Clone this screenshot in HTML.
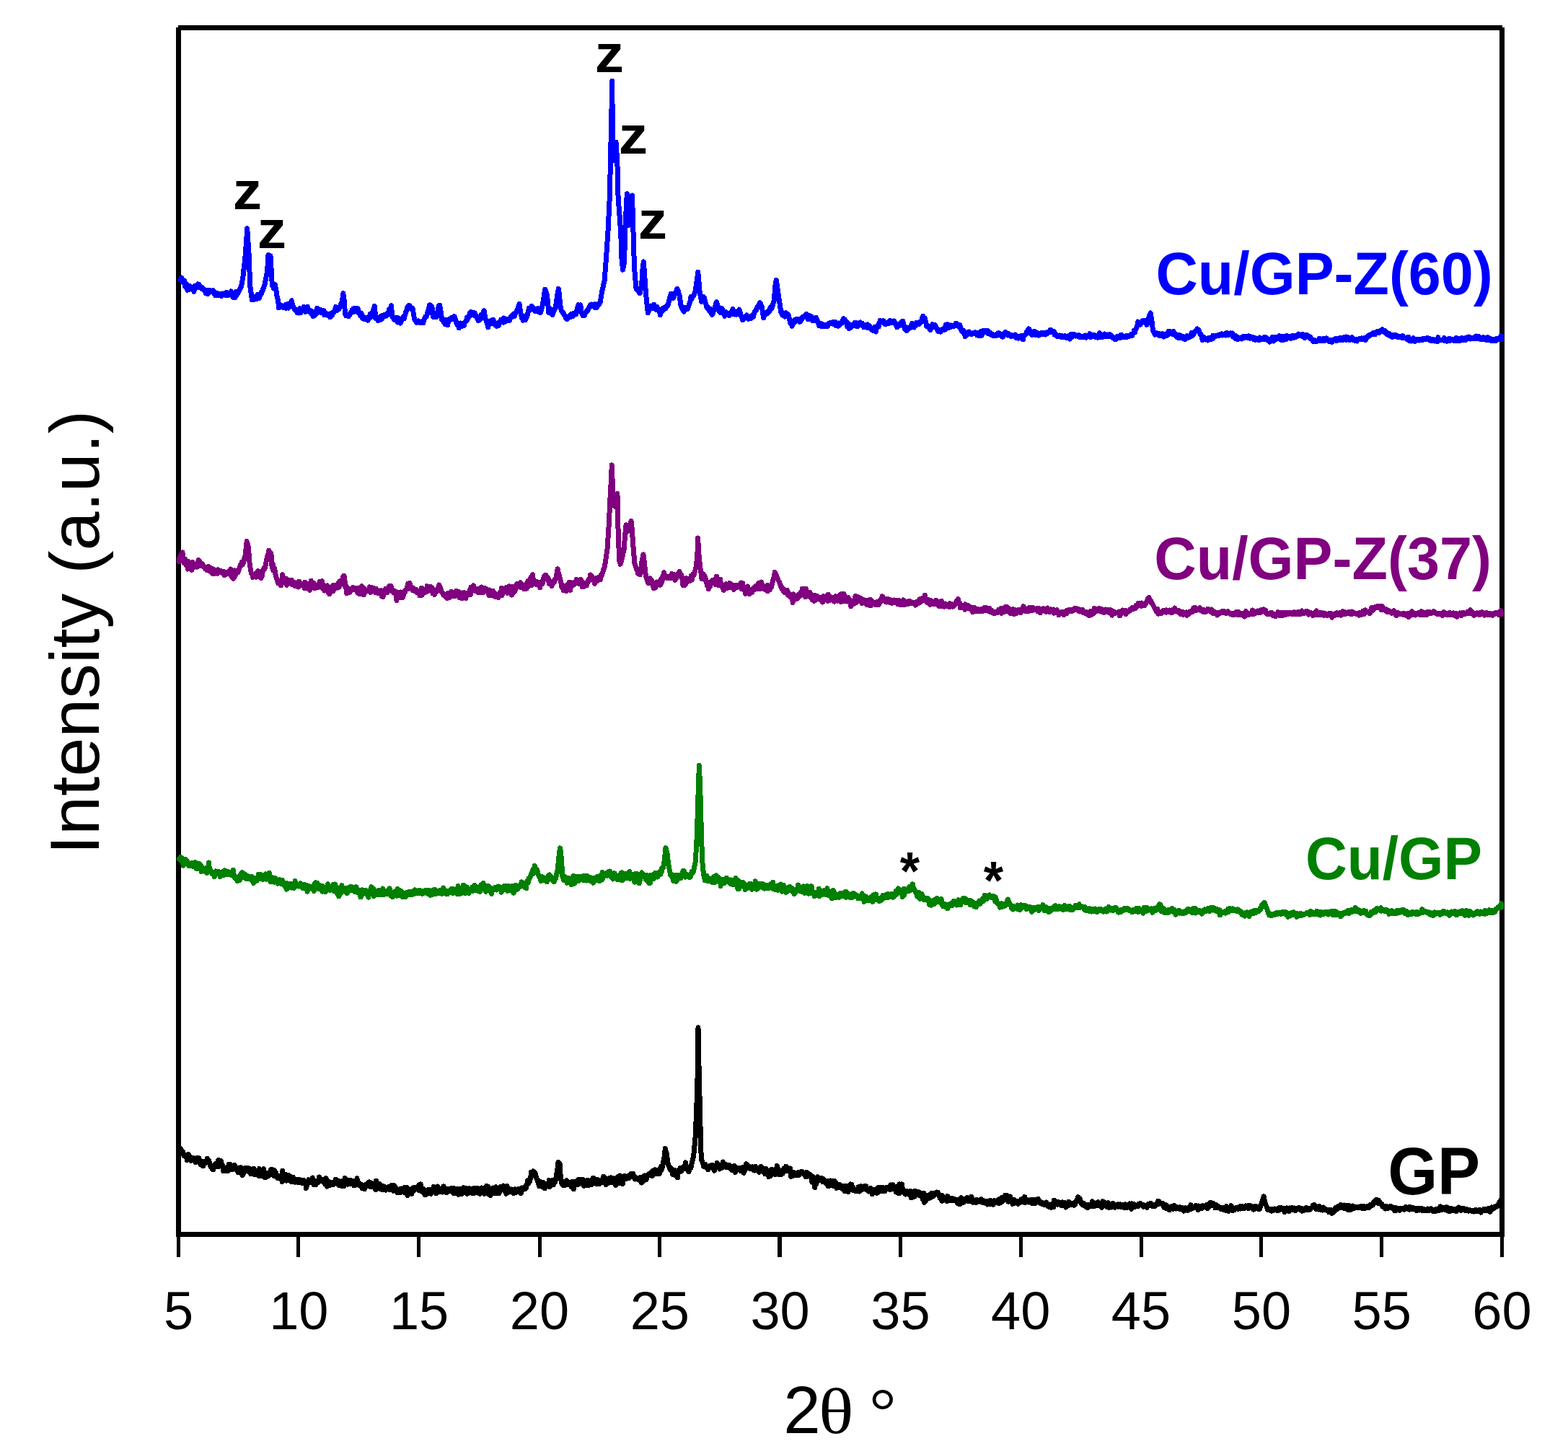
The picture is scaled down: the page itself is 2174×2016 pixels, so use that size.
<!DOCTYPE html>
<html lang="en">
<head>
<meta charset="utf-8">
<title>XRD patterns</title>
<style>
html,body{margin:0;padding:0;background:#fff;}
body{width:2174px;height:2016px;overflow:hidden;}
svg{display:block;position:absolute;left:0;top:0;}
text{font-family:"Liberation Sans",sans-serif;fill:#000;}
.b{font-weight:bold;}
.tick{font-size:74px;text-anchor:middle;}
.z{font-size:74px;font-weight:bold;}
.zz{font-size:74px;font-weight:bold;text-anchor:middle;}
.lab{font-size:81px;font-weight:bold;}
.curve{fill:none;stroke-linejoin:round;stroke-linecap:round;}
</style>
</head>
<body>
<svg width="2174" height="2016" viewBox="0 0 2174 2016">
<rect x="0" y="0" width="2174" height="2016" fill="#fff"/>
<g id="frame" shape-rendering="crispEdges" fill="#000">
<rect x="244" y="38" width="7" height="1677"/>
<rect x="2079" y="38" width="7" height="1677"/>
<rect x="247" y="35" width="1836" height="7"/>
<rect x="244" y="1708" width="1842" height="7"/>
<g id="ticks">
<rect x="245" y="1715" width="5" height="28"/>
<rect x="411" y="1715" width="5" height="28"/>
<rect x="578" y="1715" width="5" height="28"/>
<rect x="745.5" y="1715" width="5" height="28"/>
<rect x="912.3" y="1715" width="5" height="28"/>
<rect x="1078" y="1715" width="6" height="28"/>
<rect x="1245.9" y="1715" width="5" height="28"/>
<rect x="1412.7" y="1715" width="5" height="28"/>
<rect x="1579.5" y="1715" width="5" height="28"/>
<rect x="1746.4" y="1715" width="5" height="28"/>
<rect x="1913.2" y="1715" width="5" height="28"/>
<rect x="2080" y="1715" width="5" height="28"/>
</g>
</g>
<g id="curves" shape-rendering="crispEdges">
<path class="curve" d="M249.7 388.6 L250.3 387.6 L250.9 386.0 L251.5 384.9 L252.2 386.2 L252.9 387.6 L253.6 389.7 L254.3 391.6 L255.0 391.2 L255.6 389.0 L256.3 397.1 L257.0 395.4 L257.7 395.5 L258.4 393.6 L259.1 395.6 L259.8 402.3 L260.5 397.5 L261.2 397.3 L261.9 401.5 L262.6 400.3 L263.3 396.4 L264.0 397.4 L264.7 400.6 L265.4 399.7 L266.1 398.4 L266.8 398.9 L267.5 399.2 L268.2 399.5 L268.9 404.4 L269.5 400.3 L270.2 396.4 L270.8 396.7 L271.5 398.1 L272.1 397.5 L272.8 395.6 L273.5 395.8 L274.1 394.0 L274.7 398.3 L275.4 397.1 L276.0 394.5 L276.7 396.8 L277.3 398.1 L278.0 397.2 L278.6 398.3 L279.2 398.2 L279.9 400.7 L280.6 400.9 L281.3 399.4 L281.9 400.8 L282.6 401.8 L283.3 401.6 L283.9 403.1 L284.6 403.9 L285.3 406.7 L286.0 406.0 L286.6 404.8 L287.3 404.9 L288.0 407.5 L288.6 402.3 L289.2 406.4 L289.9 403.6 L290.5 403.4 L291.2 403.5 L291.8 402.7 L292.4 404.1 L293.1 403.1 L293.8 403.9 L294.5 404.1 L295.2 403.9 L295.9 402.8 L296.5 406.5 L297.2 404.7 L297.9 407.9 L298.6 409.7 L299.3 407.5 L300.0 407.3 L300.7 409.5 L301.3 406.4 L301.9 409.3 L302.6 407.7 L303.2 409.7 L303.9 407.8 L304.5 407.3 L305.1 408.5 L305.8 409.2 L306.5 408.9 L307.2 410.7 L307.9 407.0 L308.5 406.9 L309.2 407.1 L309.9 407.6 L310.6 406.9 L311.3 407.2 L312.0 408.8 L312.7 409.7 L313.4 406.3 L314.1 405.1 L314.8 408.0 L315.5 407.9 L316.2 409.7 L316.9 407.2 L317.6 406.3 L318.2 407.8 L318.9 407.9 L319.6 407.1 L320.3 403.8 L321.0 407.9 L321.7 409.8 L322.4 410.2 L323.1 412.3 L323.8 409.2 L324.5 412.4 L325.2 409.7 L325.9 412.6 L326.6 404.5 L327.3 410.4 L328.0 407.7 L328.7 406.0 L329.4 407.4 L330.1 406.1 L330.7 404.0 L331.4 402.5 L332.0 402.7 L332.7 399.9 L333.4 399.2 L334.0 398.2 L334.7 396.4 L335.4 392.2 L336.2 387.9 L337.0 383.5 L337.7 376.2 L338.4 370.4 L339.1 364.3 L339.8 357.7 L340.4 350.9 L341.2 339.9 L342.0 328.2 L342.7 316.8 L343.5 328.5 L344.2 339.5 L345.0 351.2 L345.6 365.9 L346.2 381.3 L346.8 397.0 L347.5 401.9 L348.2 406.8 L348.9 411.7 L349.6 415.8 L350.2 415.8 L350.9 413.2 L351.6 412.0 L352.2 415.4 L352.9 413.7 L353.5 414.4 L354.2 411.5 L354.9 413.3 L355.6 411.0 L356.2 414.4 L356.9 414.2 L357.6 408.3 L358.3 411.3 L359.0 411.9 L359.7 413.4 L360.3 409.7 L361.0 409.1 L361.7 406.1 L362.4 407.6 L363.0 405.6 L363.7 403.9 L364.4 401.8 L365.0 399.7 L365.7 398.4 L366.3 396.4 L367.0 394.8 L367.7 390.8 L368.4 388.0 L369.1 383.4 L369.8 380.1 L370.5 376.4 L371.2 365.8 L372.0 353.5 L372.8 354.8 L373.5 354.2 L374.3 354.9 L375.0 354.9 L375.6 364.3 L376.1 374.0 L376.7 384.1 L377.3 395.7 L378.0 393.9 L378.7 395.7 L379.4 399.7 L380.1 394.8 L380.7 397.0 L381.4 394.8 L382.2 399.1 L383.0 403.1 L383.7 408.7 L384.4 412.0 L385.1 415.2 L385.8 418.4 L386.5 426.7 L387.2 422.3 L387.8 423.0 L388.4 424.7 L389.1 422.7 L389.7 424.3 L390.3 425.0 L391.0 423.9 L391.6 424.5 L392.3 426.4 L392.9 426.3 L393.5 426.1 L394.2 424.6 L394.8 423.5 L395.5 426.5 L396.1 422.8 L396.7 427.3 L397.4 427.1 L398.0 424.2 L398.7 421.7 L399.3 425.7 L400.0 427.1 L400.7 423.2 L401.4 421.2 L402.1 424.8 L402.8 422.4 L403.6 419.1 L404.3 416.7 L404.9 420.0 L405.5 422.0 L406.1 424.4 L406.8 425.2 L407.5 427.3 L408.1 428.7 L408.8 428.8 L409.4 429.8 L410.1 430.6 L410.8 431.2 L411.4 431.3 L412.0 433.8 L412.7 429.1 L413.3 429.8 L414.0 431.2 L414.6 434.0 L415.2 432.1 L415.9 427.5 L416.5 431.3 L417.2 433.5 L417.9 430.5 L418.6 430.4 L419.2 431.2 L419.9 429.2 L420.6 430.1 L421.3 425.4 L421.9 427.6 L422.6 431.2 L423.3 432.4 L424.0 429.8 L424.6 427.3 L425.3 428.6 L425.9 430.6 L426.6 425.3 L427.2 430.4 L427.9 431.5 L428.5 431.7 L429.1 432.5 L429.8 431.8 L430.4 430.8 L431.1 431.0 L431.7 431.0 L432.4 435.3 L433.1 437.1 L433.7 435.0 L434.4 438.5 L435.0 435.8 L435.7 436.1 L436.4 437.5 L437.0 432.8 L437.7 431.6 L438.3 435.6 L439.0 428.8 L439.6 427.1 L440.3 431.0 L440.9 432.8 L441.6 432.3 L442.2 430.3 L442.9 432.9 L443.5 431.9 L444.1 429.5 L444.8 433.2 L445.4 430.9 L446.1 432.0 L446.7 433.7 L447.3 431.0 L448.0 430.2 L448.6 433.9 L449.3 431.0 L449.9 436.9 L450.5 436.5 L451.2 433.5 L451.8 434.6 L452.5 435.6 L453.1 435.2 L453.8 437.1 L454.4 436.9 L455.0 436.4 L455.7 437.6 L456.3 436.6 L457.0 437.9 L457.6 439.8 L458.3 434.7 L458.9 436.3 L459.6 434.2 L460.3 437.7 L460.9 433.2 L461.6 433.0 L462.2 433.9 L462.9 432.5 L463.6 432.6 L464.2 430.9 L464.9 427.4 L465.6 425.5 L466.2 426.2 L466.9 429.0 L467.6 430.4 L468.2 427.5 L468.9 427.3 L469.5 428.7 L470.2 428.0 L470.9 426.9 L471.5 425.0 L472.2 422.9 L472.9 421.4 L473.6 419.9 L474.3 417.7 L475.1 412.3 L475.9 406.7 L476.4 411.3 L477.0 415.1 L477.6 423.3 L478.2 430.4 L478.8 436.3 L479.5 437.7 L480.2 436.8 L480.8 437.4 L481.5 435.9 L482.1 436.6 L482.8 438.2 L483.5 438.7 L484.1 436.3 L484.8 436.7 L485.4 435.2 L486.1 433.2 L486.8 433.0 L487.4 433.3 L488.1 429.9 L488.7 431.6 L489.4 428.5 L490.0 432.6 L490.7 432.2 L491.3 429.6 L491.9 427.1 L492.6 431.8 L493.2 431.9 L493.9 430.8 L494.5 431.6 L495.2 432.5 L495.9 427.6 L496.5 429.4 L497.2 433.8 L497.8 432.3 L498.5 434.9 L499.2 433.8 L499.8 438.0 L500.5 435.4 L501.1 434.4 L501.8 437.7 L502.5 441.3 L503.1 438.6 L503.8 440.8 L504.5 440.4 L505.2 443.0 L505.9 440.7 L506.6 441.7 L507.3 440.1 L508.0 442.1 L508.7 440.9 L509.4 443.3 L510.1 444.2 L510.7 442.4 L511.4 441.2 L512.0 438.7 L512.7 441.1 L513.3 435.2 L513.9 439.0 L514.6 438.8 L515.2 436.9 L515.9 435.4 L516.5 433.8 L517.2 431.2 L517.9 428.9 L518.6 427.0 L519.3 424.4 L520.1 432.7 L520.8 441.3 L521.5 438.8 L522.1 441.2 L522.8 442.4 L523.4 442.0 L524.1 444.6 L524.7 441.6 L525.4 440.9 L526.0 441.6 L526.7 443.7 L527.3 442.2 L528.0 439.0 L528.7 438.1 L529.4 442.4 L530.0 440.5 L530.7 439.1 L531.4 437.5 L532.1 438.0 L532.8 438.6 L533.4 436.4 L534.1 436.6 L534.8 438.4 L535.5 437.5 L536.1 435.5 L536.8 436.5 L537.5 434.4 L538.1 434.4 L538.8 433.7 L539.4 429.3 L540.1 434.0 L540.9 430.6 L541.6 427.3 L542.4 423.7 L543.1 430.7 L543.9 439.2 L544.7 439.4 L545.4 441.2 L546.2 442.7 L546.9 441.3 L547.6 443.7 L548.3 442.8 L549.0 442.3 L549.7 440.2 L550.4 441.4 L551.1 440.2 L551.7 447.1 L552.4 441.1 L553.1 445.9 L553.8 442.4 L554.4 445.8 L555.1 448.1 L555.7 444.6 L556.4 445.5 L557.0 444.3 L557.7 442.8 L558.3 442.4 L558.9 439.8 L559.6 438.6 L560.2 441.9 L560.9 438.4 L561.5 436.6 L562.2 434.8 L562.8 432.4 L563.5 431.0 L564.1 428.9 L564.8 426.6 L565.4 424.8 L566.1 424.0 L566.8 424.6 L567.5 426.7 L568.2 423.7 L568.9 427.5 L569.6 426.5 L570.3 427.2 L571.0 428.4 L571.7 427.0 L572.4 428.8 L573.1 433.8 L573.9 438.1 L574.6 442.3 L575.3 443.5 L576.0 444.9 L576.7 445.6 L577.4 447.2 L578.1 445.3 L578.8 446.5 L579.4 446.3 L580.1 444.9 L580.8 447.1 L581.5 446.7 L582.2 447.8 L582.9 446.2 L583.5 447.3 L584.2 447.3 L584.9 445.9 L585.6 447.7 L586.3 447.0 L586.9 447.4 L587.5 444.5 L588.2 442.1 L588.8 441.7 L589.5 440.1 L590.1 438.7 L590.7 438.3 L591.4 438.8 L592.0 436.5 L592.7 433.8 L593.4 431.6 L594.1 429.2 L594.8 426.9 L595.4 423.0 L596.1 425.2 L596.8 423.0 L597.5 427.6 L598.2 424.2 L598.9 424.9 L599.5 430.6 L600.0 436.7 L600.7 439.4 L601.3 435.1 L602.0 437.8 L602.6 437.5 L603.3 434.1 L603.9 439.2 L604.6 438.3 L605.2 439.7 L605.9 438.4 L606.6 434.1 L607.4 429.9 L608.1 424.2 L608.9 426.0 L609.7 423.2 L610.4 426.9 L611.2 432.5 L612.0 438.0 L612.7 443.5 L613.3 441.2 L614.0 443.2 L614.6 444.7 L615.3 447.0 L615.9 446.1 L616.6 446.8 L617.2 449.8 L617.8 445.0 L618.5 443.7 L619.2 445.7 L619.9 446.1 L620.6 450.9 L621.3 446.8 L622.0 445.9 L622.7 442.6 L623.4 443.1 L624.1 443.9 L624.8 442.6 L625.4 441.5 L626.1 440.3 L626.8 442.2 L627.4 442.7 L628.1 442.2 L628.7 439.8 L629.4 441.4 L630.1 438.6 L630.8 441.0 L631.5 443.2 L632.1 445.4 L632.8 447.7 L633.5 449.0 L634.2 450.1 L634.9 451.6 L635.5 448.0 L636.2 454.9 L636.8 452.3 L637.5 450.0 L638.2 452.4 L638.8 447.9 L639.5 450.9 L640.2 452.5 L640.8 450.7 L641.5 451.6 L642.1 450.4 L642.8 451.6 L643.4 451.1 L644.1 447.9 L644.7 446.6 L645.4 446.3 L646.0 444.9 L646.7 444.1 L647.3 440.4 L647.9 443.8 L648.6 440.3 L649.2 440.4 L649.9 439.0 L650.5 439.4 L651.2 434.3 L651.8 436.7 L652.5 436.4 L653.1 432.5 L653.8 433.2 L654.4 434.5 L655.1 435.0 L655.7 436.3 L656.4 433.4 L657.0 435.2 L657.7 433.6 L658.3 437.9 L659.0 435.5 L659.6 437.4 L660.3 439.2 L660.9 440.0 L661.6 441.5 L662.3 442.7 L662.9 444.6 L663.6 444.2 L664.2 444.2 L664.9 443.4 L665.6 441.0 L666.2 442.9 L666.9 436.6 L667.5 439.4 L668.2 438.6 L668.9 436.9 L669.7 434.3 L670.4 432.7 L671.1 430.7 L671.9 435.4 L672.7 440.9 L673.4 442.5 L674.1 444.8 L674.8 446.7 L675.5 447.9 L676.2 451.9 L676.8 453.8 L677.5 448.7 L678.1 448.3 L678.7 450.0 L679.4 444.9 L680.0 444.7 L680.7 448.7 L681.3 445.1 L682.0 444.2 L682.6 446.9 L683.3 447.8 L684.0 443.1 L684.7 448.0 L685.4 447.9 L686.1 449.5 L686.8 451.2 L687.5 451.1 L688.2 451.6 L688.9 452.4 L689.6 451.0 L690.2 449.9 L690.8 447.7 L691.5 451.7 L692.1 448.8 L692.8 448.2 L693.4 447.7 L694.1 445.3 L694.7 443.1 L695.4 443.8 L696.0 446.4 L696.7 443.2 L697.3 446.0 L698.0 447.1 L698.6 441.0 L699.3 442.6 L699.9 446.1 L700.6 445.6 L701.2 444.3 L701.8 442.8 L702.5 444.4 L703.1 443.0 L703.8 444.7 L704.4 443.6 L705.1 444.7 L705.7 444.7 L706.4 444.6 L707.0 441.4 L707.7 440.1 L708.3 440.1 L709.0 439.5 L709.7 437.6 L710.3 439.3 L711.0 438.2 L711.6 438.7 L712.3 435.4 L713.0 437.7 L713.6 438.4 L714.3 435.0 L715.0 433.2 L715.7 432.1 L716.4 430.9 L717.2 429.5 L717.9 427.9 L718.5 426.2 L719.1 424.9 L719.6 422.8 L720.2 421.6 L720.8 426.6 L721.4 431.8 L722.0 434.4 L722.6 436.5 L723.2 439.6 L723.8 441.9 L724.5 442.3 L725.1 444.2 L725.8 443.9 L726.4 441.8 L727.1 440.5 L727.7 438.1 L728.4 443.7 L729.0 442.1 L729.7 438.2 L730.3 440.0 L731.0 437.9 L731.6 436.1 L732.1 433.1 L732.7 430.6 L733.3 427.5 L734.0 427.8 L734.7 428.9 L735.3 427.3 L736.0 429.4 L736.6 428.2 L737.3 424.7 L738.0 425.4 L738.6 426.9 L739.3 426.9 L740.0 429.4 L740.7 428.0 L741.4 431.5 L742.1 431.7 L742.8 430.8 L743.5 431.4 L744.1 430.5 L744.8 431.1 L745.5 430.7 L746.1 427.7 L746.8 432.6 L747.4 428.2 L748.1 430.7 L748.7 430.5 L749.4 433.5 L750.0 431.0 L750.6 429.3 L751.2 426.6 L751.8 424.2 L752.4 422.1 L753.1 417.7 L753.7 413.8 L754.4 409.6 L755.0 405.4 L755.7 401.2 L756.4 403.1 L757.0 404.3 L757.7 406.3 L758.3 407.9 L758.9 413.5 L759.5 419.3 L760.1 425.3 L760.7 433.3 L761.4 430.2 L762.0 431.0 L762.7 428.1 L763.4 433.3 L764.0 432.4 L764.7 429.0 L765.3 436.1 L766.0 436.5 L766.7 434.0 L767.4 432.1 L768.1 431.0 L768.8 428.8 L769.5 428.1 L770.2 427.0 L770.8 422.6 L771.4 418.2 L772.0 414.4 L772.6 410.1 L773.5 405.1 L774.3 400.5 L774.9 404.7 L775.5 409.9 L776.1 416.5 L776.7 422.0 L777.4 427.8 L778.1 430.0 L778.8 431.3 L779.5 432.4 L780.2 433.8 L780.9 433.5 L781.6 435.8 L782.3 437.1 L783.0 437.3 L783.7 438.3 L784.3 440.4 L785.0 441.8 L785.7 442.6 L786.4 442.1 L787.0 440.5 L787.7 441.2 L788.3 439.9 L789.0 438.2 L789.6 440.0 L790.3 439.9 L790.9 436.6 L791.6 438.1 L792.2 435.5 L792.9 437.9 L793.5 435.5 L794.2 438.6 L794.9 435.1 L795.5 434.3 L796.2 435.5 L796.8 436.3 L797.5 433.6 L798.2 434.1 L798.8 435.6 L799.4 432.3 L800.0 429.6 L800.6 427.2 L801.2 425.3 L801.9 422.6 L802.6 424.3 L803.3 423.2 L804.0 423.0 L804.8 422.8 L805.6 428.5 L806.4 433.8 L807.1 435.3 L807.7 437.2 L808.3 435.8 L809.0 435.5 L809.6 434.9 L810.3 437.5 L810.9 435.6 L811.6 434.2 L812.2 432.9 L812.9 431.7 L813.5 431.1 L814.2 431.3 L814.8 430.6 L815.5 429.1 L816.2 427.6 L816.9 426.0 L817.6 424.8 L818.3 423.8 L819.0 422.1 L819.7 422.1 L820.4 422.0 L821.1 422.8 L821.8 422.6 L822.4 423.6 L823.1 425.3 L823.8 425.1 L824.5 421.6 L825.2 426.6 L825.9 426.3 L826.7 426.6 L827.4 425.9 L828.1 425.6 L828.7 422.1 L829.4 421.3 L830.1 423.0 L830.8 420.7 L831.5 420.4 L832.1 419.3 L832.7 415.8 L833.3 412.5 L833.9 408.8 L834.5 404.9 L835.2 402.0 L836.0 398.8 L836.7 395.3 L837.4 391.8 L838.1 388.9 L838.7 381.3 L839.3 373.0 L839.9 365.2 L840.5 357.9 L841.1 348.9 L841.7 339.7 L842.3 330.9 L842.9 322.0 L843.5 310.2 L844.1 298.4 L844.7 285.9 L845.2 274.8 L846.1 238.3 L846.9 202.8 L847.5 172.9 L848.2 143.2 L848.6 112.4 L849.0 143.5 L849.8 179.1 L850.2 212.2 L851.2 222.2 L851.9 215.8 L852.6 209.0 L853.3 203.4 L854.0 197.0 L854.7 206.3 L855.3 216.9 L855.9 226.6 L856.5 250.0 L857.1 274.1 L857.9 284.1 L858.6 293.1 L859.3 302.3 L860.0 312.4 L860.7 321.7 L861.3 339.6 L861.9 357.7 L862.7 365.9 L863.6 374.2 L864.2 371.0 L864.9 367.7 L865.5 364.6 L866.1 343.8 L866.7 322.0 L867.5 304.2 L868.3 286.5 L869.3 268.7 L869.8 286.3 L870.6 299.6 L871.4 312.5 L872.1 307.8 L872.9 303.9 L873.6 298.6 L874.3 294.7 L875.0 290.8 L875.7 286.0 L876.4 271.0 L877.4 298.0 L878.0 321.7 L878.6 345.6 L879.4 362.9 L880.2 381.4 L880.9 387.9 L881.5 394.2 L882.1 400.8 L882.8 400.7 L883.4 402.4 L884.1 402.0 L884.8 402.1 L885.4 403.7 L886.1 405.6 L886.7 402.4 L887.4 406.6 L888.0 403.2 L888.6 400.0 L889.2 396.6 L889.8 393.2 L890.5 381.7 L891.2 370.1 L891.8 366.3 L892.4 362.8 L892.8 369.8 L893.7 380.9 L894.5 393.5 L895.1 401.6 L895.8 409.1 L896.4 417.7 L897.1 422.8 L897.7 428.4 L898.3 433.9 L899.0 432.5 L899.7 431.0 L900.3 429.3 L901.0 428.2 L901.7 427.1 L902.4 424.0 L903.0 425.1 L903.7 425.9 L904.3 427.3 L905.0 425.9 L905.6 425.1 L906.3 427.4 L906.9 422.2 L907.6 424.7 L908.2 426.4 L908.9 425.1 L909.5 424.9 L910.2 429.3 L910.8 425.3 L911.5 426.9 L912.2 428.8 L912.8 429.5 L913.5 429.4 L914.2 432.5 L914.8 433.3 L915.5 436.8 L916.1 433.6 L916.8 433.0 L917.5 430.8 L918.1 431.6 L918.8 431.2 L919.5 427.0 L920.1 429.3 L920.8 429.1 L921.4 426.6 L922.1 427.2 L922.8 427.6 L923.5 426.0 L924.2 425.3 L924.8 423.5 L925.5 424.0 L926.2 423.3 L926.8 420.2 L927.4 417.5 L928.1 415.6 L928.7 412.6 L929.3 410.2 L929.9 409.1 L930.5 407.1 L931.2 408.7 L931.9 410.2 L932.6 412.0 L933.3 413.7 L934.0 412.1 L934.6 410.4 L935.2 409.1 L935.9 407.8 L936.5 406.2 L937.1 404.8 L937.8 403.1 L938.4 401.4 L939.0 400.5 L939.7 402.3 L940.3 403.6 L940.9 406.4 L941.5 408.5 L942.1 409.7 L942.8 414.8 L943.4 419.2 L944.0 423.5 L944.8 426.4 L945.5 426.8 L946.2 428.9 L946.9 425.7 L947.6 431.8 L948.3 432.1 L948.9 430.1 L949.6 429.6 L950.3 426.8 L950.9 428.3 L951.6 426.7 L952.2 427.5 L952.9 428.6 L953.6 427.9 L954.3 425.6 L955.0 423.6 L955.7 421.4 L956.4 418.9 L957.2 416.9 L957.9 411.7 L958.5 413.4 L959.2 414.2 L959.9 412.9 L960.6 410.8 L961.2 410.8 L961.9 409.9 L962.5 408.5 L963.1 406.1 L963.7 404.4 L964.3 403.5 L965.0 397.5 L965.7 392.7 L966.4 387.4 L967.1 382.4 L967.8 377.1 L968.4 384.2 L969.0 391.2 L969.6 398.4 L970.2 405.2 L970.8 408.2 L971.4 411.1 L972.0 414.3 L972.6 418.5 L973.3 415.4 L974.0 414.7 L974.8 413.5 L975.5 411.7 L976.2 412.1 L976.8 414.8 L977.4 417.3 L978.0 419.5 L978.7 421.9 L979.3 423.2 L979.9 426.6 L980.6 426.1 L981.2 427.5 L981.9 426.1 L982.6 427.5 L983.2 430.5 L983.9 431.6 L984.5 428.1 L985.2 431.9 L986.0 434.2 L986.7 433.8 L987.4 436.7 L988.1 435.2 L988.8 432.7 L989.5 430.9 L990.2 428.5 L991.0 426.6 L991.7 424.1 L992.5 421.4 L993.3 418.7 L994.0 420.6 L994.6 422.2 L995.2 424.4 L995.8 426.3 L996.4 429.0 L997.0 432.0 L997.6 432.6 L998.3 431.1 L999.0 433.7 L999.8 427.6 L1000.5 428.7 L1001.2 428.0 L1001.9 429.5 L1002.6 431.0 L1003.3 432.9 L1004.0 434.2 L1004.8 438.2 L1005.4 437.3 L1006.0 434.6 L1006.7 432.9 L1007.3 436.4 L1008.0 435.2 L1008.6 435.9 L1009.2 436.0 L1009.9 435.7 L1010.5 434.7 L1011.2 437.9 L1011.8 434.5 L1012.5 433.5 L1013.1 434.7 L1013.7 435.7 L1014.3 433.2 L1014.9 432.0 L1015.5 430.5 L1016.1 428.3 L1016.8 433.6 L1017.5 434.6 L1018.1 431.6 L1018.8 436.0 L1019.5 433.5 L1020.1 433.8 L1020.8 436.3 L1021.4 436.3 L1022.2 434.4 L1022.9 432.8 L1023.6 431.8 L1024.3 430.6 L1025.0 429.1 L1025.6 431.4 L1026.3 433.5 L1026.9 436.0 L1027.6 437.7 L1028.3 439.9 L1029.0 441.7 L1029.8 443.8 L1030.4 442.8 L1031.1 441.4 L1031.8 441.5 L1032.5 440.6 L1033.2 438.7 L1033.8 439.0 L1034.5 438.3 L1035.2 436.8 L1035.8 439.5 L1036.5 438.6 L1037.1 438.9 L1037.8 442.2 L1038.4 439.7 L1039.1 440.0 L1039.7 440.5 L1040.4 438.7 L1041.0 439.8 L1041.7 441.5 L1042.4 440.0 L1043.0 438.5 L1043.7 437.2 L1044.4 439.4 L1045.1 436.2 L1045.8 434.7 L1046.4 432.1 L1047.1 431.8 L1047.8 429.8 L1048.5 430.1 L1049.2 428.0 L1049.8 425.7 L1050.5 424.6 L1051.2 424.3 L1051.8 423.2 L1052.4 421.6 L1053.0 420.6 L1053.6 419.6 L1054.2 420.6 L1054.8 421.6 L1055.3 423.4 L1055.9 424.3 L1056.7 427.8 L1057.4 432.4 L1058.1 436.9 L1058.8 440.9 L1059.5 438.1 L1060.2 437.1 L1060.9 436.8 L1061.7 436.4 L1062.4 433.9 L1063.1 433.6 L1063.7 434.8 L1064.4 433.4 L1065.0 433.4 L1065.7 430.7 L1066.3 432.7 L1067.0 428.8 L1067.6 428.4 L1068.3 425.8 L1068.9 426.7 L1069.6 428.3 L1070.2 426.7 L1071.0 424.4 L1071.7 421.7 L1072.4 419.5 L1073.1 417.1 L1073.7 410.1 L1074.4 403.0 L1075.0 395.7 L1075.6 392.1 L1076.2 388.3 L1076.8 391.7 L1077.4 395.7 L1078.0 399.8 L1078.6 404.1 L1079.2 408.5 L1079.8 412.5 L1080.5 417.1 L1081.2 421.6 L1081.9 426.8 L1082.6 432.3 L1083.3 432.3 L1084.0 435.3 L1084.8 437.0 L1085.5 433.3 L1086.2 437.4 L1086.9 437.9 L1087.6 438.3 L1088.2 439.0 L1088.9 435.3 L1089.5 433.8 L1090.2 438.7 L1090.9 436.8 L1091.5 436.4 L1092.2 436.4 L1092.9 436.0 L1093.5 438.6 L1094.0 440.8 L1094.6 443.3 L1095.2 445.6 L1095.9 448.5 L1096.7 445.3 L1097.4 447.9 L1098.1 452.2 L1098.8 449.6 L1099.5 449.1 L1100.2 447.2 L1100.8 446.0 L1101.5 447.4 L1102.2 443.5 L1102.9 444.3 L1103.6 445.6 L1104.2 442.0 L1104.9 444.2 L1105.5 444.3 L1106.2 443.0 L1106.9 443.8 L1107.5 443.8 L1108.2 442.4 L1108.9 446.4 L1109.5 442.5 L1110.2 445.5 L1111.0 442.4 L1111.7 442.6 L1112.4 440.0 L1113.1 439.1 L1113.8 439.7 L1114.5 438.8 L1115.2 438.0 L1116.0 439.4 L1116.7 437.4 L1117.4 436.8 L1118.1 435.6 L1118.8 438.7 L1119.5 440.3 L1120.2 442.4 L1121.0 442.1 L1121.7 437.1 L1122.4 442.2 L1123.1 440.2 L1123.8 439.8 L1124.5 442.0 L1125.2 438.8 L1126.0 442.8 L1126.7 444.8 L1127.4 444.9 L1128.1 444.9 L1128.7 442.8 L1129.4 444.0 L1130.1 441.1 L1130.8 444.1 L1131.5 440.2 L1132.1 442.2 L1132.9 443.8 L1133.6 445.4 L1134.3 447.5 L1135.0 448.7 L1135.7 451.8 L1136.4 450.6 L1137.1 451.0 L1137.8 448.4 L1138.4 452.4 L1139.1 449.3 L1139.8 449.2 L1140.5 450.4 L1141.2 451.1 L1141.8 452.2 L1142.5 452.7 L1143.2 451.3 L1143.9 452.0 L1144.6 452.5 L1145.2 450.1 L1145.9 452.8 L1146.6 452.4 L1147.3 452.3 L1148.0 451.5 L1148.6 449.3 L1149.3 449.5 L1150.0 447.8 L1150.7 448.5 L1151.4 448.8 L1152.0 447.5 L1152.7 447.9 L1153.4 447.4 L1154.1 448.6 L1154.8 446.6 L1155.4 446.9 L1156.1 448.5 L1156.7 450.1 L1157.4 449.1 L1158.1 446.6 L1158.7 451.4 L1159.4 447.5 L1160.1 449.9 L1160.7 448.0 L1161.2 452.1 L1161.8 452.2 L1162.5 448.0 L1163.1 449.5 L1163.8 450.4 L1164.4 450.7 L1165.0 450.0 L1165.7 449.3 L1166.3 447.5 L1167.0 448.2 L1167.7 446.7 L1168.3 444.9 L1169.0 443.2 L1169.7 441.7 L1170.4 443.7 L1171.2 443.0 L1171.9 444.4 L1172.6 446.1 L1173.3 445.4 L1174.0 449.2 L1174.7 452.7 L1175.4 447.5 L1176.1 450.4 L1176.8 454.7 L1177.4 455.7 L1178.1 450.3 L1178.7 453.0 L1179.3 454.4 L1180.0 452.7 L1180.6 450.2 L1181.2 452.1 L1181.9 450.6 L1182.6 451.8 L1183.3 451.0 L1184.0 449.5 L1184.7 451.3 L1185.4 447.3 L1186.1 450.3 L1186.8 450.2 L1187.5 449.5 L1188.2 447.9 L1188.9 452.8 L1189.5 449.4 L1190.1 449.1 L1190.8 450.4 L1191.4 450.7 L1192.1 449.6 L1192.7 446.9 L1193.3 447.7 L1194.0 450.4 L1194.6 449.8 L1195.3 448.1 L1196.0 451.1 L1196.7 452.2 L1197.4 450.3 L1198.1 454.0 L1198.7 450.4 L1199.4 451.8 L1200.1 450.7 L1200.7 450.2 L1201.4 451.6 L1202.0 450.5 L1202.7 449.9 L1203.4 450.7 L1204.0 455.0 L1204.7 451.9 L1205.3 451.6 L1206.0 454.1 L1206.7 453.9 L1207.3 454.7 L1208.0 456.8 L1208.7 457.4 L1209.4 457.9 L1210.1 455.6 L1210.8 455.7 L1211.5 458.5 L1212.2 456.7 L1212.9 453.2 L1213.5 457.7 L1214.2 460.0 L1214.9 455.6 L1215.6 452.6 L1216.2 453.1 L1216.9 453.4 L1217.5 451.1 L1218.2 453.0 L1218.9 447.9 L1219.5 448.4 L1220.1 444.3 L1220.8 445.3 L1221.4 446.9 L1222.1 446.3 L1222.7 446.6 L1223.3 446.6 L1224.0 445.1 L1224.6 445.6 L1225.3 445.0 L1225.9 447.8 L1226.6 449.2 L1227.3 447.0 L1227.9 449.1 L1228.6 448.3 L1229.2 448.9 L1229.9 447.2 L1230.6 446.9 L1231.2 448.9 L1231.9 447.0 L1232.5 445.8 L1233.2 446.9 L1233.9 444.4 L1234.5 447.7 L1235.1 446.7 L1235.8 445.2 L1236.4 446.1 L1237.1 446.9 L1237.7 446.2 L1238.3 447.8 L1239.0 445.2 L1239.6 445.0 L1240.3 447.5 L1240.9 447.1 L1241.6 447.7 L1242.2 449.1 L1242.9 451.8 L1243.5 453.8 L1244.2 453.5 L1244.8 449.5 L1245.4 451.0 L1246.1 452.1 L1246.8 451.3 L1247.5 450.7 L1248.2 449.5 L1248.9 448.8 L1249.6 446.6 L1250.4 445.6 L1251.1 445.7 L1251.9 445.5 L1252.5 447.9 L1253.2 451.1 L1253.9 454.6 L1254.6 456.2 L1255.4 455.8 L1256.1 455.6 L1256.9 458.7 L1257.5 454.0 L1258.2 457.3 L1258.8 456.0 L1259.5 454.4 L1260.1 454.5 L1260.7 454.0 L1261.4 455.0 L1262.0 454.0 L1262.7 452.3 L1263.3 451.4 L1264.0 450.4 L1264.7 448.2 L1265.4 450.5 L1266.1 451.8 L1266.7 451.6 L1267.4 454.1 L1268.1 450.5 L1268.8 451.3 L1269.5 451.6 L1270.2 449.6 L1270.8 447.1 L1271.5 449.5 L1272.1 449.2 L1272.8 449.6 L1273.4 447.5 L1274.0 448.1 L1274.7 449.4 L1275.3 446.3 L1276.0 447.7 L1276.6 446.7 L1277.4 444.9 L1278.1 442.9 L1278.9 440.2 L1279.6 438.3 L1280.3 440.0 L1280.9 440.6 L1281.6 441.4 L1282.3 441.2 L1283.1 444.6 L1283.8 448.0 L1284.6 452.2 L1285.2 452.0 L1285.9 451.5 L1286.6 452.9 L1287.2 453.9 L1287.9 453.4 L1288.5 453.2 L1289.2 456.3 L1289.9 457.5 L1290.5 455.8 L1291.2 452.1 L1291.8 453.1 L1292.5 454.1 L1293.1 449.7 L1293.8 452.2 L1294.4 452.9 L1295.1 452.7 L1295.7 450.8 L1296.4 450.5 L1297.0 451.7 L1297.7 454.5 L1298.3 453.8 L1299.0 456.7 L1299.6 457.2 L1300.3 458.4 L1300.9 459.8 L1301.6 458.6 L1302.2 457.7 L1302.8 457.9 L1303.5 458.2 L1304.1 460.3 L1304.8 458.5 L1305.4 458.5 L1306.1 457.0 L1306.7 458.0 L1307.3 457.9 L1308.0 457.1 L1308.6 457.6 L1309.3 455.1 L1309.9 454.0 L1310.5 457.1 L1311.2 450.5 L1311.8 453.4 L1312.5 454.2 L1313.2 452.1 L1313.8 449.5 L1314.5 452.7 L1315.1 454.4 L1315.8 451.5 L1316.4 453.1 L1317.1 451.4 L1317.7 451.1 L1318.4 453.4 L1319.0 451.0 L1319.6 452.6 L1320.3 451.7 L1320.9 451.2 L1321.6 452.3 L1322.2 452.7 L1322.9 451.4 L1323.5 450.5 L1324.2 451.4 L1324.9 451.7 L1325.5 448.3 L1326.2 451.1 L1326.8 451.5 L1327.5 449.7 L1328.2 449.9 L1328.8 452.0 L1329.5 453.2 L1330.1 450.2 L1330.8 450.5 L1331.6 454.5 L1332.4 457.3 L1333.0 458.6 L1333.7 458.9 L1334.3 459.6 L1335.0 460.6 L1335.6 458.0 L1336.2 461.2 L1336.9 461.1 L1337.5 463.0 L1338.2 466.6 L1338.8 463.7 L1339.5 461.6 L1340.1 461.3 L1340.8 460.8 L1341.5 463.9 L1342.1 462.7 L1342.8 462.4 L1343.4 459.9 L1344.1 460.5 L1344.7 462.8 L1345.4 462.1 L1346.0 462.2 L1346.7 462.9 L1347.3 463.6 L1348.0 462.6 L1348.6 462.7 L1349.3 461.7 L1350.0 462.1 L1350.6 461.3 L1351.3 462.0 L1352.0 460.8 L1352.7 460.9 L1353.4 461.6 L1354.1 462.1 L1354.8 464.8 L1355.5 463.9 L1356.2 463.3 L1356.9 461.4 L1357.6 465.9 L1358.3 461.5 L1359.0 460.4 L1359.6 460.7 L1360.3 459.4 L1361.0 465.2 L1361.7 462.6 L1362.4 458.9 L1363.1 460.7 L1363.8 458.8 L1364.4 460.3 L1365.0 460.7 L1365.7 459.4 L1366.3 459.7 L1367.0 458.5 L1367.6 460.7 L1368.2 458.4 L1368.9 458.5 L1369.5 462.3 L1370.2 458.9 L1370.9 461.7 L1371.5 461.6 L1372.2 461.6 L1372.8 463.3 L1373.5 461.6 L1374.2 463.2 L1374.8 462.7 L1375.5 464.7 L1376.1 465.1 L1376.8 465.0 L1377.5 465.4 L1378.1 465.6 L1378.8 464.5 L1379.5 465.6 L1380.2 464.3 L1380.9 464.5 L1381.6 465.3 L1382.3 463.6 L1383.0 462.6 L1383.7 463.8 L1384.3 463.1 L1385.0 461.7 L1385.7 464.5 L1386.3 462.3 L1387.0 463.0 L1387.6 464.7 L1388.2 466.2 L1388.9 465.4 L1389.5 466.3 L1390.2 467.2 L1390.8 466.7 L1391.5 465.0 L1392.2 463.0 L1392.9 461.2 L1393.6 460.3 L1394.3 462.8 L1395.0 463.1 L1395.7 461.8 L1396.3 464.1 L1397.0 462.5 L1397.7 465.1 L1398.4 462.5 L1399.1 463.6 L1399.7 464.2 L1400.4 464.7 L1401.0 465.7 L1401.7 464.3 L1402.3 466.6 L1403.0 465.9 L1403.7 465.8 L1404.3 465.2 L1405.0 465.6 L1405.6 465.2 L1406.3 464.9 L1407.0 464.7 L1407.6 464.1 L1408.3 467.7 L1408.9 465.8 L1409.6 468.8 L1410.3 467.5 L1410.9 467.4 L1411.6 468.7 L1412.2 469.2 L1412.9 468.9 L1413.5 466.1 L1414.1 467.1 L1414.8 467.5 L1415.4 468.7 L1416.1 465.3 L1416.7 468.6 L1417.4 468.9 L1418.0 470.8 L1418.7 470.7 L1419.3 465.1 L1420.0 466.0 L1420.6 464.5 L1421.3 463.9 L1422.0 463.2 L1422.7 462.6 L1423.4 459.8 L1424.0 459.8 L1424.7 458.8 L1425.4 457.1 L1426.1 455.8 L1426.8 458.1 L1427.4 457.1 L1428.1 460.7 L1428.7 460.0 L1429.4 463.1 L1430.0 461.4 L1430.7 464.6 L1431.3 463.2 L1432.0 462.0 L1432.6 463.2 L1433.3 461.9 L1433.9 459.3 L1434.5 461.0 L1435.2 460.8 L1435.8 460.2 L1436.5 464.7 L1437.2 462.2 L1437.9 461.6 L1438.6 462.6 L1439.3 465.1 L1439.9 465.2 L1440.6 465.0 L1441.2 463.8 L1441.8 463.2 L1442.5 464.0 L1443.1 463.8 L1443.8 461.8 L1444.4 463.8 L1445.0 461.2 L1445.7 461.3 L1446.4 463.8 L1447.1 462.9 L1447.8 462.9 L1448.5 462.8 L1449.2 461.2 L1449.9 464.0 L1450.6 462.4 L1451.3 463.1 L1452.0 460.7 L1452.6 462.4 L1453.3 461.4 L1454.0 461.4 L1454.6 460.2 L1455.3 458.6 L1455.9 459.5 L1456.6 457.2 L1457.3 457.8 L1458.0 460.5 L1458.7 460.9 L1459.4 459.9 L1460.1 459.7 L1460.7 460.0 L1461.4 459.9 L1462.1 464.3 L1462.8 464.8 L1463.5 464.1 L1464.2 463.7 L1464.8 464.3 L1465.4 465.0 L1466.1 466.8 L1466.7 465.6 L1467.4 466.0 L1468.0 466.8 L1468.6 465.2 L1469.3 465.0 L1469.9 466.0 L1470.6 466.6 L1471.2 467.1 L1471.8 467.4 L1472.5 466.3 L1473.1 465.9 L1473.8 466.7 L1474.4 466.7 L1475.1 467.4 L1475.7 467.8 L1476.3 467.4 L1477.0 465.7 L1477.6 466.2 L1478.3 466.9 L1478.9 468.5 L1479.5 467.3 L1480.2 466.2 L1480.8 466.0 L1481.5 467.0 L1482.1 465.9 L1482.7 468.0 L1483.4 470.1 L1484.0 466.2 L1484.7 466.2 L1485.3 463.3 L1486.0 465.1 L1486.6 467.2 L1487.3 464.6 L1487.9 465.2 L1488.6 464.5 L1489.2 463.4 L1489.9 463.8 L1490.5 464.1 L1491.2 464.7 L1491.9 465.9 L1492.5 465.0 L1493.2 465.9 L1493.8 465.3 L1494.5 465.6 L1495.2 464.7 L1495.8 467.0 L1496.5 466.0 L1497.1 467.6 L1497.8 465.7 L1498.5 466.7 L1499.1 466.3 L1499.8 466.6 L1500.4 467.1 L1501.1 466.2 L1501.8 467.0 L1502.5 467.6 L1503.2 465.7 L1503.9 467.6 L1504.6 465.0 L1505.3 467.1 L1506.0 468.0 L1506.7 466.4 L1507.4 466.3 L1508.0 465.2 L1508.6 466.6 L1509.3 465.2 L1509.9 464.4 L1510.6 466.1 L1511.2 462.7 L1511.9 463.8 L1512.5 467.7 L1513.1 464.2 L1513.8 464.9 L1514.4 464.5 L1515.1 464.3 L1515.7 466.7 L1516.3 466.1 L1517.0 464.5 L1517.6 466.3 L1518.3 466.5 L1518.9 465.5 L1519.5 467.6 L1520.2 466.3 L1520.8 466.6 L1521.5 465.9 L1522.1 468.3 L1522.8 465.2 L1523.4 464.6 L1524.0 465.1 L1524.7 461.5 L1525.4 463.9 L1526.1 465.6 L1526.8 463.5 L1527.4 468.0 L1528.1 465.0 L1528.8 465.4 L1529.5 465.4 L1530.2 466.0 L1530.9 466.4 L1531.6 463.0 L1532.2 466.9 L1532.9 466.3 L1533.5 466.6 L1534.2 465.4 L1534.8 466.7 L1535.5 464.0 L1536.1 464.6 L1536.8 466.1 L1537.4 464.0 L1538.1 464.5 L1538.7 464.8 L1539.3 463.9 L1540.0 466.4 L1540.6 466.3 L1541.2 465.7 L1541.9 467.2 L1542.5 466.8 L1543.1 468.9 L1543.8 468.6 L1544.4 468.9 L1545.1 470.1 L1545.7 468.8 L1546.3 470.4 L1547.0 470.6 L1547.6 469.9 L1548.3 468.7 L1548.9 466.7 L1549.6 467.2 L1550.2 468.8 L1550.9 468.4 L1551.5 466.4 L1552.2 466.1 L1552.9 465.4 L1553.5 464.6 L1554.2 468.1 L1554.8 464.4 L1555.5 466.4 L1556.2 466.2 L1556.8 467.5 L1557.5 467.7 L1558.1 468.0 L1558.8 467.9 L1559.4 467.7 L1560.1 466.1 L1560.7 466.8 L1561.3 467.9 L1562.0 467.5 L1562.6 465.2 L1563.3 465.8 L1563.9 466.9 L1564.6 466.8 L1565.2 465.1 L1565.8 465.7 L1566.5 465.6 L1567.1 465.8 L1567.8 464.8 L1568.4 463.4 L1569.0 463.7 L1569.7 465.6 L1570.3 462.7 L1571.0 462.8 L1571.7 462.4 L1572.3 458.4 L1573.0 459.3 L1573.6 461.0 L1574.3 457.4 L1575.0 455.9 L1575.7 454.2 L1576.4 452.5 L1577.1 450.8 L1577.8 446.0 L1578.4 449.0 L1579.1 449.3 L1579.7 447.2 L1580.3 447.6 L1581.0 450.4 L1581.6 449.5 L1582.3 447.1 L1582.9 447.3 L1583.6 445.0 L1584.3 446.3 L1585.0 444.8 L1585.7 446.7 L1586.3 444.6 L1587.0 445.4 L1587.7 444.7 L1588.5 446.5 L1589.3 448.5 L1590.0 450.4 L1590.7 447.7 L1591.4 445.5 L1592.1 442.6 L1592.8 440.3 L1593.6 437.8 L1594.3 436.1 L1595.1 434.0 L1595.9 438.4 L1596.6 442.3 L1597.3 447.4 L1597.9 453.1 L1598.5 458.4 L1599.3 459.9 L1600.0 461.7 L1600.8 462.8 L1601.4 464.1 L1602.1 463.1 L1602.7 462.3 L1603.4 461.5 L1604.0 463.5 L1604.6 462.7 L1605.3 464.3 L1605.9 464.3 L1606.6 464.6 L1607.3 462.6 L1608.0 465.4 L1608.7 463.9 L1609.4 465.1 L1610.1 465.5 L1610.7 464.4 L1611.4 462.8 L1612.1 465.6 L1612.8 465.5 L1613.5 467.0 L1614.2 465.9 L1614.8 463.2 L1615.5 464.3 L1616.1 465.3 L1616.7 465.8 L1617.4 465.3 L1618.0 464.6 L1618.7 463.5 L1619.3 464.3 L1620.0 459.8 L1620.6 463.4 L1621.3 462.5 L1621.9 459.1 L1622.6 462.5 L1623.2 460.7 L1623.9 460.5 L1624.5 462.2 L1625.1 461.9 L1625.8 463.4 L1626.4 459.6 L1627.1 459.5 L1627.7 461.5 L1628.4 463.7 L1629.1 462.2 L1629.8 465.2 L1630.4 465.8 L1631.1 467.2 L1631.8 467.3 L1632.4 466.9 L1633.1 468.1 L1633.8 467.0 L1634.4 468.6 L1635.1 467.4 L1635.7 464.4 L1636.4 467.0 L1637.0 465.3 L1637.7 468.7 L1638.4 468.0 L1639.0 467.5 L1639.7 466.3 L1640.4 468.7 L1641.1 469.6 L1641.7 469.5 L1642.4 470.1 L1643.0 469.1 L1643.7 470.4 L1644.3 468.3 L1645.0 468.2 L1645.6 465.8 L1646.3 468.5 L1646.9 468.9 L1647.6 467.9 L1648.2 467.1 L1648.9 467.4 L1649.5 466.3 L1650.2 465.7 L1650.8 465.7 L1651.5 464.7 L1652.1 461.1 L1652.8 466.0 L1653.4 463.5 L1654.1 463.5 L1654.7 464.0 L1655.4 462.6 L1656.0 461.4 L1656.6 460.0 L1657.1 458.9 L1657.7 458.9 L1658.4 457.9 L1659.1 457.7 L1659.9 455.9 L1660.6 458.5 L1661.3 456.8 L1661.9 458.0 L1662.4 459.0 L1663.0 460.3 L1663.6 462.6 L1664.3 462.6 L1665.0 465.1 L1665.7 465.5 L1666.4 467.3 L1667.1 471.8 L1667.8 470.0 L1668.5 469.2 L1669.2 467.2 L1669.8 468.9 L1670.5 469.3 L1671.2 470.1 L1671.9 470.9 L1672.5 469.9 L1673.2 470.0 L1673.8 470.8 L1674.4 469.9 L1675.1 472.0 L1675.7 469.2 L1676.4 468.4 L1677.0 468.1 L1677.7 468.8 L1678.3 468.7 L1679.0 470.6 L1679.6 467.8 L1680.3 468.0 L1680.9 466.5 L1681.6 465.3 L1682.2 469.2 L1682.9 466.3 L1683.5 467.7 L1684.2 465.7 L1684.9 465.8 L1685.5 465.8 L1686.2 466.1 L1686.8 466.1 L1687.5 465.5 L1688.1 465.3 L1688.8 464.2 L1689.4 465.3 L1690.1 464.1 L1690.7 465.5 L1691.4 465.1 L1692.1 463.6 L1692.7 463.8 L1693.4 464.1 L1694.0 462.9 L1694.7 465.1 L1695.3 464.5 L1696.0 463.2 L1696.6 463.4 L1697.3 464.1 L1698.0 462.6 L1698.6 462.5 L1699.3 463.6 L1699.9 465.0 L1700.6 463.9 L1701.2 461.6 L1701.9 462.6 L1702.5 463.6 L1703.2 464.3 L1703.9 463.5 L1704.6 463.5 L1705.2 463.1 L1705.9 462.0 L1706.6 463.7 L1707.3 464.2 L1707.9 462.5 L1708.6 462.0 L1709.2 466.3 L1709.9 464.2 L1710.5 465.1 L1711.2 465.7 L1711.8 466.8 L1712.5 469.3 L1713.2 469.0 L1713.8 465.7 L1714.4 467.5 L1715.1 467.7 L1715.7 467.8 L1716.4 470.8 L1717.0 467.6 L1717.7 469.9 L1718.3 469.7 L1718.9 468.8 L1719.6 469.4 L1720.2 469.5 L1720.9 469.3 L1721.5 470.0 L1722.2 469.0 L1722.8 467.1 L1723.5 467.5 L1724.2 466.4 L1724.8 466.5 L1725.5 466.7 L1726.1 468.0 L1726.8 467.0 L1727.4 466.8 L1728.1 467.1 L1728.7 467.8 L1729.3 466.4 L1730.0 468.4 L1730.6 467.2 L1731.3 465.9 L1731.9 468.3 L1732.6 467.6 L1733.2 469.2 L1733.8 468.5 L1734.5 467.1 L1735.1 468.4 L1735.8 468.2 L1736.4 468.6 L1737.1 467.2 L1737.7 469.0 L1738.3 470.7 L1739.0 469.2 L1739.6 471.0 L1740.3 468.4 L1740.9 471.3 L1741.6 470.6 L1742.2 470.4 L1742.9 469.8 L1743.5 469.3 L1744.2 470.2 L1744.9 471.7 L1745.5 471.9 L1746.2 471.6 L1746.8 468.0 L1747.5 470.3 L1748.1 470.5 L1748.8 470.1 L1749.4 470.1 L1750.1 469.1 L1750.8 470.2 L1751.4 469.9 L1752.1 470.0 L1752.8 470.3 L1753.4 467.1 L1754.1 469.7 L1754.8 467.6 L1755.5 468.8 L1756.2 471.0 L1756.9 471.3 L1757.6 469.7 L1758.3 469.8 L1758.9 470.3 L1759.6 473.2 L1760.3 474.0 L1761.0 470.5 L1761.6 472.5 L1762.3 471.8 L1762.9 470.8 L1763.6 470.8 L1764.2 467.4 L1764.9 471.3 L1765.6 473.1 L1766.2 470.2 L1766.9 470.0 L1767.5 468.5 L1768.1 467.5 L1768.8 470.6 L1769.4 469.3 L1770.1 467.7 L1770.7 467.8 L1771.4 467.9 L1772.0 469.0 L1772.6 468.4 L1773.3 467.4 L1773.9 465.7 L1774.6 467.3 L1775.2 466.7 L1775.9 471.1 L1776.5 468.4 L1777.1 470.3 L1777.8 468.5 L1778.4 466.2 L1779.1 471.7 L1779.7 468.4 L1780.4 469.4 L1781.0 468.6 L1781.7 467.2 L1782.3 469.8 L1783.0 465.9 L1783.6 470.3 L1784.3 465.3 L1784.9 466.6 L1785.6 467.3 L1786.3 466.9 L1786.9 466.5 L1787.5 466.9 L1788.2 466.5 L1788.8 469.0 L1789.5 466.7 L1790.1 469.1 L1790.8 467.9 L1791.4 465.7 L1792.0 468.0 L1792.7 467.4 L1793.3 465.3 L1794.0 468.4 L1794.7 466.5 L1795.4 465.8 L1796.1 467.9 L1796.8 465.8 L1797.5 465.0 L1798.1 466.8 L1798.8 465.7 L1799.5 464.1 L1800.2 465.4 L1800.9 463.0 L1801.6 465.6 L1802.2 464.4 L1802.9 465.8 L1803.5 465.7 L1804.2 465.3 L1804.8 466.1 L1805.4 466.0 L1806.1 463.5 L1806.7 464.7 L1807.4 465.0 L1808.0 466.3 L1808.7 467.0 L1809.4 468.8 L1810.1 464.3 L1810.8 464.5 L1811.5 464.3 L1812.2 465.3 L1812.9 466.5 L1813.5 466.2 L1814.2 465.9 L1814.9 467.8 L1815.6 466.6 L1816.2 469.4 L1816.9 467.3 L1817.6 469.1 L1818.3 470.4 L1818.9 470.7 L1819.6 470.6 L1820.3 472.7 L1821.0 473.5 L1821.6 473.8 L1822.3 472.9 L1822.9 471.9 L1823.6 472.1 L1824.3 473.5 L1824.9 473.4 L1825.6 472.3 L1826.2 472.2 L1826.9 473.0 L1827.5 472.7 L1828.2 472.0 L1828.8 469.7 L1829.5 470.3 L1830.1 469.4 L1830.7 472.9 L1831.4 470.5 L1832.0 470.4 L1832.7 471.1 L1833.3 472.3 L1834.0 470.9 L1834.6 470.8 L1835.2 469.4 L1835.9 472.5 L1836.5 471.3 L1837.2 471.9 L1837.8 471.0 L1838.5 471.4 L1839.1 468.9 L1839.7 471.0 L1840.4 471.6 L1841.0 471.0 L1841.7 471.5 L1842.3 473.4 L1843.0 471.2 L1843.6 472.8 L1844.3 473.2 L1845.0 471.9 L1845.6 472.2 L1846.3 472.0 L1846.9 474.4 L1847.6 471.5 L1848.2 472.4 L1848.9 472.1 L1849.5 470.5 L1850.2 470.5 L1850.8 470.1 L1851.5 469.4 L1852.2 470.5 L1852.8 472.4 L1853.5 472.4 L1854.1 470.5 L1854.8 469.7 L1855.4 471.4 L1856.0 471.8 L1856.7 471.0 L1857.3 468.6 L1858.0 471.0 L1858.6 468.2 L1859.3 469.0 L1859.9 471.6 L1860.5 470.9 L1861.2 469.8 L1861.8 469.3 L1862.5 471.2 L1863.1 471.0 L1863.8 470.3 L1864.4 467.5 L1865.0 470.2 L1865.7 468.5 L1866.3 471.3 L1867.0 467.0 L1867.6 471.0 L1868.3 468.8 L1868.9 469.3 L1869.5 468.9 L1870.2 470.3 L1870.8 471.6 L1871.5 469.5 L1872.1 468.6 L1872.8 469.2 L1873.4 470.1 L1874.0 469.9 L1874.7 467.6 L1875.3 471.2 L1876.0 469.6 L1876.7 470.9 L1877.3 470.8 L1878.0 471.1 L1878.6 471.2 L1879.3 472.5 L1879.9 470.2 L1880.6 471.0 L1881.2 473.0 L1881.9 470.5 L1882.6 471.4 L1883.2 470.6 L1883.9 469.8 L1884.5 470.1 L1885.2 469.6 L1885.8 470.8 L1886.5 469.3 L1887.1 469.4 L1887.8 468.9 L1888.4 470.8 L1889.1 469.5 L1889.8 469.5 L1890.4 469.5 L1891.1 469.3 L1891.7 468.6 L1892.4 470.0 L1893.1 471.9 L1893.7 470.5 L1894.4 468.0 L1895.1 468.4 L1895.7 467.9 L1896.4 465.6 L1897.1 466.4 L1897.8 466.0 L1898.4 465.9 L1899.1 464.1 L1899.8 465.3 L1900.5 464.1 L1901.1 463.9 L1901.8 462.8 L1902.5 462.9 L1903.1 463.1 L1903.8 461.6 L1904.4 462.6 L1905.1 461.8 L1905.7 462.0 L1906.4 463.8 L1907.1 462.7 L1907.7 461.5 L1908.4 460.4 L1909.1 460.0 L1909.7 459.8 L1910.4 461.8 L1911.1 461.1 L1911.7 460.0 L1912.4 461.7 L1913.1 458.8 L1913.8 458.6 L1914.5 458.9 L1915.3 459.2 L1916.0 457.2 L1916.7 456.6 L1917.3 457.9 L1918.0 458.9 L1918.7 458.5 L1919.3 458.4 L1920.0 461.0 L1920.7 458.9 L1921.4 460.8 L1922.1 460.7 L1922.8 462.4 L1923.5 463.9 L1924.2 464.3 L1924.9 464.3 L1925.6 464.9 L1926.2 462.7 L1926.9 463.9 L1927.6 465.0 L1928.3 464.2 L1928.9 465.8 L1929.6 466.9 L1930.2 467.4 L1930.9 466.4 L1931.5 465.0 L1932.1 465.1 L1932.8 464.6 L1933.4 465.6 L1934.1 466.1 L1934.7 464.5 L1935.4 464.7 L1936.0 466.3 L1936.6 464.9 L1937.3 466.8 L1937.9 466.3 L1938.6 467.7 L1939.2 467.2 L1939.9 467.6 L1940.5 466.9 L1941.2 467.7 L1941.8 466.8 L1942.4 467.2 L1943.1 467.6 L1943.7 467.5 L1944.4 468.9 L1945.0 465.7 L1945.7 467.7 L1946.3 468.8 L1946.9 468.3 L1947.6 468.3 L1948.2 468.5 L1948.9 469.3 L1949.5 469.3 L1950.2 469.5 L1950.8 468.0 L1951.4 470.6 L1952.1 468.9 L1952.7 467.2 L1953.4 470.6 L1954.0 472.4 L1954.7 471.8 L1955.3 471.5 L1955.9 471.5 L1956.6 472.9 L1957.2 470.9 L1957.9 471.1 L1958.5 471.2 L1959.2 471.4 L1959.8 468.7 L1960.4 471.9 L1961.1 470.9 L1961.7 473.4 L1962.4 470.9 L1963.0 471.6 L1963.7 471.4 L1964.3 470.7 L1964.9 472.0 L1965.6 470.9 L1966.2 471.2 L1966.9 470.2 L1967.5 472.0 L1968.2 470.3 L1968.8 471.5 L1969.5 471.4 L1970.1 470.3 L1970.7 470.2 L1971.4 471.5 L1972.0 470.9 L1972.7 471.4 L1973.3 469.3 L1974.0 469.2 L1974.6 470.1 L1975.2 470.1 L1975.9 469.7 L1976.5 470.2 L1977.2 470.1 L1977.8 470.5 L1978.5 468.7 L1979.1 470.6 L1979.7 468.9 L1980.4 470.9 L1981.0 470.4 L1981.7 470.9 L1982.3 469.7 L1983.0 472.1 L1983.6 470.6 L1984.2 470.6 L1984.9 470.3 L1985.5 472.5 L1986.2 471.5 L1986.8 471.8 L1987.5 470.8 L1988.1 471.8 L1988.7 472.6 L1989.4 473.0 L1990.0 471.3 L1990.7 470.9 L1991.3 472.3 L1992.0 470.2 L1992.6 470.4 L1993.2 473.6 L1993.9 467.7 L1994.5 471.3 L1995.2 471.7 L1995.8 470.6 L1996.5 471.1 L1997.1 471.3 L1997.7 471.7 L1998.4 471.4 L1999.0 471.8 L1999.7 471.1 L2000.3 471.4 L2001.0 471.8 L2001.6 470.2 L2002.3 468.6 L2002.9 470.9 L2003.5 472.5 L2004.2 470.7 L2004.8 471.2 L2005.5 470.6 L2006.1 473.2 L2006.8 470.2 L2007.4 471.0 L2008.0 470.0 L2008.7 471.3 L2009.3 470.3 L2010.0 472.5 L2010.6 469.5 L2011.3 471.7 L2011.9 470.8 L2012.5 470.6 L2013.2 470.9 L2013.8 471.7 L2014.5 471.7 L2015.1 471.9 L2015.8 472.3 L2016.4 470.1 L2017.0 472.5 L2017.7 470.3 L2018.3 471.0 L2019.0 468.1 L2019.6 472.5 L2020.3 472.4 L2020.9 472.5 L2021.5 471.5 L2022.2 471.9 L2022.8 471.3 L2023.5 469.7 L2024.1 470.7 L2024.8 472.4 L2025.4 470.8 L2026.0 469.9 L2026.7 469.5 L2027.3 468.4 L2028.0 470.7 L2028.6 470.4 L2029.3 469.6 L2029.9 471.6 L2030.6 469.0 L2031.2 470.2 L2031.8 468.9 L2032.5 471.2 L2033.1 469.8 L2033.8 468.0 L2034.4 469.6 L2035.1 468.9 L2035.7 468.9 L2036.3 469.7 L2037.0 467.0 L2037.6 469.3 L2038.3 468.7 L2038.9 469.9 L2039.6 469.5 L2040.2 469.5 L2040.8 468.7 L2041.5 468.8 L2042.1 469.4 L2042.8 468.4 L2043.4 469.5 L2044.1 469.1 L2044.7 468.7 L2045.4 467.0 L2046.1 467.5 L2046.7 466.0 L2047.4 469.8 L2048.0 468.1 L2048.7 467.3 L2049.3 468.2 L2050.0 469.0 L2050.6 466.4 L2051.3 469.6 L2052.0 468.5 L2052.6 468.6 L2053.3 470.9 L2053.9 469.0 L2054.6 469.7 L2055.2 469.8 L2055.8 468.5 L2056.5 470.6 L2057.1 467.8 L2057.8 468.9 L2058.4 468.7 L2059.1 470.6 L2059.7 468.3 L2060.4 470.0 L2061.0 471.8 L2061.6 469.7 L2062.3 470.1 L2062.9 467.6 L2063.6 471.5 L2064.2 470.3 L2064.9 470.0 L2065.5 469.2 L2066.1 469.8 L2066.8 470.6 L2067.4 470.7 L2068.1 472.6 L2068.7 471.3 L2069.4 472.0 L2070.0 470.2 L2070.7 470.2 L2071.3 472.6 L2072.0 472.6 L2072.7 471.3 L2073.3 472.7 L2074.0 470.6 L2074.6 472.6 L2075.2 469.7 L2075.9 471.0 L2076.5 470.2 L2077.1 469.8 L2077.8 469.8 L2078.4 470.8 L2079.1 469.5 L2079.7 468.1 L2080.3 468.4 L2080.9 465.8 L2081.3 471.0 L2080.9 466.9 L2081.1 468.4" stroke="#0000ff" stroke-width="7"/>
<path class="curve" d="M248.5 779.0 L249.1 772.4 L249.8 770.7 L250.4 769.4 L251.0 774.0 L251.7 772.2 L252.3 771.3 L253.0 765.9 L253.6 774.4 L254.2 777.2 L254.9 780.4 L255.5 775.8 L256.2 777.1 L256.8 775.4 L257.5 777.4 L258.2 783.3 L258.9 782.8 L259.6 783.9 L260.3 789.1 L261.0 782.2 L261.7 778.8 L262.4 784.2 L263.1 780.5 L263.8 785.2 L264.5 780.7 L265.2 782.7 L265.9 790.5 L266.5 788.1 L267.2 779.6 L267.9 787.5 L268.6 783.7 L269.3 785.4 L270.0 782.9 L270.7 784.1 L271.3 784.6 L272.0 784.6 L272.6 782.7 L273.3 786.1 L274.0 779.6 L274.6 785.3 L275.3 776.3 L275.9 778.7 L276.5 781.8 L277.2 778.8 L277.8 783.5 L278.5 784.8 L279.1 781.0 L279.8 782.9 L280.4 781.5 L281.0 783.0 L281.7 784.3 L282.3 785.0 L283.0 785.5 L283.6 787.1 L284.2 786.8 L284.9 789.1 L285.5 788.1 L286.2 787.9 L286.9 790.3 L287.5 789.3 L288.2 789.2 L288.9 785.6 L289.6 785.7 L290.3 791.7 L291.0 789.9 L291.7 790.9 L292.4 792.7 L293.1 787.8 L293.8 791.9 L294.5 795.3 L295.2 788.8 L295.9 792.1 L296.5 794.9 L297.2 790.8 L297.9 795.2 L298.6 794.6 L299.3 790.7 L300.0 790.4 L300.7 792.0 L301.4 795.3 L302.1 789.9 L302.8 792.9 L303.5 790.9 L304.2 793.3 L304.9 792.1 L305.5 791.3 L306.2 791.7 L306.9 793.2 L307.6 794.6 L308.3 794.7 L309.0 793.2 L309.7 792.6 L310.4 794.7 L311.1 797.6 L311.8 792.9 L312.5 795.6 L313.2 796.5 L313.9 795.8 L314.5 795.7 L315.2 794.5 L315.8 794.9 L316.5 795.1 L317.2 792.1 L317.8 794.3 L318.5 791.2 L319.1 794.5 L319.8 788.9 L320.4 792.6 L321.0 799.7 L321.7 795.8 L322.3 795.9 L323.0 796.2 L323.6 802.4 L324.2 797.7 L324.9 790.9 L325.5 799.7 L326.2 797.0 L326.8 797.0 L327.5 791.8 L328.1 793.3 L328.8 792.1 L329.4 794.0 L330.1 793.6 L330.8 791.7 L331.4 788.8 L332.1 787.3 L332.8 785.7 L333.5 782.5 L334.2 782.1 L334.9 782.1 L335.6 778.9 L336.3 783.2 L337.0 781.0 L337.7 778.9 L338.5 775.9 L339.2 773.2 L340.0 770.0 L340.7 763.5 L341.5 756.7 L342.2 750.5 L342.9 753.3 L343.6 756.1 L344.3 758.7 L344.9 766.1 L345.5 773.8 L346.1 781.4 L346.9 786.5 L347.7 790.6 L348.4 795.4 L349.1 796.0 L349.8 795.9 L350.5 800.5 L351.2 798.6 L351.9 798.3 L352.5 798.8 L353.2 795.7 L353.8 796.9 L354.5 798.0 L355.1 800.3 L355.8 794.5 L356.4 797.1 L357.1 797.2 L357.7 791.6 L358.4 799.2 L359.0 799.6 L359.7 798.0 L360.3 792.1 L360.9 793.3 L361.6 793.1 L362.2 801.4 L362.9 796.7 L363.5 798.0 L364.2 791.3 L364.9 791.4 L365.6 788.2 L366.3 789.7 L367.0 788.3 L367.7 785.7 L368.4 782.9 L369.1 778.3 L369.8 775.3 L370.5 772.6 L371.2 770.3 L372.0 767.5 L372.7 763.2 L373.4 767.0 L374.1 771.9 L374.8 773.1 L375.5 766.4 L376.2 770.6 L376.8 783.1 L377.5 787.4 L378.1 781.4 L378.8 791.0 L379.4 787.1 L380.1 789.0 L380.7 788.3 L381.5 793.2 L382.3 798.0 L383.1 800.6 L383.7 802.0 L384.4 805.1 L385.1 804.7 L385.7 808.8 L386.4 805.5 L387.1 807.2 L387.7 808.3 L388.4 805.8 L389.0 806.2 L389.7 811.9 L390.4 808.2 L391.0 806.1 L391.7 796.8 L392.3 806.6 L393.0 802.3 L393.6 805.4 L394.3 803.7 L394.9 801.7 L395.5 806.0 L396.2 803.7 L396.8 802.3 L397.5 811.4 L398.1 804.1 L398.7 806.8 L399.4 804.7 L400.0 806.7 L400.7 804.7 L401.3 806.9 L402.0 806.0 L402.6 808.2 L403.2 807.7 L403.9 806.9 L404.5 804.1 L405.2 810.5 L405.9 810.0 L406.5 807.7 L407.2 809.5 L407.8 807.3 L408.5 808.6 L409.1 812.6 L409.8 811.4 L410.5 811.5 L411.1 810.4 L411.8 808.5 L412.4 810.7 L413.1 810.7 L413.8 814.0 L414.4 806.2 L415.1 811.0 L415.7 812.0 L416.4 808.4 L417.1 810.5 L417.7 811.5 L418.4 809.1 L419.0 809.1 L419.7 810.8 L420.4 812.1 L421.0 811.0 L421.7 810.0 L422.3 815.9 L423.0 807.1 L423.6 808.4 L424.3 812.0 L424.9 812.9 L425.5 809.8 L426.2 815.5 L426.8 810.0 L427.5 814.2 L428.1 809.0 L428.8 810.4 L429.4 818.3 L430.1 813.0 L430.7 810.1 L431.4 805.2 L432.0 810.2 L432.7 812.7 L433.4 811.2 L434.1 814.6 L434.8 808.4 L435.5 814.4 L436.2 814.2 L436.8 815.9 L437.5 813.0 L438.1 815.0 L438.8 811.1 L439.4 810.9 L440.0 814.7 L440.7 814.7 L441.3 811.9 L442.0 812.5 L442.6 813.1 L443.3 806.1 L443.9 809.2 L444.6 811.6 L445.3 812.3 L445.9 812.0 L446.6 805.6 L447.2 815.5 L447.9 810.1 L448.6 814.6 L449.2 816.9 L449.9 819.0 L450.5 814.7 L451.2 816.8 L451.8 812.8 L452.5 816.5 L453.1 812.6 L453.8 812.0 L454.4 815.1 L455.0 814.1 L455.7 822.4 L456.3 813.9 L457.0 823.8 L457.6 819.0 L458.2 815.0 L458.9 814.9 L459.5 816.8 L460.2 818.7 L460.8 812.7 L461.4 816.6 L462.1 819.9 L462.7 811.3 L463.4 817.4 L464.0 816.9 L464.7 815.0 L465.3 814.4 L466.0 814.5 L466.6 814.1 L467.3 811.1 L467.9 813.9 L468.5 814.9 L469.2 808.4 L469.9 811.0 L470.5 813.9 L471.2 805.8 L471.8 807.4 L472.5 807.4 L473.2 809.6 L473.9 807.6 L474.7 805.6 L475.4 800.5 L476.2 803.5 L477.0 798.1 L477.7 802.3 L478.3 807.5 L478.8 813.8 L479.5 812.3 L480.2 812.8 L480.8 822.9 L481.5 815.9 L482.1 815.8 L482.8 819.0 L483.5 820.7 L484.1 816.6 L484.8 821.6 L485.4 816.3 L486.1 819.6 L486.8 817.6 L487.4 816.7 L488.1 818.2 L488.7 816.0 L489.4 814.5 L490.0 817.4 L490.7 815.3 L491.3 816.0 L491.9 815.9 L492.6 816.4 L493.2 815.1 L493.9 818.0 L494.5 817.2 L495.2 818.8 L495.9 822.0 L496.5 821.5 L497.2 815.0 L497.8 816.0 L498.5 818.2 L499.1 824.0 L499.8 818.8 L500.4 820.6 L501.1 823.3 L501.7 812.8 L502.4 817.4 L503.0 820.0 L503.6 816.2 L504.3 824.9 L504.9 815.7 L505.6 822.7 L506.2 819.8 L506.8 818.0 L507.5 819.6 L508.1 818.9 L508.8 819.3 L509.4 819.7 L510.0 819.6 L510.7 819.1 L511.3 818.3 L512.0 818.8 L512.6 813.9 L513.3 817.7 L513.9 821.3 L514.5 814.2 L515.2 818.7 L515.8 817.5 L516.5 815.1 L517.2 818.5 L517.9 816.0 L518.6 817.0 L519.3 817.1 L520.0 816.1 L520.7 821.7 L521.4 816.2 L522.0 820.8 L522.7 822.0 L523.4 822.3 L524.0 822.3 L524.7 821.7 L525.3 818.9 L525.9 821.1 L526.6 820.0 L527.2 822.9 L527.9 819.1 L528.5 818.7 L529.2 826.4 L529.8 822.2 L530.4 821.9 L531.1 827.6 L531.7 820.9 L532.4 821.7 L533.0 819.1 L533.6 819.9 L534.3 819.9 L534.9 816.2 L535.6 820.9 L536.2 818.0 L536.8 821.7 L537.5 816.5 L538.1 819.7 L538.8 817.4 L539.4 812.7 L540.1 815.0 L540.7 814.5 L541.4 813.8 L542.0 812.4 L542.7 814.3 L543.3 819.5 L544.0 817.6 L544.7 820.4 L545.3 819.0 L546.0 822.1 L546.6 821.9 L547.3 822.4 L548.0 819.7 L548.6 821.1 L549.3 826.8 L549.9 832.5 L550.6 823.7 L551.3 821.4 L551.9 826.8 L552.6 821.5 L553.2 827.9 L553.9 828.3 L554.5 825.7 L555.2 824.5 L555.8 821.0 L556.5 824.7 L557.1 826.8 L557.7 823.9 L558.4 828.7 L559.0 824.2 L559.7 824.6 L560.3 820.6 L561.0 820.8 L561.6 821.0 L562.3 818.4 L563.0 817.8 L563.6 816.5 L564.3 815.2 L564.9 812.9 L565.6 809.3 L566.3 816.6 L566.9 810.5 L567.6 815.8 L568.2 808.6 L568.9 811.1 L569.6 813.6 L570.2 814.6 L570.9 815.6 L571.5 816.3 L572.2 818.4 L572.9 817.8 L573.5 815.5 L574.2 816.6 L574.8 819.4 L575.5 819.0 L576.2 817.5 L576.8 820.5 L577.5 817.8 L578.1 820.4 L578.8 821.9 L579.4 819.3 L580.1 822.3 L580.7 820.0 L581.3 822.5 L582.0 825.9 L582.6 824.6 L583.3 824.0 L583.9 823.1 L584.5 815.2 L585.2 825.2 L585.8 818.6 L586.5 821.4 L587.1 820.1 L587.8 822.5 L588.4 820.1 L589.0 817.1 L589.7 821.4 L590.3 821.1 L591.0 818.6 L591.6 817.4 L592.2 812.7 L592.9 814.0 L593.5 817.4 L594.2 819.0 L594.8 817.4 L595.4 814.9 L596.1 813.7 L596.7 813.2 L597.4 818.3 L598.0 818.4 L598.7 816.1 L599.3 815.0 L600.0 822.9 L600.6 818.8 L601.3 819.7 L601.9 821.8 L602.6 824.6 L603.2 820.2 L603.9 820.6 L604.6 819.8 L605.2 820.5 L605.9 818.1 L606.6 816.5 L607.4 814.8 L608.1 813.6 L608.8 811.0 L609.5 813.3 L610.2 814.4 L610.9 816.9 L611.6 818.1 L612.2 820.2 L612.9 821.6 L613.6 822.3 L614.3 824.3 L615.0 825.1 L615.7 824.9 L616.4 825.8 L617.0 826.4 L617.7 826.1 L618.4 824.7 L619.1 827.8 L619.8 829.6 L620.4 829.2 L621.1 822.5 L621.8 828.3 L622.5 822.5 L623.1 825.0 L623.8 828.2 L624.5 824.0 L625.2 823.9 L625.9 820.1 L626.6 826.5 L627.3 823.5 L628.0 822.0 L628.7 824.8 L629.4 823.2 L630.1 821.4 L630.8 826.7 L631.5 822.7 L632.1 825.0 L632.8 819.3 L633.5 822.8 L634.2 823.9 L634.9 823.2 L635.6 822.2 L636.3 820.4 L637.0 828.5 L637.6 822.9 L638.3 825.7 L638.9 822.8 L639.6 824.4 L640.2 829.7 L640.8 822.0 L641.5 829.3 L642.1 827.4 L642.8 827.4 L643.4 825.8 L644.0 821.8 L644.7 828.4 L645.3 824.0 L646.0 829.4 L646.6 822.2 L647.2 826.5 L647.9 823.2 L648.5 824.9 L649.2 822.5 L649.8 822.0 L650.5 823.5 L651.1 818.7 L651.7 821.9 L652.4 824.8 L653.0 814.1 L653.7 816.7 L654.3 815.2 L655.0 818.0 L655.6 818.4 L656.3 811.9 L656.9 817.5 L657.6 817.2 L658.3 819.2 L658.9 817.7 L659.6 816.9 L660.2 816.2 L660.8 818.1 L661.5 820.2 L662.1 819.1 L662.8 819.0 L663.4 816.1 L664.0 821.9 L664.7 818.8 L665.3 817.1 L666.0 819.7 L666.6 818.4 L667.3 814.0 L667.9 822.0 L668.5 816.8 L669.2 818.1 L669.8 821.6 L670.5 818.8 L671.1 820.2 L671.8 815.2 L672.5 819.6 L673.2 817.8 L673.9 816.0 L674.6 817.6 L675.3 819.6 L676.0 820.4 L676.7 821.4 L677.4 821.5 L678.0 825.4 L678.7 817.9 L679.3 823.3 L679.9 822.8 L680.6 823.7 L681.2 825.8 L681.9 822.5 L682.5 821.8 L683.2 819.1 L683.8 821.7 L684.4 825.1 L685.1 826.5 L685.7 824.2 L686.4 822.3 L687.0 823.8 L687.6 827.7 L688.3 824.1 L688.9 824.1 L689.6 824.8 L690.2 827.8 L690.8 828.5 L691.5 824.5 L692.1 823.3 L692.8 823.4 L693.4 820.6 L694.1 822.2 L694.7 825.5 L695.4 815.2 L696.0 825.5 L696.7 821.3 L697.3 821.7 L698.0 820.3 L698.6 818.5 L699.3 819.1 L699.9 820.8 L700.5 820.7 L701.2 819.6 L701.8 819.5 L702.5 814.1 L703.1 817.0 L703.8 822.4 L704.5 816.5 L705.1 815.7 L705.8 812.9 L706.4 813.1 L707.1 819.1 L707.7 817.7 L708.3 813.1 L709.0 817.4 L709.6 825.1 L710.3 821.4 L710.9 819.7 L711.5 822.1 L712.2 813.3 L712.9 818.7 L713.5 815.0 L714.2 819.6 L714.8 816.4 L715.5 815.5 L716.2 810.7 L716.8 809.5 L717.5 812.0 L718.1 811.2 L718.8 809.9 L719.5 811.9 L720.1 809.3 L720.8 810.1 L721.4 807.6 L722.1 814.3 L722.7 811.6 L723.4 812.1 L724.0 810.1 L724.7 811.9 L725.3 815.3 L725.9 811.0 L726.6 816.6 L727.2 815.9 L727.9 814.7 L728.6 812.0 L729.2 809.8 L729.9 816.3 L730.5 813.1 L731.2 814.7 L731.9 805.7 L732.6 812.3 L733.3 808.7 L733.9 806.2 L734.6 809.0 L735.3 801.8 L735.9 800.7 L736.6 812.0 L737.3 801.1 L737.9 803.2 L738.6 796.6 L739.2 803.2 L740.0 804.8 L740.7 806.4 L741.5 806.3 L742.2 807.4 L742.9 810.2 L743.6 806.3 L744.3 807.7 L745.0 809.9 L745.6 809.9 L746.2 810.7 L746.9 810.3 L747.5 811.2 L748.2 810.4 L748.8 814.9 L749.4 807.6 L750.1 809.7 L750.7 806.7 L751.3 806.0 L752.0 809.5 L752.7 806.5 L753.5 803.5 L754.2 799.6 L754.9 799.7 L755.6 798.6 L756.3 797.3 L757.0 797.3 L757.7 798.8 L758.5 801.1 L759.2 803.6 L760.0 801.3 L760.6 804.1 L761.2 809.2 L761.9 808.2 L762.5 809.7 L763.2 808.4 L763.8 807.1 L764.4 807.9 L765.1 812.6 L765.7 810.0 L766.3 806.4 L767.0 808.3 L767.7 807.3 L768.4 807.7 L769.1 805.4 L769.7 802.7 L770.4 803.0 L771.1 800.6 L771.8 796.7 L772.5 792.3 L773.2 788.9 L773.9 792.6 L774.7 796.1 L775.4 798.1 L776.2 801.5 L776.9 804.4 L777.7 807.2 L778.4 811.5 L779.1 814.6 L779.7 811.8 L780.4 811.8 L781.1 818.3 L781.7 814.8 L782.4 816.3 L783.0 816.0 L783.7 812.6 L784.3 816.5 L785.0 819.5 L785.6 815.0 L786.3 813.9 L786.9 813.0 L787.6 809.6 L788.2 812.7 L788.9 807.4 L789.5 809.4 L790.2 813.3 L790.8 818.2 L791.5 809.9 L792.2 807.9 L792.8 809.3 L793.5 809.6 L794.1 809.7 L794.8 811.5 L795.5 809.0 L796.1 807.1 L796.8 810.1 L797.4 809.3 L798.1 806.5 L798.8 807.3 L799.4 803.3 L800.1 808.8 L800.7 808.9 L801.4 807.8 L802.1 804.7 L802.7 805.9 L803.4 809.9 L804.0 805.1 L804.7 810.0 L805.3 803.6 L806.0 806.6 L806.7 806.6 L807.3 814.0 L808.0 813.2 L808.7 808.8 L809.4 812.2 L810.1 813.0 L810.8 811.1 L811.4 812.6 L812.1 810.9 L812.8 808.4 L813.4 812.0 L814.1 809.7 L814.7 806.7 L815.4 806.6 L816.1 803.2 L816.7 802.4 L817.4 803.5 L818.0 804.4 L818.7 797.0 L819.4 803.3 L820.0 800.2 L820.7 798.7 L821.3 803.0 L822.0 801.9 L822.7 804.3 L823.3 802.0 L824.0 806.2 L824.6 809.5 L825.3 803.7 L826.0 803.9 L826.6 801.5 L827.3 803.8 L827.9 805.8 L828.6 805.0 L829.3 801.8 L829.9 801.8 L830.6 800.2 L831.2 803.6 L831.9 801.4 L832.5 803.8 L833.2 797.3 L833.9 798.5 L834.5 796.5 L835.2 794.8 L835.9 792.5 L836.5 790.5 L837.2 788.6 L837.9 787.3 L838.5 785.0 L839.2 780.4 L839.9 775.8 L840.6 770.8 L841.3 766.3 L842.0 761.1 L842.8 749.9 L843.5 738.3 L844.3 726.7 L844.9 713.7 L845.5 700.7 L846.1 688.5 L847.0 672.5 L847.8 658.1 L848.2 644.9 L848.8 658.0 L849.5 676.6 L850.2 697.0 L850.9 696.6 L851.5 700.9 L852.2 698.3 L852.9 702.2 L853.5 702.1 L854.2 695.5 L854.9 689.7 L855.5 686.9 L856.0 684.6 L856.4 715.5 L857.0 732.8 L857.6 749.8 L858.2 763.9 L858.7 777.6 L859.4 777.2 L860.1 782.3 L860.8 780.7 L861.5 777.7 L862.2 775.3 L863.0 772.2 L863.7 767.8 L864.4 764.9 L865.1 761.7 L865.7 754.3 L866.3 745.7 L866.9 738.9 L867.5 733.2 L868.0 727.9 L868.6 733.0 L869.1 737.5 L869.8 735.1 L870.5 736.1 L871.2 733.0 L871.8 733.3 L872.5 732.7 L873.2 731.4 L873.8 729.0 L874.4 726.3 L875.0 722.5 L875.5 726.3 L876.1 732.1 L876.7 740.4 L877.3 748.1 L877.9 757.1 L878.6 765.6 L879.3 773.8 L880.0 782.2 L880.7 783.7 L881.3 785.5 L882.0 787.2 L882.7 789.1 L883.3 790.3 L884.0 792.5 L884.7 795.6 L885.4 793.4 L886.1 792.1 L886.8 793.2 L887.5 796.9 L888.2 791.1 L888.9 786.7 L889.7 781.1 L890.5 775.1 L891.2 772.5 L892.0 768.9 L892.6 773.4 L893.1 778.2 L893.8 783.8 L894.4 790.2 L895.0 795.6 L895.8 799.8 L896.5 802.9 L897.3 802.1 L898.0 806.2 L898.6 808.2 L899.3 803.0 L899.9 807.8 L900.6 806.7 L901.3 801.9 L901.9 804.7 L902.6 809.0 L903.2 804.0 L903.8 806.6 L904.5 806.6 L905.1 812.2 L905.8 809.7 L906.4 816.0 L907.1 811.5 L907.7 808.3 L908.4 814.9 L909.0 814.3 L909.7 811.1 L910.4 807.0 L911.0 812.0 L911.7 811.2 L912.3 810.6 L913.0 808.1 L913.7 808.1 L914.3 806.4 L915.0 806.7 L915.6 811.2 L916.3 803.4 L917.0 808.5 L917.7 805.4 L918.3 800.5 L919.0 804.0 L919.7 797.6 L920.4 793.7 L921.1 797.5 L921.8 798.6 L922.5 799.2 L923.2 800.5 L923.9 800.2 L924.5 799.0 L925.2 801.9 L925.9 800.9 L926.5 800.2 L927.2 800.5 L927.9 800.6 L928.5 801.7 L929.3 799.7 L930.1 797.9 L930.8 797.7 L931.5 795.3 L932.1 798.7 L932.7 801.3 L933.4 796.7 L934.0 799.0 L934.7 798.8 L935.3 797.0 L936.0 804.2 L936.6 798.8 L937.3 800.7 L938.0 801.4 L938.7 799.8 L939.4 796.3 L940.0 798.3 L940.7 799.0 L941.4 794.4 L942.0 792.2 L942.7 798.5 L943.3 796.7 L944.0 797.9 L944.7 796.8 L945.4 801.0 L946.2 804.5 L946.9 811.4 L947.6 811.7 L948.3 810.5 L949.0 808.1 L949.7 811.6 L950.4 808.8 L951.0 810.0 L951.7 801.6 L952.3 806.8 L952.9 804.4 L953.6 804.2 L954.2 806.0 L954.8 802.3 L955.5 805.9 L956.1 803.3 L956.8 803.3 L957.4 802.6 L958.1 798.8 L958.7 800.8 L959.4 804.2 L960.0 800.9 L960.7 796.2 L961.4 798.2 L962.0 797.2 L962.7 794.8 L963.4 792.7 L964.1 789.6 L964.8 787.6 L965.5 784.9 L966.1 777.1 L966.7 768.6 L967.3 761.4 L967.7 745.9 L968.4 761.5 L969.1 769.6 L969.8 776.9 L970.5 784.4 L971.1 788.9 L971.7 792.2 L972.3 796.7 L973.0 802.7 L973.6 798.4 L974.3 800.1 L974.9 795.5 L975.6 800.1 L976.3 798.7 L976.9 798.4 L977.6 800.5 L978.3 802.9 L979.0 806.3 L979.7 808.0 L980.4 812.3 L981.0 810.7 L981.7 808.5 L982.3 816.8 L983.0 807.7 L983.6 808.7 L984.3 809.7 L984.9 812.7 L985.6 807.3 L986.2 808.3 L986.9 805.3 L987.6 806.9 L988.3 804.5 L989.0 804.8 L989.7 805.5 L990.4 803.7 L991.0 805.3 L991.7 805.3 L992.3 811.0 L993.0 807.4 L993.6 799.2 L994.3 806.4 L994.9 803.6 L995.6 805.3 L996.2 811.5 L996.8 802.9 L997.5 809.0 L998.1 810.9 L998.8 803.1 L999.4 810.9 L1000.1 811.7 L1000.7 813.4 L1001.3 810.4 L1002.0 815.0 L1002.6 810.8 L1003.3 818.3 L1003.9 812.8 L1004.5 814.3 L1005.2 811.2 L1005.8 815.5 L1006.5 813.0 L1007.1 809.8 L1007.7 813.7 L1008.4 810.9 L1009.0 815.2 L1009.7 811.6 L1010.3 810.9 L1010.9 813.0 L1011.6 808.5 L1012.2 809.0 L1012.9 809.7 L1013.5 812.0 L1014.2 814.9 L1014.8 812.2 L1015.4 814.4 L1016.1 815.0 L1016.7 815.1 L1017.4 817.7 L1018.0 811.5 L1018.6 814.4 L1019.3 814.7 L1019.9 814.9 L1020.6 813.1 L1021.2 811.4 L1021.8 814.7 L1022.5 813.4 L1023.1 813.6 L1023.8 811.5 L1024.4 813.6 L1025.1 812.4 L1025.8 813.6 L1026.4 812.0 L1027.1 813.3 L1027.7 807.9 L1028.4 816.5 L1029.0 815.6 L1029.7 808.6 L1030.3 814.2 L1031.0 814.6 L1031.6 815.8 L1032.2 818.4 L1032.9 818.8 L1033.5 823.3 L1034.2 817.6 L1034.8 820.9 L1035.4 819.4 L1036.1 820.7 L1036.7 813.0 L1037.4 815.4 L1038.0 821.2 L1038.6 822.8 L1039.3 823.8 L1040.0 819.0 L1040.7 822.6 L1041.4 818.9 L1042.1 821.7 L1042.8 821.4 L1043.5 816.8 L1044.2 818.9 L1044.9 815.2 L1045.6 818.1 L1046.3 814.6 L1046.9 816.7 L1047.5 815.1 L1048.2 812.7 L1048.8 812.1 L1049.5 816.1 L1050.1 813.6 L1050.7 811.4 L1051.4 808.6 L1052.0 817.0 L1052.7 808.5 L1053.4 817.0 L1054.1 810.0 L1054.8 808.2 L1055.4 807.0 L1056.2 809.3 L1057.0 812.1 L1057.7 812.5 L1058.4 816.2 L1059.0 815.6 L1059.7 814.1 L1060.3 816.2 L1061.0 817.8 L1061.7 817.5 L1062.3 817.4 L1063.0 818.5 L1063.6 811.5 L1064.2 819.9 L1064.9 816.1 L1065.5 817.0 L1066.1 815.4 L1066.8 814.4 L1067.4 817.8 L1068.1 815.1 L1068.7 813.2 L1069.3 814.8 L1070.0 811.0 L1070.7 808.9 L1071.4 806.6 L1072.1 802.5 L1072.8 800.9 L1073.6 797.4 L1074.4 793.6 L1075.1 795.7 L1075.8 796.6 L1076.6 798.6 L1077.3 801.5 L1078.0 801.9 L1078.7 803.3 L1079.4 805.3 L1080.1 806.5 L1080.8 807.9 L1081.5 809.6 L1082.2 811.4 L1082.9 813.8 L1083.6 815.9 L1084.2 814.7 L1084.9 817.5 L1085.5 815.6 L1086.2 820.0 L1086.8 819.6 L1087.5 820.7 L1088.1 818.4 L1088.8 821.8 L1089.4 821.8 L1090.1 821.7 L1090.7 819.7 L1091.4 818.2 L1092.0 820.9 L1092.7 825.5 L1093.4 822.1 L1094.0 825.1 L1094.7 826.2 L1095.3 827.1 L1096.0 828.1 L1096.7 828.7 L1097.3 828.3 L1098.0 827.1 L1098.6 831.5 L1099.3 835.4 L1099.9 823.9 L1100.6 829.4 L1101.2 831.3 L1101.9 828.8 L1102.5 829.0 L1103.1 826.8 L1103.8 828.1 L1104.4 830.3 L1105.1 827.3 L1105.7 829.7 L1106.4 825.6 L1107.0 824.2 L1107.6 824.5 L1108.3 826.5 L1108.9 826.9 L1109.6 823.5 L1110.2 821.4 L1110.8 823.9 L1111.5 824.4 L1112.1 816.7 L1112.8 824.4 L1113.4 824.8 L1114.0 820.8 L1114.7 820.0 L1115.3 821.9 L1116.0 823.0 L1116.6 827.6 L1117.2 816.0 L1117.9 824.9 L1118.5 821.7 L1119.2 821.8 L1119.8 825.7 L1120.5 826.2 L1121.1 824.4 L1121.7 824.0 L1122.4 824.9 L1123.0 821.4 L1123.7 824.7 L1124.4 828.8 L1125.0 827.6 L1125.7 826.8 L1126.3 831.8 L1127.0 832.0 L1127.6 830.2 L1128.3 833.4 L1128.9 827.0 L1129.6 825.3 L1130.2 832.5 L1130.8 827.7 L1131.5 827.7 L1132.1 830.1 L1132.8 826.4 L1133.4 830.0 L1134.0 830.0 L1134.7 830.4 L1135.3 828.4 L1136.0 829.5 L1136.6 829.0 L1137.3 828.7 L1137.9 832.1 L1138.5 829.9 L1139.2 833.1 L1139.8 832.6 L1140.5 835.0 L1141.1 831.2 L1141.7 826.5 L1142.4 829.6 L1143.0 827.5 L1143.7 830.3 L1144.3 831.7 L1144.9 829.9 L1145.6 826.6 L1146.2 831.4 L1146.9 825.9 L1147.5 833.2 L1148.2 824.0 L1148.8 831.8 L1149.4 828.6 L1150.1 830.2 L1150.7 827.0 L1151.4 832.1 L1152.1 830.6 L1152.7 830.2 L1153.4 828.8 L1154.0 828.4 L1154.7 828.2 L1155.4 828.3 L1156.0 832.9 L1156.7 834.1 L1157.3 832.0 L1158.0 827.8 L1158.6 826.7 L1159.3 829.8 L1160.0 829.2 L1160.7 830.9 L1161.3 833.2 L1162.0 831.2 L1162.6 831.1 L1163.3 829.6 L1164.0 828.6 L1164.6 824.9 L1165.3 827.5 L1166.0 834.5 L1166.7 826.4 L1167.4 823.5 L1168.1 827.3 L1168.8 823.7 L1169.4 827.0 L1170.1 823.3 L1170.7 827.6 L1171.4 834.0 L1172.0 828.6 L1172.7 828.6 L1173.4 829.8 L1174.0 829.8 L1174.7 834.1 L1175.3 831.1 L1176.0 828.5 L1176.7 833.5 L1177.3 831.8 L1178.0 834.1 L1178.6 832.4 L1179.2 833.0 L1179.9 840.8 L1180.5 834.4 L1181.2 835.7 L1181.8 833.8 L1182.4 835.3 L1183.1 833.5 L1183.8 837.4 L1184.5 834.0 L1185.2 832.0 L1185.9 826.5 L1186.5 836.1 L1187.2 835.1 L1187.9 833.1 L1188.6 828.5 L1189.3 827.5 L1190.0 831.1 L1190.7 833.2 L1191.3 831.6 L1192.0 828.6 L1192.6 831.5 L1193.3 830.9 L1194.0 831.8 L1194.6 835.1 L1195.3 836.6 L1196.0 830.8 L1196.7 833.6 L1197.4 835.0 L1198.1 835.2 L1198.8 832.3 L1199.5 836.3 L1200.2 835.9 L1200.9 837.5 L1201.5 836.8 L1202.2 838.7 L1202.9 832.7 L1203.6 838.2 L1204.3 833.3 L1205.0 835.6 L1205.7 837.2 L1206.4 831.2 L1207.1 839.9 L1207.8 836.3 L1208.5 837.9 L1209.1 837.5 L1209.8 833.9 L1210.5 836.1 L1211.2 835.1 L1211.8 837.2 L1212.5 836.6 L1213.2 838.2 L1213.9 837.2 L1214.5 834.9 L1215.2 834.8 L1215.9 837.6 L1216.5 838.9 L1217.2 836.9 L1217.9 836.9 L1218.6 838.5 L1219.2 833.6 L1219.9 833.8 L1220.6 834.0 L1221.3 834.6 L1221.9 830.3 L1222.6 831.5 L1223.3 826.7 L1224.0 832.3 L1224.6 828.4 L1225.3 829.6 L1226.0 831.6 L1226.7 832.7 L1227.4 832.8 L1228.1 834.4 L1228.8 834.2 L1229.5 835.0 L1230.2 830.5 L1230.9 833.5 L1231.6 832.7 L1232.2 830.8 L1232.9 834.3 L1233.6 834.2 L1234.2 831.3 L1234.9 835.8 L1235.6 834.1 L1236.3 834.5 L1236.9 836.5 L1237.6 833.5 L1238.3 832.2 L1239.0 833.4 L1239.6 832.1 L1240.3 835.1 L1241.0 834.0 L1241.7 832.2 L1242.4 832.3 L1243.1 833.5 L1243.8 836.0 L1244.5 837.7 L1245.2 834.3 L1245.9 832.4 L1246.6 834.5 L1247.2 835.7 L1247.9 838.4 L1248.6 837.1 L1249.2 835.2 L1249.9 835.6 L1250.6 836.7 L1251.3 838.4 L1251.9 837.4 L1252.6 831.8 L1253.3 836.7 L1254.0 836.3 L1254.6 838.4 L1255.3 834.5 L1256.0 837.4 L1256.7 836.0 L1257.4 837.1 L1258.1 835.9 L1258.8 837.7 L1259.5 835.7 L1260.2 833.3 L1260.9 835.6 L1261.6 833.9 L1262.2 833.8 L1262.9 836.0 L1263.6 834.6 L1264.3 835.7 L1265.0 836.6 L1265.7 836.8 L1266.4 837.0 L1267.1 835.2 L1267.8 837.1 L1268.5 836.6 L1269.2 839.3 L1269.9 838.0 L1270.6 837.5 L1271.2 834.2 L1271.9 837.5 L1272.6 834.5 L1273.3 835.1 L1274.0 833.3 L1274.7 830.9 L1275.4 835.4 L1276.0 834.4 L1276.7 831.7 L1277.3 834.3 L1278.0 832.5 L1278.6 830.4 L1279.3 829.2 L1279.9 830.4 L1280.5 830.4 L1281.2 830.6 L1281.8 826.7 L1282.5 825.2 L1283.2 832.6 L1283.8 832.9 L1284.5 830.5 L1285.1 835.1 L1285.8 832.3 L1286.4 833.3 L1287.1 834.6 L1287.7 831.5 L1288.4 834.2 L1289.0 832.7 L1289.6 838.3 L1290.3 835.2 L1290.9 832.7 L1291.6 834.3 L1292.3 835.3 L1292.9 836.6 L1293.6 837.6 L1294.3 835.7 L1295.0 836.1 L1295.7 834.0 L1296.4 835.8 L1297.1 837.4 L1297.8 832.2 L1298.5 837.5 L1299.1 834.4 L1299.8 835.4 L1300.4 836.5 L1301.0 834.4 L1301.7 840.5 L1302.3 839.4 L1303.0 836.5 L1303.6 837.7 L1304.3 840.6 L1304.9 839.0 L1305.5 833.1 L1306.2 837.7 L1306.8 838.0 L1307.5 840.6 L1308.1 838.9 L1308.7 837.5 L1309.4 841.1 L1310.0 838.9 L1310.7 837.0 L1311.4 839.3 L1312.1 840.9 L1312.8 840.0 L1313.5 838.7 L1314.2 840.1 L1314.9 840.4 L1315.6 839.4 L1316.3 841.8 L1316.9 836.6 L1317.6 841.6 L1318.2 837.4 L1318.9 839.9 L1319.5 837.8 L1320.2 840.8 L1320.8 841.2 L1321.4 838.7 L1322.1 839.5 L1322.7 840.3 L1323.4 838.4 L1324.0 838.1 L1324.6 837.5 L1325.3 834.7 L1325.9 836.6 L1326.5 832.6 L1327.2 835.0 L1327.8 833.4 L1328.5 830.5 L1329.2 835.8 L1329.9 837.4 L1330.6 836.0 L1331.3 842.6 L1332.0 838.3 L1332.6 841.5 L1333.2 842.1 L1333.9 841.8 L1334.5 839.3 L1335.2 839.8 L1335.8 840.4 L1336.4 843.0 L1337.1 842.4 L1337.7 845.2 L1338.4 837.9 L1339.0 839.5 L1339.7 844.1 L1340.4 841.9 L1341.0 840.8 L1341.7 839.2 L1342.3 840.4 L1343.0 842.0 L1343.7 842.8 L1344.3 842.5 L1345.0 841.2 L1345.6 844.9 L1346.3 843.2 L1347.0 842.9 L1347.6 846.4 L1348.2 845.7 L1348.9 848.8 L1349.5 848.5 L1350.2 845.1 L1350.8 842.2 L1351.4 846.2 L1352.1 845.2 L1352.7 847.8 L1353.4 844.1 L1354.1 847.7 L1354.7 847.7 L1355.4 846.2 L1356.1 844.5 L1356.8 846.3 L1357.4 845.1 L1358.1 847.3 L1358.8 847.8 L1359.5 845.9 L1360.1 846.8 L1360.8 844.8 L1361.5 846.4 L1362.1 847.7 L1362.8 844.6 L1363.5 844.6 L1364.2 845.3 L1364.8 842.6 L1365.5 842.4 L1366.2 846.3 L1366.9 846.5 L1367.5 842.6 L1368.2 844.5 L1368.9 845.6 L1369.6 846.9 L1370.3 846.0 L1371.0 846.9 L1371.7 847.8 L1372.3 843.6 L1373.0 848.2 L1373.7 847.3 L1374.4 848.8 L1375.1 846.6 L1375.8 849.1 L1376.5 850.0 L1377.2 849.2 L1377.9 848.4 L1378.6 850.8 L1379.3 849.0 L1380.0 850.1 L1380.7 850.1 L1381.3 848.1 L1382.0 848.5 L1382.7 848.5 L1383.4 849.4 L1384.0 847.6 L1384.7 845.4 L1385.3 847.9 L1385.9 848.5 L1386.6 845.8 L1387.2 843.8 L1387.9 848.0 L1388.5 850.4 L1389.1 846.4 L1389.8 843.3 L1390.4 844.1 L1391.1 844.4 L1391.7 848.9 L1392.3 844.4 L1393.0 843.8 L1393.6 848.2 L1394.3 841.3 L1394.9 844.5 L1395.6 844.4 L1396.2 841.3 L1396.8 844.4 L1397.5 844.9 L1398.1 846.5 L1398.8 844.4 L1399.4 849.2 L1400.0 846.0 L1400.7 850.3 L1401.3 845.0 L1402.0 849.2 L1402.6 846.6 L1403.2 846.9 L1403.9 850.9 L1404.5 844.7 L1405.2 851.4 L1405.8 851.7 L1406.5 845.3 L1407.2 848.5 L1407.9 848.9 L1408.6 850.7 L1409.3 846.7 L1410.0 848.0 L1410.7 849.0 L1411.3 847.2 L1412.0 845.7 L1412.7 848.7 L1413.4 846.0 L1414.1 846.9 L1414.8 848.1 L1415.5 849.6 L1416.2 845.6 L1416.9 846.3 L1417.6 844.4 L1418.3 846.5 L1419.0 840.8 L1419.7 841.9 L1420.3 844.0 L1421.0 845.4 L1421.7 844.0 L1422.4 847.8 L1423.0 847.2 L1423.7 844.4 L1424.4 845.5 L1425.0 846.4 L1425.7 845.9 L1426.4 847.5 L1427.1 842.7 L1427.7 846.1 L1428.4 846.8 L1429.1 844.7 L1429.8 845.5 L1430.4 842.3 L1431.1 842.1 L1431.8 846.2 L1432.4 844.3 L1433.1 844.3 L1433.8 843.7 L1434.5 845.1 L1435.1 844.4 L1435.8 845.4 L1436.5 845.0 L1437.1 845.7 L1437.7 846.4 L1438.4 843.3 L1439.0 847.9 L1439.7 843.5 L1440.3 844.3 L1440.9 846.8 L1441.6 846.6 L1442.3 849.9 L1442.9 844.5 L1443.6 845.1 L1444.3 845.0 L1445.0 845.8 L1445.6 845.8 L1446.3 843.7 L1447.0 845.4 L1447.6 846.0 L1448.3 847.4 L1449.0 847.4 L1449.7 845.7 L1450.4 848.3 L1451.0 844.4 L1451.7 847.7 L1452.4 843.0 L1453.1 847.9 L1453.8 847.4 L1454.5 847.1 L1455.2 848.3 L1455.9 845.3 L1456.6 846.7 L1457.2 844.9 L1457.9 845.9 L1458.5 847.6 L1459.2 847.0 L1459.8 846.3 L1460.4 845.0 L1461.1 850.1 L1461.7 845.9 L1462.4 846.9 L1463.0 848.4 L1463.6 847.5 L1464.3 849.4 L1464.9 847.1 L1465.6 845.9 L1466.2 849.3 L1466.8 847.8 L1467.5 849.5 L1468.1 853.0 L1468.8 851.4 L1469.5 849.2 L1470.2 849.0 L1470.9 850.4 L1471.6 850.4 L1472.3 848.8 L1473.0 848.5 L1473.7 848.6 L1474.4 849.7 L1475.1 852.5 L1475.7 848.2 L1476.4 849.5 L1477.1 849.8 L1477.7 848.6 L1478.4 846.9 L1479.1 850.6 L1479.8 847.4 L1480.4 848.1 L1481.1 847.4 L1481.8 845.8 L1482.5 847.4 L1483.1 847.4 L1483.8 847.9 L1484.5 845.5 L1485.2 846.3 L1485.9 846.2 L1486.6 847.3 L1487.3 846.4 L1488.0 846.7 L1488.7 844.6 L1489.4 844.6 L1490.1 843.7 L1490.7 845.7 L1491.4 844.5 L1492.1 843.9 L1492.8 845.6 L1493.5 844.1 L1494.2 845.7 L1494.9 844.9 L1495.6 845.8 L1496.3 847.8 L1497.0 845.0 L1497.7 848.1 L1498.4 846.1 L1499.1 846.9 L1499.7 845.5 L1500.4 848.2 L1501.1 845.5 L1501.8 849.5 L1502.5 847.4 L1503.2 849.5 L1503.9 849.2 L1504.6 850.5 L1505.3 849.5 L1506.0 850.6 L1506.7 848.8 L1507.4 852.0 L1508.1 849.3 L1508.8 851.6 L1509.4 849.2 L1510.1 853.6 L1510.8 848.1 L1511.5 847.7 L1512.2 849.8 L1512.9 849.9 L1513.6 852.2 L1514.3 849.0 L1515.0 849.4 L1515.7 848.8 L1516.4 850.7 L1517.1 843.4 L1517.8 847.9 L1518.4 846.2 L1519.1 847.0 L1519.8 847.8 L1520.5 846.9 L1521.2 844.2 L1521.9 845.5 L1522.6 844.0 L1523.3 844.9 L1524.0 847.3 L1524.7 843.6 L1525.3 844.4 L1526.0 844.1 L1526.6 847.0 L1527.2 844.5 L1527.9 848.5 L1528.5 846.6 L1529.2 845.9 L1529.8 848.2 L1530.4 847.8 L1531.1 849.3 L1531.7 848.0 L1532.4 844.9 L1533.0 847.2 L1533.7 846.7 L1534.3 845.4 L1534.9 848.0 L1535.6 848.2 L1536.2 846.6 L1536.9 848.0 L1537.6 849.1 L1538.3 845.4 L1539.0 847.2 L1539.7 848.4 L1540.4 845.9 L1541.1 850.0 L1541.8 853.1 L1542.4 850.0 L1543.1 850.1 L1543.8 847.7 L1544.5 850.4 L1545.2 849.6 L1545.9 848.9 L1546.6 850.3 L1547.3 849.7 L1548.0 849.1 L1548.7 849.2 L1549.4 849.7 L1550.1 848.9 L1550.8 850.0 L1551.5 848.0 L1552.1 853.5 L1552.8 853.9 L1553.5 849.8 L1554.2 848.4 L1554.9 850.9 L1555.6 847.2 L1556.3 850.0 L1557.0 846.0 L1557.7 849.4 L1558.4 847.9 L1559.1 849.3 L1559.8 848.7 L1560.5 848.6 L1561.1 851.6 L1561.8 846.7 L1562.5 847.0 L1563.2 848.7 L1563.9 847.3 L1564.6 848.2 L1565.3 847.6 L1566.0 847.3 L1566.7 845.3 L1567.4 845.4 L1568.1 845.8 L1568.8 845.3 L1569.5 842.7 L1570.1 844.8 L1570.8 842.5 L1571.5 844.2 L1572.1 842.9 L1572.8 842.0 L1573.4 843.8 L1574.0 842.8 L1574.7 843.4 L1575.3 839.6 L1576.0 841.3 L1576.6 840.0 L1577.3 840.0 L1577.9 836.8 L1578.5 840.0 L1579.2 836.7 L1579.8 837.7 L1580.5 839.2 L1581.1 838.2 L1581.8 837.9 L1582.4 836.0 L1583.1 840.2 L1583.7 838.5 L1584.4 837.1 L1585.1 839.3 L1585.7 838.4 L1586.4 839.2 L1587.0 839.7 L1587.7 838.2 L1588.4 837.1 L1589.1 835.7 L1589.8 834.4 L1590.5 832.5 L1591.3 831.1 L1592.0 829.0 L1592.8 828.2 L1593.5 830.3 L1594.3 831.7 L1595.0 833.3 L1595.7 833.2 L1596.4 836.4 L1597.1 835.9 L1597.8 837.8 L1598.5 838.6 L1599.2 839.9 L1599.9 841.1 L1600.6 842.8 L1601.3 844.2 L1602.0 845.2 L1602.6 845.5 L1603.3 847.3 L1604.0 848.7 L1604.7 844.3 L1605.4 846.8 L1606.1 851.2 L1606.8 848.8 L1607.5 849.1 L1608.2 848.9 L1608.9 850.7 L1609.6 848.1 L1610.2 850.6 L1610.8 848.3 L1611.5 848.3 L1612.1 847.0 L1612.8 847.4 L1613.4 847.2 L1614.1 846.4 L1614.7 846.6 L1615.4 847.6 L1616.0 848.8 L1616.7 849.1 L1617.3 845.9 L1618.0 846.2 L1618.6 846.8 L1619.3 846.3 L1620.0 848.3 L1620.6 848.2 L1621.3 847.1 L1621.9 846.1 L1622.6 847.0 L1623.2 849.3 L1623.9 847.3 L1624.5 846.4 L1625.1 849.6 L1625.8 847.0 L1626.4 845.1 L1627.1 847.2 L1627.7 846.5 L1628.4 847.3 L1629.0 843.0 L1629.6 845.7 L1630.3 847.6 L1630.9 847.2 L1631.6 847.4 L1632.2 847.5 L1632.9 847.6 L1633.5 848.6 L1634.1 848.2 L1634.8 846.7 L1635.4 848.9 L1636.1 848.1 L1636.7 851.5 L1637.4 850.4 L1638.0 850.1 L1638.7 849.7 L1639.3 851.2 L1639.9 848.3 L1640.6 852.5 L1641.2 850.7 L1641.9 850.1 L1642.5 851.2 L1643.2 849.2 L1643.8 851.0 L1644.4 851.0 L1645.1 848.7 L1645.7 853.4 L1646.4 849.6 L1647.0 849.4 L1647.7 850.0 L1648.3 851.6 L1648.9 848.6 L1649.6 848.9 L1650.2 848.6 L1650.9 847.7 L1651.5 847.5 L1652.2 846.7 L1652.8 847.8 L1653.4 848.7 L1654.1 847.3 L1654.7 843.1 L1655.4 843.4 L1656.0 846.1 L1656.7 842.3 L1657.3 845.2 L1657.9 846.2 L1658.6 844.6 L1659.2 846.1 L1659.9 845.6 L1660.5 845.4 L1661.2 845.1 L1661.8 845.0 L1662.4 843.8 L1663.1 843.4 L1663.7 842.8 L1664.4 846.1 L1665.0 845.6 L1665.7 846.0 L1666.3 845.4 L1667.0 847.9 L1667.6 847.1 L1668.2 845.1 L1668.9 845.3 L1669.5 848.9 L1670.2 848.3 L1670.8 847.0 L1671.5 848.7 L1672.1 846.7 L1672.7 847.8 L1673.4 846.9 L1674.0 846.4 L1674.7 844.3 L1675.3 846.0 L1676.0 845.4 L1676.6 846.7 L1677.3 847.3 L1677.9 846.6 L1678.6 846.2 L1679.2 848.9 L1679.9 845.0 L1680.5 846.0 L1681.2 849.2 L1681.8 850.7 L1682.5 848.1 L1683.1 849.7 L1683.8 848.3 L1684.5 850.4 L1685.1 850.3 L1685.8 849.1 L1686.4 849.5 L1687.1 851.3 L1687.7 853.1 L1688.4 851.5 L1689.0 850.0 L1689.7 849.8 L1690.3 851.2 L1691.0 849.5 L1691.6 850.0 L1692.2 850.0 L1692.9 848.6 L1693.5 848.6 L1694.2 849.7 L1694.8 847.6 L1695.5 847.2 L1696.1 847.7 L1696.8 849.0 L1697.4 847.7 L1698.0 848.1 L1698.7 848.5 L1699.3 849.1 L1700.0 850.5 L1700.6 850.3 L1701.3 850.0 L1701.9 849.5 L1702.5 847.6 L1703.2 848.5 L1703.8 849.5 L1704.5 849.9 L1705.1 850.6 L1705.8 851.5 L1706.4 851.8 L1707.0 851.0 L1707.7 852.1 L1708.3 851.2 L1709.0 850.2 L1709.6 852.4 L1710.3 852.7 L1710.9 851.3 L1711.5 852.2 L1712.2 850.6 L1712.8 849.4 L1713.5 851.0 L1714.1 851.8 L1714.8 848.4 L1715.4 852.4 L1716.0 850.5 L1716.7 851.3 L1717.3 848.2 L1718.0 852.7 L1718.6 850.9 L1719.3 852.4 L1719.9 851.5 L1720.5 851.3 L1721.2 851.3 L1721.8 851.3 L1722.5 851.3 L1723.1 853.2 L1723.8 850.3 L1724.4 850.4 L1725.0 852.4 L1725.7 855.1 L1726.3 851.7 L1727.0 851.1 L1727.6 847.4 L1728.3 849.5 L1728.9 849.9 L1729.6 852.2 L1730.2 852.9 L1730.8 853.0 L1731.5 852.1 L1732.1 851.2 L1732.8 850.2 L1733.4 850.3 L1734.1 849.7 L1734.7 850.8 L1735.3 850.0 L1736.0 851.3 L1736.6 846.0 L1737.3 851.0 L1737.9 851.3 L1738.6 848.1 L1739.2 850.2 L1739.8 848.4 L1740.5 849.7 L1741.1 850.1 L1741.8 849.9 L1742.4 848.3 L1743.1 848.6 L1743.7 847.0 L1744.3 847.4 L1745.0 849.7 L1745.6 848.3 L1746.3 848.3 L1747.0 847.4 L1747.6 845.9 L1748.3 849.3 L1748.9 848.1 L1749.6 847.7 L1750.3 845.3 L1750.9 847.2 L1751.6 846.4 L1752.2 844.8 L1752.9 845.7 L1753.5 847.7 L1754.2 847.2 L1754.8 846.3 L1755.5 850.7 L1756.1 850.8 L1756.8 851.1 L1757.4 851.8 L1758.1 850.1 L1758.7 850.4 L1759.4 850.6 L1760.0 851.4 L1760.6 851.2 L1761.3 851.0 L1761.9 851.2 L1762.6 849.4 L1763.2 850.2 L1763.9 852.2 L1764.5 852.0 L1765.2 853.8 L1765.9 851.9 L1766.5 852.5 L1767.2 851.3 L1767.9 851.1 L1768.6 854.7 L1769.2 851.3 L1769.9 850.9 L1770.6 851.6 L1771.3 852.6 L1771.9 848.6 L1772.6 850.3 L1773.3 853.2 L1774.0 853.8 L1774.6 851.3 L1775.3 851.8 L1776.0 851.3 L1776.7 852.7 L1777.3 849.7 L1778.0 853.7 L1778.7 850.0 L1779.4 850.2 L1780.0 851.1 L1780.7 851.6 L1781.4 849.4 L1782.0 850.4 L1782.7 852.6 L1783.4 850.9 L1784.1 851.5 L1784.7 849.5 L1785.4 850.2 L1786.1 850.2 L1786.8 849.5 L1787.4 851.1 L1788.1 850.8 L1788.8 850.6 L1789.5 851.0 L1790.1 849.5 L1790.8 851.2 L1791.5 849.6 L1792.2 851.7 L1792.8 850.9 L1793.5 850.1 L1794.2 849.0 L1794.8 851.7 L1795.5 849.5 L1796.2 852.0 L1796.9 849.0 L1797.5 849.7 L1798.2 849.1 L1798.9 851.1 L1799.6 849.3 L1800.2 848.3 L1800.9 850.0 L1801.6 851.1 L1802.3 848.7 L1802.9 849.4 L1803.6 851.2 L1804.3 848.4 L1805.0 847.0 L1805.6 847.7 L1806.3 850.3 L1807.0 850.0 L1807.6 848.6 L1808.3 849.3 L1809.0 850.3 L1809.7 848.8 L1810.3 849.5 L1811.0 847.1 L1811.7 849.9 L1812.4 849.7 L1813.0 849.3 L1813.7 848.1 L1814.4 852.1 L1815.1 851.6 L1815.7 850.2 L1816.4 849.8 L1817.1 849.6 L1817.8 850.1 L1818.4 850.5 L1819.1 851.5 L1819.8 850.2 L1820.5 853.5 L1821.1 850.2 L1821.8 851.9 L1822.5 851.5 L1823.1 852.8 L1823.8 848.7 L1824.5 850.4 L1825.2 847.0 L1825.8 850.3 L1826.5 852.3 L1827.2 850.9 L1827.9 850.7 L1828.5 852.2 L1829.2 852.7 L1829.9 850.9 L1830.6 849.8 L1831.2 851.7 L1831.9 852.3 L1832.6 852.3 L1833.3 849.9 L1833.9 850.7 L1834.6 851.2 L1835.3 850.1 L1835.9 853.3 L1836.6 852.5 L1837.3 850.5 L1838.0 852.5 L1838.6 852.6 L1839.3 853.3 L1840.0 851.5 L1840.7 853.5 L1841.4 852.1 L1842.1 851.0 L1842.8 852.9 L1843.4 851.8 L1844.1 850.9 L1844.8 852.3 L1845.5 850.6 L1846.2 853.4 L1846.9 856.1 L1847.6 852.8 L1848.3 851.9 L1848.9 851.8 L1849.6 851.8 L1850.3 851.5 L1851.0 853.2 L1851.7 852.0 L1852.4 850.4 L1853.1 851.4 L1853.8 849.5 L1854.4 850.8 L1855.1 850.5 L1855.8 852.6 L1856.5 850.6 L1857.2 849.9 L1857.8 850.4 L1858.5 851.5 L1859.2 853.1 L1859.9 849.7 L1860.5 849.7 L1861.2 850.0 L1861.9 847.6 L1862.6 849.0 L1863.2 851.1 L1863.9 848.5 L1864.6 848.7 L1865.3 851.7 L1865.9 849.1 L1866.6 850.7 L1867.3 849.2 L1868.0 850.3 L1868.7 850.0 L1869.4 848.9 L1870.1 850.9 L1870.8 849.4 L1871.4 848.9 L1872.1 850.5 L1872.8 851.2 L1873.5 850.5 L1874.2 851.5 L1874.9 848.0 L1875.6 848.4 L1876.3 850.6 L1877.0 849.9 L1877.6 849.7 L1878.3 850.3 L1879.0 850.9 L1879.7 851.1 L1880.4 851.0 L1881.1 851.3 L1881.8 850.4 L1882.4 850.7 L1883.1 850.4 L1883.7 849.9 L1884.3 853.2 L1885.0 850.4 L1885.6 849.6 L1886.3 849.9 L1886.9 851.1 L1887.6 850.9 L1888.2 852.2 L1888.8 852.0 L1889.5 851.4 L1890.1 847.1 L1890.8 850.7 L1891.4 851.2 L1892.1 849.6 L1892.7 850.2 L1893.3 845.7 L1894.0 849.0 L1894.6 849.0 L1895.3 847.9 L1895.9 848.2 L1896.6 848.4 L1897.2 848.0 L1897.9 848.3 L1898.5 848.5 L1899.2 850.8 L1899.8 848.0 L1900.5 846.1 L1901.2 847.8 L1901.8 842.4 L1902.5 844.2 L1903.2 846.4 L1903.8 844.5 L1904.5 843.2 L1905.2 842.1 L1905.9 842.0 L1906.5 843.3 L1907.2 843.1 L1907.8 841.1 L1908.5 842.6 L1909.1 842.7 L1909.8 840.7 L1910.5 841.8 L1911.1 842.1 L1911.8 841.0 L1912.4 841.8 L1913.1 841.8 L1913.7 840.8 L1914.4 843.4 L1915.0 845.5 L1915.7 845.8 L1916.4 840.3 L1917.0 844.0 L1917.7 843.3 L1918.3 844.9 L1919.0 844.2 L1919.6 845.5 L1920.3 845.4 L1920.9 845.7 L1921.6 844.4 L1922.2 847.7 L1922.9 845.4 L1923.6 848.5 L1924.2 846.3 L1924.9 847.4 L1925.5 848.9 L1926.1 848.7 L1926.8 847.0 L1927.4 848.5 L1928.1 848.5 L1928.7 849.6 L1929.4 848.5 L1930.0 850.3 L1930.6 848.8 L1931.3 848.6 L1931.9 849.1 L1932.6 846.5 L1933.2 848.6 L1933.9 849.9 L1934.5 849.2 L1935.1 852.5 L1935.8 849.3 L1936.4 853.6 L1937.1 850.4 L1937.7 849.2 L1938.4 851.7 L1939.0 850.7 L1939.7 850.8 L1940.3 850.3 L1940.9 851.2 L1941.6 851.8 L1942.2 851.4 L1942.9 851.1 L1943.5 851.6 L1944.2 851.0 L1944.8 852.1 L1945.4 851.5 L1946.1 852.1 L1946.7 850.4 L1947.4 852.3 L1948.0 852.6 L1948.7 852.1 L1949.3 852.7 L1949.9 853.4 L1950.6 853.2 L1951.2 851.9 L1951.9 852.4 L1952.5 850.3 L1953.2 855.7 L1953.8 853.1 L1954.4 853.8 L1955.1 851.7 L1955.7 852.3 L1956.4 852.4 L1957.0 852.8 L1957.7 847.8 L1958.3 850.8 L1958.9 852.5 L1959.6 850.0 L1960.2 852.4 L1960.9 851.4 L1961.5 850.3 L1962.2 851.1 L1962.8 853.0 L1963.4 851.0 L1964.1 850.9 L1964.7 850.4 L1965.4 850.3 L1966.0 850.0 L1966.7 849.6 L1967.3 850.5 L1967.9 849.7 L1968.6 851.1 L1969.2 852.8 L1969.9 852.6 L1970.5 852.4 L1971.2 847.7 L1971.8 848.6 L1972.5 850.1 L1973.1 851.2 L1973.7 852.6 L1974.4 850.8 L1975.1 849.9 L1975.8 851.0 L1976.4 850.0 L1977.1 851.3 L1977.8 852.5 L1978.5 851.8 L1979.1 848.8 L1979.8 851.0 L1980.5 850.6 L1981.1 850.0 L1981.8 848.2 L1982.5 849.5 L1983.2 849.5 L1983.8 850.4 L1984.5 850.3 L1985.2 849.3 L1985.9 849.0 L1986.5 848.9 L1987.2 849.4 L1987.9 847.6 L1988.6 849.9 L1989.2 848.9 L1989.9 849.7 L1990.6 850.4 L1991.3 850.4 L1991.9 851.2 L1992.6 851.1 L1993.3 850.6 L1994.0 850.2 L1994.6 851.0 L1995.3 851.8 L1996.0 850.2 L1996.6 850.5 L1997.3 851.8 L1998.0 851.4 L1998.7 851.9 L1999.3 852.1 L2000.0 853.4 L2000.7 850.3 L2001.4 851.6 L2002.0 848.8 L2002.7 849.6 L2003.4 851.4 L2004.1 851.6 L2004.7 851.3 L2005.4 850.2 L2006.1 853.0 L2006.8 851.4 L2007.4 851.6 L2008.1 851.9 L2008.8 850.7 L2009.4 852.1 L2010.1 849.4 L2010.8 852.6 L2011.5 850.2 L2012.1 850.9 L2012.8 851.6 L2013.5 851.7 L2014.2 850.7 L2014.8 850.0 L2015.5 853.0 L2016.2 851.8 L2016.9 850.5 L2017.5 853.2 L2018.2 852.5 L2018.9 852.6 L2019.6 850.8 L2020.2 855.2 L2020.9 851.0 L2021.6 851.6 L2022.3 852.9 L2022.9 851.4 L2023.6 851.3 L2024.3 849.9 L2024.9 851.3 L2025.6 851.8 L2026.3 853.6 L2027.0 850.7 L2027.6 850.1 L2028.3 849.4 L2029.0 849.8 L2029.7 851.3 L2030.3 849.9 L2031.0 850.8 L2031.7 851.4 L2032.4 850.6 L2033.1 850.7 L2033.8 849.5 L2034.5 848.4 L2035.2 850.9 L2035.8 849.8 L2036.5 850.5 L2037.2 847.1 L2037.9 849.8 L2038.6 845.7 L2039.3 851.0 L2040.0 847.5 L2040.7 849.5 L2041.3 850.0 L2042.0 849.7 L2042.7 851.0 L2043.4 853.2 L2044.1 852.5 L2044.8 852.5 L2045.5 852.1 L2046.2 851.1 L2046.8 850.6 L2047.5 850.8 L2048.2 849.9 L2048.9 851.4 L2049.5 851.3 L2050.2 852.2 L2050.9 852.8 L2051.6 850.5 L2052.2 849.3 L2052.9 851.4 L2053.6 849.6 L2054.3 850.5 L2054.9 848.7 L2055.6 851.3 L2056.3 849.9 L2057.0 849.9 L2057.6 851.6 L2058.3 853.1 L2059.0 852.6 L2059.6 851.7 L2060.3 849.7 L2061.0 849.2 L2061.7 850.2 L2062.3 852.1 L2063.0 851.7 L2063.7 852.1 L2064.4 850.2 L2065.0 852.3 L2065.7 851.2 L2066.4 851.9 L2067.0 850.7 L2067.6 852.6 L2068.3 852.9 L2068.9 853.3 L2069.6 851.7 L2070.2 850.7 L2070.9 850.5 L2071.5 851.4 L2072.1 850.7 L2072.8 849.9 L2073.5 851.1 L2074.2 849.3 L2074.8 849.5 L2075.5 849.5 L2076.2 850.2 L2076.9 850.1 L2077.6 852.3 L2078.3 849.2 L2079.0 851.9 L2079.6 847.9 L2080.3 849.1 L2080.9 846.5 L2081.3 851.7 L2080.9 847.6 L2081.1 849.1" stroke="#800080" stroke-width="7"/>
<path class="curve" d="M248.5 1190.9 L249.1 1192.0 L249.7 1190.2 L250.3 1188.6 L250.9 1190.2 L251.5 1189.0 L252.2 1189.2 L252.8 1191.4 L253.5 1191.3 L254.1 1200.1 L254.7 1191.8 L255.4 1194.3 L256.0 1193.8 L256.7 1191.1 L257.3 1193.5 L258.0 1193.8 L258.7 1195.3 L259.4 1193.4 L260.1 1195.7 L260.8 1196.0 L261.4 1200.1 L262.1 1197.0 L262.7 1199.0 L263.3 1197.8 L264.0 1200.8 L264.6 1198.5 L265.3 1197.5 L265.9 1196.4 L266.5 1196.4 L267.2 1197.4 L267.8 1201.2 L268.5 1199.4 L269.1 1198.7 L269.7 1198.3 L270.4 1199.2 L271.0 1195.7 L271.7 1203.6 L272.3 1198.8 L273.0 1204.6 L273.6 1197.0 L274.3 1202.5 L275.0 1199.4 L275.6 1200.1 L276.3 1197.5 L276.9 1201.0 L277.6 1200.4 L278.3 1199.6 L279.0 1208.2 L279.7 1203.9 L280.4 1203.3 L281.0 1203.6 L281.7 1208.0 L282.3 1204.7 L283.0 1204.4 L283.6 1207.4 L284.2 1204.8 L284.9 1205.5 L285.5 1204.9 L286.2 1203.6 L286.8 1210.4 L287.5 1203.8 L288.1 1203.5 L288.8 1207.2 L289.5 1195.9 L290.1 1204.0 L290.8 1203.5 L291.5 1205.5 L292.2 1207.2 L292.9 1209.1 L293.5 1210.6 L294.2 1210.4 L294.9 1212.1 L295.5 1211.6 L296.2 1210.5 L296.8 1210.7 L297.4 1215.6 L298.1 1210.7 L298.7 1211.9 L299.4 1207.8 L300.0 1210.3 L300.7 1210.8 L301.3 1210.6 L301.9 1210.6 L302.6 1209.4 L303.2 1208.2 L303.9 1211.6 L304.5 1211.3 L305.1 1215.9 L305.8 1213.3 L306.5 1212.3 L307.1 1214.1 L307.8 1211.0 L308.5 1213.6 L309.1 1208.6 L309.8 1213.9 L310.5 1209.4 L311.2 1206.8 L311.8 1210.6 L312.5 1212.6 L313.2 1207.4 L313.9 1209.1 L314.6 1212.4 L315.2 1208.4 L315.9 1212.1 L316.6 1208.8 L317.3 1212.4 L318.0 1211.9 L318.7 1211.7 L319.4 1211.5 L320.1 1210.0 L320.8 1213.4 L321.4 1211.2 L322.1 1208.7 L322.7 1213.5 L323.3 1206.3 L324.0 1214.0 L324.6 1213.1 L325.3 1216.7 L325.9 1215.5 L326.6 1217.6 L327.2 1218.1 L327.8 1219.6 L328.5 1216.3 L329.1 1221.6 L329.8 1218.0 L330.4 1215.9 L331.0 1217.3 L331.7 1220.1 L332.3 1220.5 L333.0 1217.6 L333.7 1211.9 L334.4 1211.5 L335.1 1212.5 L335.8 1209.5 L336.5 1214.0 L337.2 1215.2 L337.9 1216.3 L338.6 1212.4 L339.2 1216.3 L339.9 1212.0 L340.6 1218.0 L341.3 1214.6 L342.0 1216.1 L342.7 1215.0 L343.4 1214.6 L344.1 1219.0 L344.8 1217.7 L345.5 1218.2 L346.2 1217.6 L346.8 1215.3 L347.5 1217.7 L348.1 1218.0 L348.7 1215.3 L349.4 1220.7 L350.0 1220.8 L350.7 1221.8 L351.3 1224.5 L351.9 1219.4 L352.6 1222.6 L353.3 1217.5 L354.0 1217.0 L354.7 1217.0 L355.4 1218.1 L356.1 1221.4 L356.8 1218.8 L357.5 1219.2 L358.2 1212.0 L358.9 1217.5 L359.6 1214.2 L360.3 1218.6 L360.9 1215.8 L361.6 1212.8 L362.3 1219.0 L363.0 1213.6 L363.7 1213.3 L364.4 1219.2 L365.1 1218.8 L365.8 1213.9 L366.5 1213.0 L367.2 1212.6 L367.9 1216.7 L368.6 1211.8 L369.3 1219.1 L369.9 1219.0 L370.6 1217.6 L371.3 1217.0 L372.0 1218.0 L372.7 1215.5 L373.4 1210.3 L374.0 1220.3 L374.6 1217.9 L375.3 1222.4 L375.9 1217.9 L376.6 1216.3 L377.2 1217.0 L377.8 1218.5 L378.5 1217.8 L379.1 1222.0 L379.8 1223.1 L380.4 1222.9 L381.0 1220.5 L381.7 1217.5 L382.3 1222.5 L383.0 1220.4 L383.6 1222.9 L384.3 1222.4 L384.9 1225.1 L385.6 1220.7 L386.3 1222.0 L387.0 1222.5 L387.7 1219.6 L388.4 1221.8 L389.1 1222.2 L389.8 1225.6 L390.5 1224.4 L391.2 1220.1 L391.9 1224.1 L392.6 1226.3 L393.3 1227.2 L393.9 1225.0 L394.6 1226.7 L395.3 1228.3 L396.0 1230.2 L396.7 1224.5 L397.4 1233.3 L398.1 1228.6 L398.8 1226.0 L399.5 1230.2 L400.2 1228.5 L400.9 1225.5 L401.6 1230.0 L402.3 1226.2 L403.0 1225.4 L403.6 1230.2 L404.3 1230.9 L405.0 1228.1 L405.7 1227.2 L406.4 1229.6 L407.1 1226.1 L407.8 1231.2 L408.5 1228.2 L409.1 1221.6 L409.8 1227.7 L410.4 1228.8 L411.1 1228.8 L411.7 1227.1 L412.3 1227.7 L413.0 1226.6 L413.6 1228.7 L414.3 1227.7 L414.9 1228.9 L415.5 1228.3 L416.2 1227.7 L416.8 1224.9 L417.5 1226.0 L418.1 1227.2 L418.7 1230.5 L419.4 1231.5 L420.0 1230.3 L420.7 1226.9 L421.4 1229.6 L422.1 1226.3 L422.8 1230.9 L423.5 1232.4 L424.2 1231.6 L424.9 1229.7 L425.6 1227.3 L426.3 1236.2 L427.0 1234.1 L427.6 1230.9 L428.3 1228.2 L429.0 1232.4 L429.7 1231.0 L430.4 1231.5 L431.1 1229.8 L431.8 1231.9 L432.5 1229.0 L433.2 1231.9 L433.9 1233.1 L434.6 1233.0 L435.3 1235.5 L436.0 1230.2 L436.6 1225.2 L437.3 1228.0 L438.0 1223.7 L438.7 1226.3 L439.4 1231.0 L440.1 1224.6 L440.8 1226.5 L441.5 1227.7 L442.1 1232.5 L442.8 1230.2 L443.5 1227.6 L444.2 1229.2 L444.8 1231.6 L445.5 1234.4 L446.2 1232.8 L446.9 1236.1 L447.5 1228.7 L448.2 1234.9 L448.9 1234.7 L449.6 1231.1 L450.3 1234.8 L451.0 1236.6 L451.7 1231.2 L452.3 1235.4 L453.0 1232.2 L453.7 1234.4 L454.4 1225.7 L455.1 1231.4 L455.8 1231.3 L456.5 1231.6 L457.2 1234.2 L457.9 1234.1 L458.6 1233.8 L459.3 1233.2 L460.0 1232.5 L460.7 1230.7 L461.3 1233.1 L462.0 1226.5 L462.7 1231.2 L463.4 1235.5 L464.1 1233.1 L464.8 1226.0 L465.5 1233.5 L466.2 1229.9 L466.9 1234.5 L467.6 1238.9 L468.3 1232.0 L469.0 1235.2 L469.7 1242.7 L470.3 1231.9 L471.0 1240.0 L471.7 1232.4 L472.4 1233.4 L473.1 1238.2 L473.8 1227.8 L474.5 1236.1 L475.2 1234.8 L475.9 1233.3 L476.6 1234.5 L477.3 1232.1 L478.0 1235.0 L478.7 1233.5 L479.3 1231.6 L480.0 1237.9 L480.7 1238.4 L481.4 1238.4 L482.1 1233.8 L482.8 1233.0 L483.5 1231.1 L484.2 1231.5 L484.8 1230.1 L485.5 1234.8 L486.1 1232.8 L486.8 1229.2 L487.5 1234.4 L488.1 1231.5 L488.8 1234.6 L489.4 1230.9 L490.0 1231.5 L490.7 1230.7 L491.3 1231.1 L492.0 1236.7 L492.6 1234.3 L493.2 1231.0 L493.9 1229.6 L494.6 1234.5 L495.3 1235.0 L496.0 1237.7 L496.7 1236.3 L497.4 1236.8 L498.0 1234.3 L498.7 1237.1 L499.4 1238.5 L500.1 1244.0 L500.8 1240.0 L501.5 1237.4 L502.2 1233.8 L502.9 1239.3 L503.6 1236.3 L504.3 1239.3 L505.0 1234.4 L505.7 1237.3 L506.4 1235.7 L507.0 1234.1 L507.7 1239.4 L508.4 1234.7 L509.0 1237.8 L509.7 1238.6 L510.3 1239.4 L510.9 1244.2 L511.6 1237.0 L512.2 1236.4 L512.9 1237.0 L513.5 1238.2 L514.2 1234.3 L514.9 1229.5 L515.6 1233.1 L516.3 1234.4 L517.0 1238.3 L517.7 1232.1 L518.4 1242.7 L519.0 1239.4 L519.7 1234.8 L520.4 1240.9 L521.1 1235.0 L521.8 1236.1 L522.5 1240.2 L523.2 1238.5 L523.9 1239.6 L524.6 1240.6 L525.3 1234.6 L526.0 1237.4 L526.7 1238.0 L527.4 1234.2 L528.0 1235.2 L528.7 1240.6 L529.4 1235.0 L530.1 1238.4 L530.8 1232.0 L531.5 1240.8 L532.2 1235.6 L532.9 1236.7 L533.6 1238.1 L534.3 1235.9 L534.9 1235.8 L535.6 1238.7 L536.2 1239.5 L536.8 1239.3 L537.5 1237.8 L538.1 1238.1 L538.8 1234.1 L539.4 1234.3 L540.1 1231.8 L540.7 1239.7 L541.4 1241.6 L542.1 1240.1 L542.8 1241.4 L543.5 1237.5 L544.2 1243.9 L544.9 1239.4 L545.6 1237.8 L546.3 1236.9 L547.0 1240.0 L547.7 1238.0 L548.4 1235.7 L549.1 1236.5 L549.7 1239.7 L550.4 1242.2 L551.1 1232.2 L551.8 1235.6 L552.5 1241.3 L553.2 1235.3 L553.9 1236.9 L554.6 1241.0 L555.3 1234.8 L556.0 1239.1 L556.7 1238.1 L557.4 1236.7 L558.1 1243.3 L558.7 1239.0 L559.4 1240.8 L560.1 1243.5 L560.8 1238.2 L561.5 1241.3 L562.2 1243.8 L562.9 1239.2 L563.6 1237.7 L564.3 1240.6 L565.0 1237.5 L565.7 1237.0 L566.4 1238.0 L567.1 1236.1 L567.7 1236.7 L568.4 1240.8 L569.1 1238.3 L569.8 1240.5 L570.5 1240.6 L571.2 1240.6 L571.9 1235.9 L572.6 1236.0 L573.3 1238.4 L574.0 1239.4 L574.7 1237.4 L575.4 1233.9 L576.1 1238.0 L576.7 1236.8 L577.4 1238.5 L578.1 1238.5 L578.8 1238.9 L579.5 1235.5 L580.2 1238.3 L580.9 1235.8 L581.6 1234.3 L582.3 1236.5 L583.0 1238.4 L583.7 1236.2 L584.4 1239.0 L585.1 1236.0 L585.8 1236.0 L586.4 1239.2 L587.1 1235.3 L587.8 1238.2 L588.5 1235.1 L589.2 1235.0 L589.9 1234.6 L590.6 1234.4 L591.3 1238.1 L592.0 1238.8 L592.7 1237.2 L593.4 1236.4 L594.1 1239.7 L594.8 1234.4 L595.4 1236.1 L596.1 1239.4 L596.8 1241.2 L597.5 1238.8 L598.2 1236.7 L598.9 1240.8 L599.6 1238.3 L600.3 1234.0 L601.0 1239.4 L601.7 1239.5 L602.4 1233.2 L603.1 1239.9 L603.8 1236.4 L604.4 1234.4 L605.1 1238.9 L605.8 1238.9 L606.5 1236.4 L607.2 1238.4 L607.9 1235.3 L608.6 1237.2 L609.3 1238.5 L610.0 1234.4 L610.7 1235.8 L611.4 1234.6 L612.1 1237.4 L612.8 1239.5 L613.4 1236.5 L614.1 1236.1 L614.8 1231.0 L615.5 1238.9 L616.2 1237.0 L616.9 1237.6 L617.6 1239.0 L618.2 1236.8 L618.9 1235.0 L619.6 1236.7 L620.3 1239.8 L620.9 1238.5 L621.6 1236.1 L622.3 1236.9 L622.9 1237.9 L623.6 1234.6 L624.3 1234.6 L625.0 1237.8 L625.6 1232.6 L626.3 1237.8 L627.0 1237.6 L627.7 1233.6 L628.3 1238.6 L629.0 1232.8 L629.7 1237.0 L630.4 1236.9 L631.0 1234.7 L631.7 1233.4 L632.4 1232.9 L633.0 1235.5 L633.7 1235.6 L634.4 1239.5 L635.1 1228.7 L635.7 1234.1 L636.4 1233.1 L637.1 1233.0 L637.8 1239.3 L638.4 1235.9 L639.1 1233.7 L639.8 1237.1 L640.5 1238.3 L641.1 1232.3 L641.8 1234.8 L642.5 1227.1 L643.1 1234.3 L643.8 1235.6 L644.5 1234.3 L645.2 1238.8 L645.8 1229.4 L646.5 1233.6 L647.2 1230.1 L647.9 1234.7 L648.5 1236.5 L649.2 1238.2 L649.9 1238.6 L650.6 1235.3 L651.3 1235.1 L652.0 1234.2 L652.7 1236.0 L653.4 1233.6 L654.1 1233.2 L654.8 1230.0 L655.5 1234.2 L656.1 1235.0 L656.8 1232.3 L657.5 1234.4 L658.2 1227.5 L658.9 1230.3 L659.6 1234.2 L660.3 1234.2 L661.0 1233.3 L661.7 1232.5 L662.4 1232.5 L663.1 1235.6 L663.8 1230.5 L664.5 1230.7 L665.1 1229.7 L665.8 1236.3 L666.5 1231.9 L667.2 1226.6 L667.9 1226.5 L668.6 1228.8 L669.3 1230.3 L670.0 1224.3 L670.7 1232.7 L671.4 1229.3 L672.1 1231.9 L672.8 1232.4 L673.5 1236.3 L674.1 1230.0 L674.8 1231.4 L675.5 1229.9 L676.2 1234.4 L676.9 1228.2 L677.5 1228.6 L678.2 1234.9 L678.9 1235.2 L679.5 1235.7 L680.2 1232.7 L680.8 1231.0 L681.5 1239.2 L682.1 1232.5 L682.8 1233.2 L683.4 1233.3 L684.0 1233.8 L684.7 1232.1 L685.3 1232.2 L686.0 1233.7 L686.6 1230.5 L687.3 1231.2 L687.9 1233.3 L688.6 1233.9 L689.3 1231.5 L689.9 1231.9 L690.6 1229.4 L691.2 1230.2 L691.9 1229.1 L692.5 1230.5 L693.2 1231.3 L693.9 1231.8 L694.5 1233.2 L695.2 1237.2 L695.8 1234.4 L696.5 1232.4 L697.2 1230.4 L697.9 1229.1 L698.6 1233.4 L699.3 1228.1 L699.9 1231.6 L700.5 1232.8 L701.2 1230.0 L701.8 1230.0 L702.5 1228.6 L703.1 1231.9 L703.8 1235.5 L704.5 1229.7 L705.1 1228.2 L705.8 1230.6 L706.4 1231.7 L707.1 1229.7 L707.7 1230.5 L708.3 1232.3 L709.0 1235.2 L709.6 1230.4 L710.3 1228.3 L710.9 1228.6 L711.5 1234.2 L712.2 1238.2 L712.9 1231.6 L713.6 1230.7 L714.3 1232.1 L715.0 1227.3 L715.7 1229.0 L716.4 1233.4 L717.1 1228.5 L717.8 1232.9 L718.5 1230.0 L719.1 1228.8 L719.8 1228.2 L720.4 1229.9 L721.1 1229.0 L721.8 1228.2 L722.4 1226.1 L723.1 1222.9 L723.7 1223.8 L724.4 1227.6 L725.0 1228.7 L725.7 1228.8 L726.3 1227.0 L727.0 1228.6 L727.6 1230.5 L728.3 1224.5 L728.9 1231.1 L729.6 1231.7 L730.2 1225.4 L730.9 1221.8 L731.5 1223.6 L732.2 1224.1 L732.9 1218.3 L733.5 1219.2 L734.2 1218.2 L734.9 1216.5 L735.6 1214.8 L736.3 1212.1 L737.0 1210.8 L737.7 1209.1 L738.5 1206.5 L739.2 1210.2 L739.9 1211.0 L740.6 1204.1 L741.3 1200.4 L742.0 1205.5 L742.7 1204.8 L743.5 1207.7 L744.2 1205.5 L745.0 1208.0 L745.7 1209.7 L746.3 1212.4 L747.0 1214.0 L747.7 1215.8 L748.4 1214.6 L749.1 1219.8 L749.7 1218.2 L750.4 1221.6 L751.1 1215.3 L751.7 1219.7 L752.4 1217.2 L753.0 1216.2 L753.7 1219.9 L754.3 1218.9 L755.0 1220.8 L755.6 1217.2 L756.3 1219.1 L756.9 1218.6 L757.6 1219.2 L758.2 1223.0 L758.9 1219.3 L759.6 1218.7 L760.4 1214.3 L761.1 1216.0 L761.9 1212.9 L762.5 1215.0 L763.2 1216.0 L763.8 1215.0 L764.5 1217.7 L765.2 1219.6 L765.8 1219.0 L766.5 1218.4 L767.1 1221.3 L767.8 1220.1 L768.5 1222.5 L769.1 1217.8 L769.8 1218.9 L770.4 1218.6 L771.1 1215.4 L771.8 1211.6 L772.5 1209.6 L773.2 1205.9 L774.0 1197.1 L774.8 1189.3 L775.5 1181.0 L776.1 1179.0 L776.6 1175.9 L777.2 1179.8 L777.7 1182.7 L778.4 1192.1 L779.0 1201.2 L779.6 1214.1 L780.3 1216.8 L781.0 1216.0 L781.7 1220.4 L782.4 1217.1 L783.0 1215.3 L783.7 1217.8 L784.4 1219.5 L785.0 1219.3 L785.7 1221.2 L786.3 1224.3 L787.0 1222.1 L787.7 1220.6 L788.3 1217.3 L789.0 1221.6 L789.6 1221.3 L790.2 1221.4 L790.9 1221.6 L791.5 1219.7 L792.2 1226.5 L792.8 1221.5 L793.5 1222.1 L794.1 1221.1 L794.8 1214.4 L795.4 1220.7 L796.0 1225.3 L796.7 1225.0 L797.3 1219.1 L798.0 1217.9 L798.6 1215.4 L799.2 1215.3 L799.9 1219.6 L800.6 1219.0 L801.3 1222.0 L802.0 1216.5 L802.7 1221.2 L803.4 1216.0 L804.1 1218.2 L804.8 1215.2 L805.5 1216.7 L806.2 1218.7 L806.8 1216.9 L807.5 1217.7 L808.1 1218.0 L808.7 1220.5 L809.4 1214.6 L810.0 1217.3 L810.7 1220.8 L811.3 1216.8 L811.9 1219.2 L812.6 1220.5 L813.3 1220.9 L814.0 1214.2 L814.7 1216.1 L815.4 1217.4 L816.1 1217.1 L816.7 1216.0 L817.4 1216.2 L818.0 1218.3 L818.7 1221.5 L819.4 1222.0 L820.0 1217.5 L820.7 1219.2 L821.3 1220.2 L821.9 1217.9 L822.6 1224.2 L823.2 1219.5 L823.9 1217.6 L824.5 1217.6 L825.1 1221.4 L825.8 1218.9 L826.4 1217.3 L827.1 1220.1 L827.7 1219.3 L828.4 1215.5 L829.0 1217.3 L829.6 1218.5 L830.3 1217.7 L830.9 1221.4 L831.6 1220.5 L832.2 1221.2 L832.8 1218.1 L833.5 1213.5 L834.1 1213.7 L834.8 1219.5 L835.4 1209.5 L836.0 1217.3 L836.7 1216.0 L837.3 1215.8 L838.0 1213.8 L838.6 1214.3 L839.3 1212.2 L840.0 1210.9 L840.6 1212.2 L841.3 1212.8 L841.9 1214.2 L842.6 1210.9 L843.3 1209.9 L843.9 1208.2 L844.6 1212.3 L845.2 1212.9 L845.9 1208.0 L846.6 1211.2 L847.3 1216.2 L847.9 1212.8 L848.6 1212.5 L849.3 1217.1 L850.0 1219.0 L850.7 1216.2 L851.4 1216.5 L852.1 1210.8 L852.8 1217.0 L853.5 1216.1 L854.1 1215.8 L854.8 1217.3 L855.5 1217.4 L856.1 1220.0 L856.8 1217.7 L857.4 1218.3 L858.1 1214.5 L858.7 1219.6 L859.4 1218.6 L860.0 1219.8 L860.7 1211.3 L861.3 1219.3 L862.0 1209.9 L862.6 1220.6 L863.2 1214.4 L863.9 1218.9 L864.5 1216.7 L865.2 1217.5 L865.8 1214.5 L866.4 1218.3 L867.1 1215.3 L867.7 1211.4 L868.4 1214.4 L869.0 1216.4 L869.6 1215.9 L870.3 1214.8 L870.9 1217.7 L871.6 1216.4 L872.2 1217.8 L872.8 1208.6 L873.5 1218.3 L874.1 1211.2 L874.8 1217.5 L875.4 1214.2 L876.1 1216.6 L876.7 1215.8 L877.3 1216.2 L878.0 1215.7 L878.6 1214.8 L879.3 1212.5 L879.9 1223.1 L880.5 1216.2 L881.2 1211.5 L881.8 1215.9 L882.5 1217.1 L883.2 1213.0 L883.8 1212.0 L884.5 1218.4 L885.1 1215.0 L885.8 1220.3 L886.5 1224.9 L887.1 1221.5 L887.8 1213.6 L888.4 1215.3 L889.1 1212.9 L889.8 1209.9 L890.4 1213.1 L891.1 1212.3 L891.7 1215.5 L892.4 1212.3 L893.1 1214.8 L893.7 1215.0 L894.4 1215.9 L895.0 1218.9 L895.7 1213.7 L896.3 1214.3 L897.0 1221.0 L897.6 1215.6 L898.2 1213.8 L898.9 1218.7 L899.5 1224.3 L900.2 1215.4 L900.8 1217.9 L901.5 1224.4 L902.1 1213.4 L902.8 1217.4 L903.4 1213.4 L904.1 1215.9 L904.8 1217.7 L905.4 1213.0 L906.1 1212.6 L906.7 1218.5 L907.4 1214.0 L908.0 1213.0 L908.7 1210.3 L909.3 1214.7 L909.9 1215.2 L910.6 1212.4 L911.2 1212.2 L911.9 1216.0 L912.6 1211.1 L913.2 1209.9 L913.9 1211.1 L914.5 1210.6 L915.2 1212.6 L915.9 1212.5 L916.5 1207.1 L917.2 1209.1 L917.9 1203.1 L918.6 1202.8 L919.3 1203.2 L920.1 1199.8 L920.9 1195.0 L921.6 1189.4 L922.3 1183.1 L923.0 1175.7 L923.6 1177.6 L924.3 1180.5 L925.0 1183.4 L925.6 1188.3 L926.2 1194.2 L926.8 1199.0 L927.5 1201.8 L928.2 1206.4 L928.9 1208.9 L929.6 1213.2 L930.3 1212.8 L931.0 1212.1 L931.7 1215.2 L932.4 1216.3 L933.1 1219.2 L933.7 1221.5 L934.4 1219.8 L935.1 1220.8 L935.7 1218.1 L936.4 1220.6 L937.1 1213.1 L937.7 1222.2 L938.4 1221.3 L939.1 1218.6 L939.7 1216.9 L940.4 1218.5 L941.0 1214.9 L941.7 1215.1 L942.3 1213.6 L943.0 1216.7 L943.7 1217.6 L944.3 1216.2 L945.0 1215.7 L945.6 1213.2 L946.3 1213.0 L947.0 1207.7 L947.6 1212.6 L948.3 1212.1 L948.9 1207.9 L949.6 1213.3 L950.3 1216.1 L950.9 1214.0 L951.6 1215.1 L952.2 1212.6 L952.9 1214.6 L953.5 1213.2 L954.2 1215.1 L954.8 1214.4 L955.5 1216.3 L956.1 1215.9 L956.8 1214.1 L957.4 1216.0 L958.1 1213.5 L958.8 1210.7 L959.5 1208.1 L960.2 1209.1 L960.9 1209.9 L961.6 1207.6 L962.4 1203.1 L963.1 1200.3 L963.9 1197.1 L964.5 1189.4 L965.1 1181.0 L965.7 1173.8 L966.4 1153.3 L967.1 1132.2 L967.8 1109.1 L968.5 1086.5 L969.4 1061.4 L969.9 1073.8 L970.5 1086.0 L971.2 1109.3 L971.8 1132.8 L972.4 1152.7 L973.0 1174.1 L973.6 1187.3 L974.2 1201.9 L975.0 1207.5 L975.8 1214.2 L976.5 1213.8 L977.2 1220.8 L977.8 1217.0 L978.5 1219.9 L979.2 1215.3 L979.9 1214.5 L980.5 1216.5 L981.2 1221.5 L981.8 1219.1 L982.5 1220.2 L983.1 1220.2 L983.8 1221.5 L984.4 1221.9 L985.0 1222.0 L985.7 1218.1 L986.3 1222.6 L987.0 1217.9 L987.6 1221.4 L988.3 1223.9 L988.9 1219.1 L989.5 1219.8 L990.2 1215.1 L990.8 1214.8 L991.5 1223.5 L992.1 1219.2 L992.7 1220.2 L993.4 1213.9 L994.0 1219.1 L994.7 1218.4 L995.3 1219.5 L995.9 1219.5 L996.6 1216.5 L997.2 1222.6 L997.9 1217.9 L998.6 1220.0 L999.2 1228.4 L999.9 1223.1 L1000.5 1223.8 L1001.2 1224.9 L1001.9 1219.1 L1002.6 1222.4 L1003.3 1219.5 L1004.0 1224.9 L1004.7 1223.3 L1005.4 1219.1 L1006.1 1222.3 L1006.7 1222.2 L1007.4 1217.1 L1008.1 1222.8 L1008.8 1220.1 L1009.4 1221.6 L1010.1 1219.1 L1010.7 1220.9 L1011.3 1221.0 L1012.0 1223.9 L1012.6 1225.4 L1013.3 1222.5 L1013.9 1220.0 L1014.6 1223.2 L1015.3 1222.4 L1016.0 1222.0 L1016.7 1226.7 L1017.4 1222.0 L1018.1 1219.8 L1018.7 1222.8 L1019.4 1224.1 L1020.1 1217.5 L1020.8 1221.3 L1021.5 1227.2 L1022.2 1227.3 L1022.9 1232.4 L1023.6 1220.7 L1024.3 1227.9 L1024.9 1232.1 L1025.6 1224.6 L1026.3 1223.6 L1026.9 1226.3 L1027.6 1228.9 L1028.2 1224.2 L1028.9 1224.2 L1029.6 1226.8 L1030.2 1223.2 L1030.9 1225.4 L1031.5 1225.3 L1032.2 1230.6 L1032.9 1229.6 L1033.5 1233.7 L1034.2 1229.0 L1034.8 1231.8 L1035.5 1231.6 L1036.2 1228.7 L1036.8 1231.2 L1037.5 1227.1 L1038.1 1229.6 L1038.8 1229.8 L1039.4 1225.4 L1040.1 1227.3 L1040.7 1228.7 L1041.3 1228.8 L1042.0 1225.8 L1042.6 1233.4 L1043.3 1229.5 L1043.9 1227.5 L1044.5 1227.7 L1045.2 1226.5 L1045.8 1228.4 L1046.5 1231.1 L1047.1 1221.8 L1047.8 1228.4 L1048.4 1232.0 L1049.0 1233.2 L1049.7 1231.0 L1050.4 1232.1 L1051.1 1227.2 L1051.8 1229.3 L1052.4 1225.4 L1053.1 1228.5 L1053.8 1229.1 L1054.5 1229.7 L1055.2 1229.8 L1055.9 1228.0 L1056.6 1225.3 L1057.3 1230.8 L1058.0 1227.6 L1058.7 1229.5 L1059.4 1226.7 L1060.1 1232.2 L1060.8 1228.9 L1061.4 1229.6 L1062.1 1227.7 L1062.8 1230.7 L1063.5 1227.7 L1064.2 1229.5 L1064.8 1231.9 L1065.4 1229.9 L1066.1 1228.7 L1066.7 1231.2 L1067.4 1226.9 L1068.0 1230.2 L1068.7 1228.5 L1069.3 1225.6 L1069.9 1229.6 L1070.6 1230.1 L1071.2 1230.3 L1071.9 1223.1 L1072.5 1232.8 L1073.1 1229.0 L1073.8 1228.4 L1074.4 1233.4 L1075.1 1232.0 L1075.7 1231.2 L1076.3 1231.5 L1077.0 1233.9 L1077.6 1229.2 L1078.3 1228.4 L1078.9 1234.2 L1079.6 1229.5 L1080.2 1229.2 L1080.8 1226.8 L1081.5 1228.6 L1082.2 1231.8 L1082.9 1225.9 L1083.6 1231.1 L1084.3 1236.1 L1085.0 1236.0 L1085.7 1229.8 L1086.4 1227.1 L1087.1 1235.0 L1087.8 1233.2 L1088.4 1231.7 L1089.1 1233.9 L1089.8 1237.5 L1090.5 1231.4 L1091.2 1236.1 L1091.9 1230.9 L1092.6 1232.8 L1093.3 1232.1 L1094.0 1230.2 L1094.7 1229.4 L1095.4 1234.5 L1096.1 1232.2 L1096.8 1235.0 L1097.5 1231.1 L1098.1 1232.9 L1098.8 1236.3 L1099.5 1232.5 L1100.2 1235.7 L1100.9 1239.5 L1101.6 1239.1 L1102.3 1235.0 L1103.0 1237.4 L1103.7 1234.4 L1104.4 1233.2 L1105.1 1233.4 L1105.8 1234.5 L1106.5 1227.0 L1107.1 1234.5 L1107.8 1231.7 L1108.5 1232.5 L1109.2 1232.7 L1109.9 1235.9 L1110.6 1230.1 L1111.3 1236.2 L1112.0 1235.3 L1112.7 1235.9 L1113.4 1234.9 L1114.1 1228.9 L1114.8 1232.2 L1115.5 1238.2 L1116.1 1230.3 L1116.8 1229.3 L1117.5 1233.3 L1118.2 1228.8 L1118.9 1228.4 L1119.6 1234.2 L1120.3 1231.6 L1121.0 1239.1 L1121.7 1230.9 L1122.4 1234.3 L1123.1 1234.9 L1123.8 1233.0 L1124.5 1234.2 L1125.1 1228.8 L1125.8 1235.0 L1126.5 1238.7 L1127.2 1238.4 L1127.9 1236.7 L1128.6 1238.9 L1129.3 1242.5 L1130.0 1237.9 L1130.7 1239.9 L1131.4 1238.0 L1132.1 1241.2 L1132.8 1238.6 L1133.5 1237.6 L1134.1 1237.6 L1134.8 1240.8 L1135.5 1232.4 L1136.2 1242.6 L1136.9 1235.9 L1137.6 1235.8 L1138.3 1239.9 L1139.0 1240.9 L1139.7 1240.9 L1140.4 1237.7 L1141.1 1235.2 L1141.8 1240.0 L1142.5 1239.9 L1143.2 1234.2 L1143.8 1237.2 L1144.4 1237.2 L1145.1 1240.5 L1145.7 1234.7 L1146.4 1236.1 L1147.0 1231.7 L1147.6 1237.5 L1148.3 1237.3 L1148.9 1241.2 L1149.6 1239.9 L1150.3 1239.2 L1151.0 1237.8 L1151.7 1242.4 L1152.4 1243.0 L1153.1 1246.0 L1153.8 1238.9 L1154.5 1234.9 L1155.2 1237.0 L1155.8 1234.9 L1156.5 1237.7 L1157.2 1241.7 L1157.9 1239.6 L1158.6 1244.9 L1159.3 1240.0 L1160.0 1241.3 L1160.6 1242.6 L1161.3 1241.1 L1161.9 1241.2 L1162.6 1242.8 L1163.2 1240.3 L1163.8 1244.2 L1164.5 1241.1 L1165.1 1238.1 L1165.8 1242.4 L1166.5 1239.4 L1167.2 1239.4 L1167.8 1240.3 L1168.5 1238.7 L1169.2 1242.4 L1169.9 1240.7 L1170.6 1241.0 L1171.3 1237.7 L1172.0 1240.6 L1172.7 1236.2 L1173.3 1244.2 L1174.0 1238.9 L1174.6 1240.3 L1175.3 1238.4 L1175.9 1242.4 L1176.5 1242.6 L1177.2 1241.3 L1177.8 1241.7 L1178.5 1244.4 L1179.1 1242.8 L1179.7 1243.5 L1180.4 1240.4 L1181.0 1241.7 L1181.7 1244.6 L1182.3 1238.7 L1183.0 1238.7 L1183.6 1242.3 L1184.2 1238.9 L1184.9 1242.4 L1185.6 1241.9 L1186.3 1241.8 L1187.0 1240.7 L1187.7 1243.3 L1188.4 1243.5 L1189.1 1243.6 L1189.8 1245.7 L1190.5 1244.1 L1191.2 1242.4 L1191.9 1244.9 L1192.5 1245.7 L1193.2 1244.4 L1193.9 1243.2 L1194.6 1245.2 L1195.3 1238.9 L1196.0 1245.0 L1196.7 1242.7 L1197.4 1244.0 L1198.1 1250.3 L1198.8 1243.5 L1199.5 1242.8 L1200.2 1245.6 L1200.9 1246.4 L1201.5 1243.4 L1202.2 1245.5 L1202.9 1248.7 L1203.6 1247.6 L1204.3 1246.1 L1205.0 1247.9 L1205.7 1248.3 L1206.4 1248.2 L1207.1 1248.9 L1207.8 1247.4 L1208.5 1243.4 L1209.2 1245.4 L1209.9 1250.5 L1210.5 1246.4 L1211.2 1240.8 L1211.9 1246.1 L1212.6 1242.4 L1213.3 1245.0 L1214.0 1247.3 L1214.7 1239.8 L1215.4 1244.4 L1216.1 1246.8 L1216.8 1247.6 L1217.5 1248.2 L1218.2 1248.5 L1218.9 1246.9 L1219.5 1249.6 L1220.2 1245.4 L1220.9 1244.8 L1221.6 1245.2 L1222.3 1248.2 L1223.0 1243.8 L1223.7 1245.2 L1224.4 1241.3 L1225.1 1245.8 L1225.8 1241.9 L1226.5 1244.7 L1227.2 1244.2 L1227.9 1243.5 L1228.5 1243.6 L1229.2 1244.4 L1229.9 1239.9 L1230.6 1242.7 L1231.3 1240.0 L1232.0 1244.2 L1232.7 1239.9 L1233.4 1243.2 L1234.1 1241.6 L1234.8 1240.3 L1235.5 1239.4 L1236.2 1241.7 L1236.9 1242.4 L1237.6 1240.4 L1238.2 1244.1 L1238.9 1239.6 L1239.6 1242.4 L1240.3 1242.6 L1240.9 1240.7 L1241.6 1237.5 L1242.2 1235.4 L1242.8 1240.5 L1243.5 1236.6 L1244.1 1235.0 L1244.8 1234.1 L1245.4 1231.8 L1246.0 1236.0 L1246.7 1237.6 L1247.3 1233.9 L1248.0 1237.3 L1248.6 1237.8 L1249.3 1238.3 L1249.9 1234.7 L1250.6 1238.8 L1251.2 1243.7 L1251.9 1240.3 L1252.5 1238.5 L1253.2 1232.3 L1253.9 1240.8 L1254.5 1235.7 L1255.2 1232.9 L1255.8 1237.0 L1256.6 1236.3 L1257.3 1234.1 L1258.1 1233.5 L1258.8 1233.3 L1259.4 1232.0 L1260.1 1235.5 L1260.7 1229.6 L1261.4 1232.1 L1262.1 1234.7 L1262.7 1229.1 L1263.4 1233.4 L1264.0 1230.2 L1264.7 1231.8 L1265.3 1225.8 L1266.0 1232.2 L1266.7 1230.8 L1267.3 1232.5 L1268.0 1234.8 L1268.7 1235.5 L1269.4 1237.2 L1270.1 1238.8 L1270.7 1239.8 L1271.4 1242.7 L1272.1 1241.1 L1272.7 1238.3 L1273.4 1244.2 L1274.0 1237.2 L1274.7 1242.6 L1275.4 1246.3 L1276.1 1245.2 L1276.8 1245.2 L1277.4 1243.1 L1278.1 1239.4 L1278.8 1243.9 L1279.5 1244.8 L1280.2 1243.9 L1280.9 1247.2 L1281.6 1246.9 L1282.3 1244.9 L1283.0 1247.5 L1283.6 1247.2 L1284.3 1245.3 L1284.9 1245.5 L1285.5 1246.7 L1286.2 1249.0 L1286.8 1245.7 L1287.5 1246.7 L1288.1 1247.3 L1288.7 1254.3 L1289.4 1253.4 L1290.0 1254.6 L1290.7 1252.7 L1291.3 1255.3 L1291.9 1250.8 L1292.6 1251.9 L1293.2 1251.3 L1293.9 1248.7 L1294.5 1250.9 L1295.2 1248.9 L1295.8 1253.3 L1296.5 1247.4 L1297.2 1246.6 L1297.8 1246.6 L1298.5 1246.7 L1299.1 1245.5 L1299.8 1247.6 L1300.5 1250.0 L1301.1 1248.3 L1301.8 1250.8 L1302.4 1249.6 L1303.1 1251.2 L1303.8 1249.7 L1304.4 1252.4 L1305.1 1246.3 L1305.7 1250.9 L1306.4 1255.2 L1307.1 1253.5 L1307.7 1256.9 L1308.4 1255.0 L1309.1 1254.1 L1309.8 1256.1 L1310.5 1253.7 L1311.2 1257.8 L1311.9 1255.8 L1312.6 1255.1 L1313.3 1254.8 L1313.9 1259.7 L1314.6 1258.0 L1315.3 1255.0 L1316.0 1256.8 L1316.7 1253.5 L1317.4 1253.7 L1318.1 1254.0 L1318.8 1252.5 L1319.5 1255.8 L1320.2 1252.7 L1320.9 1253.2 L1321.6 1254.4 L1322.3 1249.2 L1323.0 1253.2 L1323.6 1253.7 L1324.3 1253.5 L1325.0 1253.3 L1325.7 1252.3 L1326.4 1255.0 L1327.1 1250.0 L1327.8 1254.1 L1328.5 1253.4 L1329.1 1247.6 L1329.8 1253.2 L1330.4 1252.5 L1331.1 1251.2 L1331.7 1254.8 L1332.3 1248.5 L1333.0 1251.2 L1333.6 1251.2 L1334.3 1249.6 L1335.0 1245.9 L1335.8 1249.6 L1336.6 1246.0 L1337.3 1248.9 L1338.0 1249.0 L1338.6 1245.9 L1339.3 1252.0 L1340.0 1247.0 L1340.7 1249.6 L1341.4 1248.1 L1342.1 1249.5 L1342.8 1248.5 L1343.5 1249.1 L1344.2 1250.2 L1344.8 1249.7 L1345.5 1254.7 L1346.1 1248.8 L1346.8 1249.6 L1347.4 1252.5 L1348.1 1251.4 L1348.8 1251.3 L1349.4 1253.2 L1350.1 1251.7 L1350.7 1256.9 L1351.4 1254.8 L1352.1 1256.5 L1352.7 1253.6 L1353.4 1257.8 L1354.0 1253.4 L1354.6 1253.0 L1355.3 1251.9 L1355.9 1252.0 L1356.6 1253.7 L1357.2 1253.2 L1357.9 1249.0 L1358.5 1251.6 L1359.2 1253.1 L1359.8 1250.2 L1360.5 1249.1 L1361.1 1248.7 L1361.8 1247.9 L1362.5 1245.7 L1363.1 1246.8 L1363.8 1249.2 L1364.5 1247.7 L1365.2 1241.0 L1365.9 1244.6 L1366.6 1243.1 L1367.2 1242.2 L1367.9 1242.1 L1368.5 1246.4 L1369.1 1242.8 L1369.8 1244.5 L1370.4 1243.2 L1371.1 1243.3 L1371.7 1240.9 L1372.3 1241.3 L1373.0 1242.3 L1373.7 1243.2 L1374.3 1243.3 L1375.0 1243.4 L1375.6 1244.6 L1376.3 1242.2 L1377.0 1244.2 L1377.6 1242.7 L1378.3 1245.8 L1378.9 1244.1 L1379.6 1249.6 L1380.3 1243.7 L1380.9 1247.2 L1381.6 1247.6 L1382.3 1251.7 L1383.0 1251.1 L1383.7 1252.1 L1384.3 1254.1 L1385.0 1254.8 L1385.7 1253.0 L1386.3 1258.2 L1387.0 1255.2 L1387.6 1254.7 L1388.2 1252.8 L1388.9 1252.7 L1389.5 1254.2 L1390.2 1257.2 L1390.8 1255.9 L1391.5 1254.2 L1392.1 1253.4 L1392.8 1253.6 L1393.4 1256.1 L1394.1 1254.6 L1394.8 1253.5 L1395.4 1254.7 L1396.1 1251.8 L1396.8 1248.5 L1397.5 1247.1 L1398.2 1249.4 L1398.9 1250.5 L1399.6 1252.0 L1400.3 1253.6 L1401.0 1255.1 L1401.7 1256.1 L1402.3 1259.2 L1403.0 1257.0 L1403.6 1256.5 L1404.3 1256.3 L1404.9 1261.0 L1405.6 1260.1 L1406.2 1258.1 L1406.8 1257.5 L1407.5 1258.7 L1408.1 1258.4 L1408.8 1257.3 L1409.5 1256.4 L1410.2 1260.2 L1410.9 1255.0 L1411.6 1258.5 L1412.3 1260.4 L1413.0 1257.3 L1413.7 1257.8 L1414.4 1261.7 L1415.0 1259.9 L1415.7 1254.7 L1416.4 1258.8 L1417.1 1258.7 L1417.7 1256.7 L1418.4 1256.2 L1419.1 1257.8 L1419.8 1255.5 L1420.4 1255.8 L1421.1 1257.4 L1421.8 1255.9 L1422.4 1255.9 L1423.1 1260.8 L1423.8 1258.9 L1424.5 1256.9 L1425.2 1258.3 L1425.9 1258.4 L1426.6 1259.0 L1427.3 1260.1 L1428.0 1258.9 L1428.7 1257.9 L1429.4 1260.3 L1430.0 1259.4 L1430.7 1264.3 L1431.3 1261.0 L1432.0 1258.6 L1432.6 1261.1 L1433.3 1258.3 L1433.9 1260.1 L1434.5 1261.2 L1435.2 1259.5 L1435.8 1258.8 L1436.5 1260.6 L1437.2 1259.9 L1437.9 1258.3 L1438.6 1258.4 L1439.3 1257.5 L1440.0 1259.8 L1440.7 1262.6 L1441.4 1259.3 L1442.0 1257.2 L1442.7 1260.2 L1443.4 1259.0 L1444.1 1258.0 L1444.8 1259.7 L1445.5 1259.8 L1446.2 1254.7 L1446.9 1260.0 L1447.6 1258.2 L1448.3 1262.8 L1449.0 1260.8 L1449.7 1257.4 L1450.4 1259.6 L1451.0 1261.2 L1451.7 1258.8 L1452.4 1260.0 L1453.1 1259.9 L1453.8 1264.2 L1454.5 1260.0 L1455.2 1259.3 L1455.9 1264.0 L1456.6 1263.2 L1457.2 1261.3 L1457.9 1259.8 L1458.5 1260.2 L1459.2 1260.1 L1459.8 1259.8 L1460.4 1259.7 L1461.1 1257.3 L1461.7 1256.8 L1462.4 1260.5 L1463.0 1256.4 L1463.6 1255.5 L1464.3 1258.3 L1464.9 1259.3 L1465.6 1259.7 L1466.2 1257.7 L1466.8 1260.7 L1467.5 1258.1 L1468.1 1259.1 L1468.8 1256.7 L1469.4 1257.4 L1470.1 1259.8 L1470.8 1260.2 L1471.4 1259.0 L1472.1 1258.0 L1472.7 1260.0 L1473.4 1261.1 L1474.0 1261.5 L1474.7 1260.7 L1475.3 1261.0 L1476.0 1255.4 L1476.6 1260.8 L1477.2 1257.5 L1477.9 1259.7 L1478.5 1258.9 L1479.2 1258.1 L1479.9 1257.7 L1480.6 1258.5 L1481.3 1260.5 L1482.0 1260.1 L1482.7 1256.2 L1483.4 1257.4 L1484.1 1261.5 L1484.7 1260.1 L1485.4 1260.1 L1486.1 1259.4 L1486.8 1261.5 L1487.5 1261.4 L1488.2 1258.8 L1488.9 1257.9 L1489.6 1257.3 L1490.3 1259.1 L1491.0 1255.5 L1491.7 1257.1 L1492.4 1256.3 L1493.0 1258.2 L1493.6 1257.1 L1494.3 1258.8 L1494.9 1256.2 L1495.6 1254.4 L1496.2 1253.8 L1496.9 1255.9 L1497.5 1258.4 L1498.1 1256.2 L1498.8 1256.9 L1499.4 1257.6 L1500.1 1256.9 L1500.7 1258.0 L1501.3 1257.9 L1502.0 1259.0 L1502.6 1258.7 L1503.3 1260.8 L1503.9 1257.4 L1504.6 1262.1 L1505.3 1259.8 L1506.0 1258.9 L1506.7 1262.4 L1507.4 1261.9 L1508.1 1261.3 L1508.8 1262.4 L1509.4 1262.4 L1510.1 1261.9 L1510.8 1259.7 L1511.5 1263.7 L1512.2 1262.3 L1512.9 1261.5 L1513.6 1264.1 L1514.3 1263.3 L1515.0 1260.2 L1515.7 1262.5 L1516.4 1263.1 L1517.1 1261.1 L1517.8 1262.4 L1518.4 1260.0 L1519.1 1261.5 L1519.8 1261.0 L1520.5 1262.3 L1521.2 1264.6 L1521.9 1261.6 L1522.6 1263.4 L1523.3 1263.0 L1524.0 1260.7 L1524.7 1262.2 L1525.4 1261.3 L1526.1 1261.5 L1526.8 1260.7 L1527.4 1263.1 L1528.1 1263.0 L1528.8 1262.9 L1529.5 1261.8 L1530.2 1264.1 L1530.9 1263.6 L1531.6 1262.0 L1532.3 1261.3 L1533.0 1260.1 L1533.7 1261.1 L1534.4 1264.0 L1535.1 1261.2 L1535.8 1262.9 L1536.4 1260.8 L1537.1 1257.3 L1537.8 1260.0 L1538.5 1261.8 L1539.2 1258.8 L1539.9 1262.0 L1540.6 1259.3 L1541.3 1259.3 L1542.0 1261.8 L1542.7 1262.8 L1543.4 1259.9 L1544.1 1260.8 L1544.8 1259.0 L1545.4 1259.3 L1546.1 1261.9 L1546.7 1258.3 L1547.4 1259.0 L1548.0 1262.1 L1548.7 1261.6 L1549.3 1261.5 L1549.9 1263.7 L1550.6 1265.2 L1551.2 1265.2 L1551.9 1263.1 L1552.5 1262.3 L1553.1 1262.2 L1553.8 1261.5 L1554.4 1264.4 L1555.1 1261.3 L1555.7 1261.3 L1556.3 1262.3 L1557.0 1261.4 L1557.6 1262.6 L1558.3 1259.6 L1558.9 1260.3 L1559.6 1260.6 L1560.2 1260.0 L1560.8 1260.8 L1561.5 1261.3 L1562.1 1260.2 L1562.8 1259.3 L1563.5 1260.2 L1564.1 1259.7 L1564.8 1260.1 L1565.5 1260.4 L1566.2 1262.4 L1566.9 1261.9 L1567.6 1262.7 L1568.3 1263.0 L1569.0 1262.4 L1569.7 1264.8 L1570.4 1261.6 L1571.1 1261.5 L1571.8 1263.0 L1572.5 1261.1 L1573.1 1261.0 L1573.8 1262.5 L1574.5 1263.2 L1575.2 1262.4 L1575.9 1259.1 L1576.6 1262.1 L1577.3 1264.2 L1578.0 1260.0 L1578.7 1264.5 L1579.4 1259.6 L1580.1 1262.6 L1580.8 1262.1 L1581.5 1263.2 L1582.1 1263.1 L1582.8 1263.5 L1583.5 1263.4 L1584.2 1263.3 L1584.9 1266.3 L1585.6 1259.7 L1586.3 1258.3 L1587.0 1262.8 L1587.7 1262.6 L1588.4 1263.8 L1589.1 1262.2 L1589.8 1258.2 L1590.5 1262.3 L1591.1 1262.5 L1591.8 1260.8 L1592.5 1260.2 L1593.2 1261.1 L1593.9 1260.7 L1594.6 1260.9 L1595.3 1260.7 L1596.0 1259.9 L1596.7 1263.4 L1597.4 1261.7 L1598.0 1265.3 L1598.7 1261.6 L1599.3 1261.5 L1599.9 1259.4 L1600.6 1260.6 L1601.2 1262.9 L1601.9 1261.8 L1602.5 1259.8 L1603.2 1260.7 L1603.8 1262.0 L1604.5 1258.8 L1605.1 1256.9 L1605.8 1258.3 L1606.4 1260.0 L1607.1 1254.2 L1607.8 1253.7 L1608.5 1254.2 L1609.2 1255.9 L1609.8 1256.0 L1610.5 1263.9 L1611.2 1260.7 L1611.9 1262.3 L1612.5 1261.3 L1613.2 1259.2 L1613.9 1265.1 L1614.5 1265.7 L1615.2 1265.7 L1615.8 1265.7 L1616.5 1262.2 L1617.2 1265.7 L1617.9 1263.7 L1618.6 1265.4 L1619.3 1262.3 L1620.0 1265.2 L1620.6 1261.5 L1621.3 1264.6 L1621.9 1264.0 L1622.6 1261.9 L1623.2 1263.5 L1623.9 1261.8 L1624.5 1259.9 L1625.1 1259.6 L1625.8 1264.0 L1626.4 1264.4 L1627.1 1264.2 L1627.7 1264.7 L1628.4 1264.6 L1629.0 1261.9 L1629.6 1263.5 L1630.3 1268.3 L1630.9 1264.4 L1631.6 1264.0 L1632.2 1264.4 L1632.9 1264.8 L1633.5 1264.6 L1634.1 1265.3 L1634.8 1262.3 L1635.4 1266.3 L1636.1 1264.3 L1636.7 1265.2 L1637.4 1265.0 L1638.0 1265.0 L1638.7 1264.8 L1639.3 1266.6 L1639.9 1266.7 L1640.6 1265.4 L1641.2 1265.3 L1641.9 1266.0 L1642.5 1263.9 L1643.2 1265.2 L1643.8 1263.2 L1644.4 1265.4 L1645.1 1263.3 L1645.7 1261.7 L1646.4 1260.6 L1647.0 1261.3 L1647.7 1260.3 L1648.3 1261.6 L1648.9 1260.7 L1649.6 1263.4 L1650.2 1262.2 L1650.9 1263.4 L1651.5 1264.1 L1652.2 1264.0 L1652.8 1260.5 L1653.4 1265.7 L1654.1 1264.6 L1654.7 1263.1 L1655.4 1259.3 L1656.0 1263.7 L1656.7 1264.7 L1657.3 1259.5 L1657.9 1266.1 L1658.6 1263.9 L1659.2 1262.9 L1659.9 1264.4 L1660.5 1263.1 L1661.2 1262.9 L1661.8 1264.6 L1662.4 1264.3 L1663.1 1262.7 L1663.7 1262.7 L1664.4 1264.8 L1665.0 1263.6 L1665.7 1263.2 L1666.3 1267.1 L1667.0 1265.3 L1667.6 1264.2 L1668.2 1262.2 L1668.9 1264.1 L1669.5 1264.4 L1670.2 1261.0 L1670.8 1263.7 L1671.5 1263.3 L1672.1 1263.7 L1672.7 1261.8 L1673.4 1260.7 L1674.0 1261.8 L1674.7 1259.5 L1675.3 1261.0 L1676.0 1259.8 L1676.6 1259.2 L1677.3 1263.7 L1677.9 1261.2 L1678.6 1258.5 L1679.2 1261.5 L1679.9 1259.2 L1680.5 1260.0 L1681.2 1260.4 L1681.8 1262.0 L1682.5 1258.5 L1683.1 1258.7 L1683.8 1259.9 L1684.5 1260.1 L1685.1 1261.6 L1685.8 1263.1 L1686.4 1262.6 L1687.1 1260.3 L1687.7 1263.9 L1688.4 1262.8 L1689.0 1264.8 L1689.7 1263.0 L1690.3 1264.3 L1691.0 1261.6 L1691.6 1268.8 L1692.2 1263.7 L1692.9 1265.1 L1693.5 1265.5 L1694.2 1264.6 L1694.8 1264.5 L1695.5 1264.4 L1696.1 1265.3 L1696.8 1264.2 L1697.4 1265.2 L1698.0 1265.7 L1698.7 1263.8 L1699.3 1266.2 L1700.0 1265.4 L1700.6 1264.5 L1701.3 1263.0 L1701.9 1262.0 L1702.5 1260.2 L1703.2 1264.8 L1703.8 1260.4 L1704.5 1262.2 L1705.1 1259.2 L1705.8 1261.5 L1706.4 1260.6 L1707.0 1262.9 L1707.7 1262.4 L1708.3 1262.2 L1709.0 1259.8 L1709.6 1261.6 L1710.3 1260.4 L1710.9 1262.7 L1711.5 1261.5 L1712.2 1262.1 L1712.8 1261.5 L1713.5 1261.7 L1714.1 1262.4 L1714.8 1263.7 L1715.4 1263.1 L1716.0 1260.9 L1716.7 1261.4 L1717.3 1262.8 L1718.0 1264.2 L1718.6 1263.6 L1719.3 1265.4 L1719.9 1265.3 L1720.5 1263.4 L1721.2 1266.1 L1721.8 1267.9 L1722.5 1265.6 L1723.1 1268.4 L1723.8 1266.4 L1724.4 1266.5 L1725.0 1269.2 L1725.7 1270.1 L1726.3 1268.1 L1727.0 1268.9 L1727.6 1265.3 L1728.3 1267.7 L1728.9 1264.9 L1729.6 1266.6 L1730.2 1267.6 L1730.8 1267.5 L1731.5 1270.5 L1732.1 1270.5 L1732.8 1265.4 L1733.4 1264.6 L1734.1 1264.8 L1734.7 1266.2 L1735.3 1266.8 L1736.0 1265.7 L1736.6 1264.9 L1737.3 1263.2 L1737.9 1265.1 L1738.6 1266.4 L1739.2 1262.3 L1739.8 1264.6 L1740.5 1264.5 L1741.1 1265.5 L1741.8 1263.3 L1742.4 1264.6 L1743.1 1262.6 L1743.7 1264.0 L1744.4 1262.1 L1745.0 1263.4 L1745.7 1263.0 L1746.4 1260.5 L1747.0 1261.4 L1747.7 1261.2 L1748.4 1259.5 L1749.1 1255.5 L1749.7 1254.6 L1750.4 1253.6 L1751.1 1254.1 L1751.8 1253.3 L1752.5 1252.5 L1753.2 1251.1 L1753.9 1253.3 L1754.6 1254.9 L1755.3 1257.2 L1756.1 1259.0 L1756.7 1261.0 L1757.3 1262.4 L1757.9 1263.6 L1758.6 1266.0 L1759.2 1267.0 L1759.8 1268.9 L1760.5 1267.9 L1761.2 1267.9 L1761.9 1269.3 L1762.6 1267.6 L1763.3 1268.3 L1764.0 1269.1 L1764.6 1267.9 L1765.3 1267.5 L1766.0 1268.5 L1766.7 1268.7 L1767.4 1266.9 L1768.1 1267.7 L1768.8 1267.5 L1769.5 1267.6 L1770.1 1265.5 L1770.8 1266.4 L1771.5 1266.1 L1772.2 1267.1 L1772.9 1266.8 L1773.6 1265.7 L1774.3 1265.5 L1775.0 1266.1 L1775.6 1267.5 L1776.3 1264.9 L1777.0 1264.9 L1777.7 1267.1 L1778.3 1266.4 L1779.0 1266.3 L1779.7 1264.4 L1780.4 1265.4 L1781.0 1266.9 L1781.7 1267.2 L1782.4 1265.7 L1783.1 1264.9 L1783.7 1268.8 L1784.4 1266.3 L1785.1 1268.3 L1785.8 1271.3 L1786.4 1266.6 L1787.1 1266.8 L1787.8 1266.8 L1788.4 1266.7 L1789.1 1268.7 L1789.8 1269.0 L1790.5 1265.8 L1791.1 1267.5 L1791.8 1267.6 L1792.5 1268.7 L1793.2 1266.3 L1793.8 1264.8 L1794.5 1268.9 L1795.2 1267.4 L1795.9 1267.8 L1796.5 1268.0 L1797.2 1266.9 L1797.9 1271.2 L1798.6 1266.5 L1799.2 1269.0 L1799.9 1267.9 L1800.6 1268.9 L1801.2 1267.1 L1801.9 1268.0 L1802.6 1266.9 L1803.3 1269.6 L1803.9 1266.6 L1804.6 1269.6 L1805.3 1267.9 L1806.0 1267.4 L1806.6 1268.6 L1807.3 1267.9 L1808.0 1267.0 L1808.7 1267.0 L1809.3 1267.4 L1810.0 1267.3 L1810.7 1266.6 L1811.4 1266.0 L1812.0 1266.8 L1812.7 1266.3 L1813.4 1265.5 L1814.1 1265.4 L1814.7 1265.4 L1815.4 1266.5 L1816.1 1268.5 L1816.7 1263.8 L1817.4 1266.2 L1818.1 1265.9 L1818.8 1264.1 L1819.4 1267.6 L1820.1 1266.3 L1820.8 1265.1 L1821.5 1267.0 L1822.1 1265.3 L1822.8 1267.3 L1823.5 1264.9 L1824.2 1266.2 L1824.8 1265.0 L1825.5 1263.2 L1826.2 1268.0 L1826.9 1267.5 L1827.5 1265.0 L1828.2 1268.2 L1828.9 1264.4 L1829.5 1266.8 L1830.2 1269.0 L1830.9 1267.8 L1831.6 1265.5 L1832.2 1264.4 L1832.9 1265.7 L1833.6 1267.5 L1834.3 1267.0 L1834.9 1267.7 L1835.6 1265.2 L1836.3 1264.6 L1837.0 1266.0 L1837.6 1266.2 L1838.3 1264.8 L1839.0 1264.4 L1839.7 1264.6 L1840.3 1264.6 L1841.0 1264.6 L1841.7 1268.0 L1842.3 1265.9 L1843.0 1264.3 L1843.7 1265.1 L1844.4 1264.9 L1845.0 1264.3 L1845.7 1266.0 L1846.4 1263.1 L1847.1 1264.8 L1847.7 1266.2 L1848.4 1268.8 L1849.1 1263.1 L1849.8 1266.3 L1850.4 1265.9 L1851.1 1266.8 L1851.8 1265.3 L1852.5 1264.1 L1853.2 1268.7 L1853.9 1267.3 L1854.5 1266.4 L1855.2 1266.9 L1855.9 1268.9 L1856.6 1266.2 L1857.3 1268.5 L1858.0 1267.5 L1858.7 1270.8 L1859.4 1268.4 L1860.0 1267.7 L1860.6 1269.6 L1861.3 1267.9 L1861.9 1266.0 L1862.6 1266.4 L1863.2 1266.4 L1863.9 1265.6 L1864.5 1266.2 L1865.2 1265.6 L1865.8 1266.4 L1866.4 1264.0 L1867.1 1264.3 L1867.7 1263.4 L1868.4 1262.9 L1869.0 1264.4 L1869.7 1265.8 L1870.3 1266.6 L1870.9 1262.1 L1871.6 1265.0 L1872.2 1264.5 L1872.9 1262.3 L1873.5 1262.4 L1874.2 1261.6 L1874.8 1262.7 L1875.4 1264.2 L1876.1 1262.9 L1876.7 1263.1 L1877.4 1263.4 L1878.0 1260.5 L1878.7 1262.1 L1879.3 1258.7 L1879.9 1259.9 L1880.6 1263.2 L1881.2 1260.2 L1881.9 1261.7 L1882.5 1261.0 L1883.2 1263.0 L1883.8 1261.5 L1884.4 1264.7 L1885.1 1262.7 L1885.7 1263.6 L1886.4 1266.4 L1887.0 1263.5 L1887.7 1263.3 L1888.3 1263.7 L1889.0 1264.0 L1889.6 1265.5 L1890.3 1264.6 L1890.9 1262.4 L1891.6 1265.0 L1892.2 1265.2 L1892.9 1265.2 L1893.6 1263.1 L1894.2 1264.9 L1894.9 1267.7 L1895.5 1268.3 L1896.2 1268.1 L1896.8 1267.4 L1897.5 1268.4 L1898.1 1267.9 L1898.8 1269.8 L1899.5 1269.6 L1900.1 1266.6 L1900.8 1264.8 L1901.5 1267.6 L1902.1 1264.1 L1902.8 1265.4 L1903.5 1264.2 L1904.2 1265.7 L1904.8 1262.6 L1905.5 1263.5 L1906.1 1263.9 L1906.8 1261.6 L1907.4 1263.1 L1908.1 1264.0 L1908.8 1259.7 L1909.4 1259.4 L1910.1 1260.0 L1910.7 1261.4 L1911.4 1260.8 L1912.0 1260.5 L1912.6 1260.9 L1913.3 1261.5 L1913.9 1259.7 L1914.6 1258.9 L1915.2 1263.1 L1915.9 1261.9 L1916.5 1261.4 L1917.1 1261.0 L1917.8 1262.5 L1918.4 1262.7 L1919.1 1263.3 L1919.7 1261.4 L1920.4 1261.7 L1921.0 1262.5 L1921.6 1262.2 L1922.3 1261.8 L1922.9 1264.1 L1923.6 1263.9 L1924.2 1265.3 L1924.9 1263.1 L1925.5 1263.0 L1926.1 1267.4 L1926.8 1264.0 L1927.4 1264.9 L1928.1 1264.1 L1928.7 1265.5 L1929.4 1262.6 L1930.0 1266.8 L1930.6 1265.6 L1931.3 1265.7 L1931.9 1263.8 L1932.6 1266.5 L1933.2 1265.3 L1933.9 1264.6 L1934.5 1265.1 L1935.1 1265.0 L1935.8 1264.3 L1936.4 1266.8 L1937.1 1262.6 L1937.7 1263.5 L1938.4 1265.6 L1939.0 1262.1 L1939.7 1265.6 L1940.3 1264.6 L1940.9 1263.5 L1941.6 1262.6 L1942.2 1264.0 L1942.9 1264.8 L1943.5 1263.8 L1944.2 1261.6 L1944.8 1263.5 L1945.4 1264.3 L1946.1 1261.4 L1946.7 1264.2 L1947.4 1266.3 L1948.0 1263.2 L1948.7 1266.9 L1949.3 1263.3 L1949.9 1265.7 L1950.6 1263.6 L1951.2 1267.3 L1951.9 1265.8 L1952.5 1268.5 L1953.2 1268.2 L1953.8 1265.8 L1954.4 1265.7 L1955.1 1266.2 L1955.7 1265.9 L1956.4 1266.3 L1957.0 1267.7 L1957.7 1264.5 L1958.3 1264.8 L1958.9 1264.6 L1959.6 1265.0 L1960.2 1265.6 L1960.9 1266.7 L1961.5 1267.1 L1962.2 1266.0 L1962.8 1267.5 L1963.4 1266.2 L1964.1 1264.2 L1964.7 1266.6 L1965.4 1267.9 L1966.0 1265.9 L1966.7 1265.1 L1967.3 1267.0 L1967.9 1266.5 L1968.6 1265.3 L1969.2 1264.7 L1969.9 1265.6 L1970.5 1263.6 L1971.2 1265.1 L1971.8 1260.6 L1972.5 1265.3 L1973.1 1263.7 L1973.7 1263.7 L1974.4 1264.5 L1975.0 1264.1 L1975.7 1263.7 L1976.3 1263.8 L1977.0 1264.6 L1977.6 1264.1 L1978.2 1265.2 L1978.9 1265.1 L1979.5 1264.3 L1980.2 1264.4 L1980.8 1266.3 L1981.5 1267.2 L1982.1 1266.6 L1982.7 1266.5 L1983.4 1267.2 L1984.0 1265.9 L1984.7 1268.7 L1985.3 1267.3 L1986.0 1266.9 L1986.6 1268.3 L1987.2 1269.4 L1987.9 1265.9 L1988.5 1267.3 L1989.2 1264.9 L1989.8 1267.7 L1990.5 1266.1 L1991.1 1266.1 L1991.7 1265.5 L1992.4 1265.7 L1993.0 1265.3 L1993.7 1266.6 L1994.3 1266.8 L1995.0 1265.2 L1995.6 1265.8 L1996.2 1265.7 L1996.9 1268.4 L1997.5 1265.2 L1998.2 1266.2 L1998.8 1267.4 L1999.5 1265.0 L2000.1 1265.1 L2000.8 1263.4 L2001.4 1264.4 L2002.0 1263.8 L2002.7 1263.7 L2003.4 1266.0 L2004.1 1266.1 L2004.7 1265.3 L2005.4 1266.2 L2006.1 1265.4 L2006.8 1265.0 L2007.4 1267.1 L2008.1 1266.1 L2008.8 1266.8 L2009.4 1269.3 L2010.1 1265.1 L2010.8 1264.9 L2011.5 1266.0 L2012.1 1266.3 L2012.8 1264.0 L2013.5 1265.7 L2014.2 1264.1 L2014.8 1266.1 L2015.5 1266.1 L2016.2 1264.0 L2016.9 1267.1 L2017.5 1263.9 L2018.2 1263.9 L2018.9 1265.4 L2019.6 1268.8 L2020.2 1264.9 L2020.9 1265.9 L2021.6 1265.0 L2022.3 1265.8 L2022.9 1266.3 L2023.6 1265.9 L2024.3 1263.9 L2024.9 1265.1 L2025.6 1264.6 L2026.3 1266.4 L2027.0 1265.6 L2027.6 1262.7 L2028.3 1266.4 L2029.0 1264.9 L2029.7 1267.2 L2030.3 1266.6 L2031.0 1269.1 L2031.7 1264.5 L2032.4 1267.0 L2033.0 1262.3 L2033.7 1266.0 L2034.4 1265.8 L2035.1 1263.3 L2035.7 1267.3 L2036.4 1269.4 L2037.1 1264.4 L2037.7 1263.8 L2038.4 1263.4 L2039.1 1265.4 L2039.8 1265.7 L2040.4 1265.9 L2041.1 1266.1 L2041.8 1266.9 L2042.5 1269.1 L2043.1 1266.6 L2043.8 1267.0 L2044.5 1266.8 L2045.2 1266.9 L2045.8 1267.4 L2046.5 1264.9 L2047.2 1265.6 L2047.9 1263.9 L2048.5 1266.6 L2049.2 1263.7 L2049.9 1264.9 L2050.5 1266.9 L2051.2 1267.4 L2051.9 1265.7 L2052.6 1263.9 L2053.2 1265.9 L2053.9 1266.2 L2054.6 1265.2 L2055.3 1265.9 L2055.9 1265.2 L2056.6 1267.0 L2057.3 1264.0 L2058.0 1266.3 L2058.6 1266.9 L2059.3 1262.4 L2059.9 1267.1 L2060.6 1265.7 L2061.2 1266.8 L2061.9 1264.4 L2062.5 1264.1 L2063.1 1264.4 L2063.8 1263.6 L2064.4 1265.3 L2065.1 1261.8 L2065.7 1265.1 L2066.4 1264.1 L2067.0 1265.2 L2067.6 1265.5 L2068.3 1264.6 L2068.9 1262.7 L2069.6 1264.8 L2070.2 1265.3 L2070.9 1263.3 L2071.5 1263.3 L2072.1 1262.4 L2072.8 1264.5 L2073.5 1260.9 L2074.1 1261.6 L2074.8 1260.5 L2075.5 1260.2 L2076.2 1259.8 L2076.8 1258.0 L2077.5 1257.4 L2078.3 1257.5 L2079.0 1256.7 L2079.8 1257.9 L2080.5 1255.5 L2081.1 1252.9 L2081.5 1258.1 L2081.1 1254.0 L2081.3 1255.5" stroke="#008000" stroke-width="7"/>
<path class="curve" d="M248.5 1594.4 L249.2 1598.7 L249.8 1597.7 L250.5 1592.5 L251.2 1597.7 L251.8 1597.0 L252.5 1599.5 L253.2 1596.2 L253.8 1599.7 L254.5 1601.7 L255.2 1600.5 L255.9 1603.0 L256.6 1600.9 L257.3 1603.8 L258.0 1602.5 L258.7 1603.6 L259.4 1608.4 L260.1 1604.7 L260.8 1603.2 L261.5 1600.4 L262.2 1602.6 L262.8 1606.7 L263.5 1606.9 L264.2 1607.9 L264.9 1609.4 L265.6 1606.6 L266.3 1607.1 L267.0 1607.9 L267.7 1605.8 L268.4 1606.3 L269.1 1605.9 L269.8 1607.2 L270.5 1608.7 L271.2 1611.7 L271.9 1606.9 L272.5 1605.8 L273.2 1608.1 L273.9 1607.9 L274.6 1608.9 L275.3 1608.9 L275.9 1605.7 L276.5 1609.1 L277.2 1612.6 L277.8 1611.6 L278.5 1615.0 L279.1 1611.6 L279.8 1612.4 L280.4 1611.9 L281.0 1611.1 L281.7 1616.9 L282.3 1613.1 L283.0 1613.1 L283.6 1610.4 L284.2 1613.2 L284.9 1610.7 L285.5 1611.1 L286.2 1611.2 L286.9 1611.5 L287.5 1606.1 L288.2 1610.0 L288.9 1608.5 L289.6 1609.3 L290.3 1612.0 L291.0 1614.0 L291.7 1616.2 L292.4 1617.6 L293.1 1618.8 L293.7 1616.8 L294.4 1620.9 L295.0 1616.9 L295.7 1621.8 L296.3 1617.2 L296.9 1617.2 L297.6 1617.6 L298.2 1613.8 L298.9 1613.7 L299.5 1613.1 L300.2 1617.9 L300.9 1616.5 L301.6 1615.0 L302.3 1608.7 L303.0 1608.6 L303.7 1617.4 L304.4 1617.0 L305.1 1613.3 L305.8 1612.1 L306.5 1609.8 L307.2 1612.7 L307.9 1616.8 L308.5 1616.2 L309.2 1617.4 L309.9 1623.9 L310.6 1618.6 L311.2 1622.8 L311.9 1619.4 L312.5 1621.1 L313.2 1621.4 L313.9 1623.6 L314.5 1620.3 L315.1 1623.0 L315.8 1623.6 L316.4 1620.4 L317.1 1614.7 L317.7 1622.4 L318.3 1618.1 L319.0 1614.4 L319.6 1621.5 L320.3 1618.5 L320.9 1618.3 L321.6 1616.0 L322.2 1619.9 L322.8 1621.4 L323.5 1619.7 L324.1 1618.6 L324.8 1619.6 L325.4 1615.5 L326.1 1618.7 L326.7 1619.4 L327.4 1621.6 L328.0 1619.0 L328.7 1622.9 L329.4 1623.2 L330.0 1625.6 L330.7 1621.9 L331.3 1623.5 L331.9 1624.0 L332.6 1624.6 L333.2 1625.3 L333.9 1618.8 L334.5 1625.1 L335.1 1623.9 L335.8 1628.8 L336.4 1629.6 L337.1 1627.6 L337.8 1626.0 L338.4 1622.4 L339.1 1620.5 L339.7 1621.0 L340.4 1619.6 L341.0 1621.4 L341.7 1621.4 L342.3 1619.6 L343.0 1623.4 L343.6 1620.5 L344.2 1622.2 L344.9 1624.7 L345.5 1619.8 L346.2 1623.3 L346.8 1623.5 L347.5 1627.5 L348.1 1623.9 L348.7 1624.5 L349.4 1623.4 L350.0 1627.2 L350.7 1625.0 L351.3 1625.4 L351.9 1620.3 L352.6 1626.6 L353.2 1626.2 L353.9 1628.9 L354.5 1625.8 L355.1 1628.6 L355.8 1623.9 L356.4 1623.8 L357.1 1629.2 L357.7 1628.2 L358.4 1630.3 L359.0 1627.0 L359.6 1620.4 L360.3 1624.5 L360.9 1625.9 L361.6 1625.0 L362.2 1630.5 L362.8 1627.2 L363.5 1625.3 L364.1 1625.5 L364.8 1625.0 L365.4 1620.7 L366.0 1628.1 L366.7 1625.9 L367.3 1632.9 L368.0 1628.6 L368.6 1626.1 L369.3 1629.4 L369.9 1626.7 L370.5 1631.5 L371.2 1629.4 L371.8 1629.8 L372.5 1630.1 L373.1 1627.0 L373.7 1628.0 L374.4 1625.0 L375.0 1625.8 L375.7 1621.9 L376.3 1626.1 L376.9 1621.4 L377.6 1627.0 L378.2 1626.9 L378.9 1623.0 L379.5 1630.4 L380.2 1622.2 L380.8 1622.7 L381.4 1629.6 L382.1 1628.9 L382.7 1625.7 L383.4 1628.9 L384.0 1632.7 L384.6 1633.3 L385.3 1630.6 L385.9 1631.8 L386.6 1630.9 L387.2 1633.8 L387.8 1631.6 L388.5 1631.8 L389.1 1632.4 L389.8 1632.8 L390.4 1632.3 L391.1 1638.6 L391.7 1623.4 L392.3 1632.5 L393.0 1633.3 L393.7 1628.9 L394.4 1628.4 L395.1 1630.7 L395.8 1635.9 L396.5 1628.7 L397.2 1637.2 L397.9 1632.1 L398.6 1635.5 L399.3 1629.2 L399.9 1633.0 L400.6 1636.0 L401.3 1633.4 L402.0 1630.8 L402.7 1635.4 L403.4 1635.0 L404.1 1638.5 L404.8 1633.0 L405.5 1636.4 L406.2 1632.1 L406.9 1637.0 L407.6 1634.3 L408.3 1636.8 L409.0 1639.2 L409.6 1637.4 L410.3 1636.6 L411.0 1635.5 L411.7 1636.6 L412.4 1636.8 L413.1 1639.6 L413.8 1639.5 L414.5 1637.5 L415.2 1635.1 L415.9 1639.0 L416.6 1636.1 L417.3 1639.7 L418.0 1640.3 L418.6 1637.1 L419.3 1636.9 L420.0 1640.4 L420.7 1638.8 L421.3 1636.5 L422.0 1638.9 L422.6 1640.3 L423.2 1642.2 L423.9 1642.9 L424.5 1647.6 L425.2 1640.1 L425.8 1643.8 L426.5 1639.6 L427.2 1640.5 L427.9 1635.8 L428.6 1639.9 L429.3 1639.1 L430.0 1638.9 L430.6 1636.4 L431.3 1636.0 L432.0 1636.5 L432.7 1636.9 L433.4 1633.0 L434.1 1635.1 L434.8 1642.2 L435.5 1642.0 L436.2 1642.9 L436.8 1641.5 L437.5 1639.6 L438.1 1642.5 L438.8 1639.2 L439.4 1640.1 L440.0 1637.2 L440.7 1637.2 L441.3 1639.8 L442.0 1637.0 L442.6 1632.0 L443.3 1635.0 L444.0 1637.3 L444.7 1635.6 L445.4 1637.8 L446.1 1635.6 L446.8 1638.2 L447.5 1636.5 L448.2 1637.1 L448.9 1636.5 L449.6 1635.3 L450.3 1639.8 L451.0 1642.1 L451.7 1633.6 L452.3 1634.2 L453.0 1641.6 L453.7 1645.1 L454.4 1641.2 L455.1 1640.5 L455.8 1638.3 L456.5 1640.7 L457.2 1639.0 L457.9 1643.3 L458.6 1640.1 L459.3 1639.2 L460.0 1640.0 L460.7 1640.3 L461.3 1641.6 L462.0 1640.1 L462.7 1642.3 L463.4 1639.9 L464.1 1640.3 L464.8 1636.7 L465.5 1635.2 L466.2 1636.5 L466.9 1638.0 L467.6 1640.5 L468.3 1639.6 L469.0 1639.3 L469.7 1643.4 L470.3 1641.9 L470.9 1637.7 L471.6 1638.4 L472.2 1639.3 L472.9 1644.1 L473.5 1638.3 L474.1 1638.0 L474.8 1644.2 L475.4 1641.7 L476.1 1642.5 L476.8 1644.9 L477.5 1642.9 L478.2 1633.3 L478.9 1638.2 L479.6 1639.0 L480.3 1641.3 L481.0 1640.7 L481.7 1639.7 L482.3 1642.2 L483.0 1641.6 L483.7 1636.8 L484.4 1642.0 L485.1 1641.4 L485.8 1636.2 L486.5 1638.5 L487.2 1640.4 L487.9 1641.8 L488.6 1639.9 L489.3 1642.1 L489.9 1641.1 L490.6 1643.8 L491.2 1637.4 L491.8 1639.3 L492.5 1643.3 L493.1 1641.0 L493.8 1640.3 L494.4 1639.8 L495.0 1633.9 L495.7 1639.5 L496.3 1641.0 L497.0 1639.2 L497.6 1643.6 L498.2 1643.7 L498.9 1644.1 L499.5 1641.4 L500.2 1644.3 L500.8 1642.8 L501.5 1642.6 L502.1 1647.5 L502.8 1646.5 L503.5 1645.2 L504.1 1646.6 L504.8 1643.7 L505.4 1648.8 L506.1 1643.2 L506.7 1642.6 L507.4 1642.7 L508.0 1645.2 L508.6 1643.5 L509.3 1644.9 L509.9 1641.2 L510.6 1639.6 L511.2 1644.8 L511.8 1644.9 L512.5 1638.9 L513.1 1644.5 L513.8 1645.2 L514.4 1642.0 L515.0 1640.4 L515.7 1645.6 L516.3 1641.7 L517.0 1645.2 L517.6 1644.7 L518.3 1644.0 L518.9 1643.7 L519.5 1646.3 L520.2 1644.0 L520.8 1649.4 L521.5 1637.3 L522.1 1646.2 L522.7 1645.6 L523.4 1646.6 L524.0 1647.9 L524.7 1646.9 L525.3 1642.8 L525.9 1645.6 L526.6 1641.7 L527.2 1644.2 L527.9 1648.8 L528.5 1643.8 L529.2 1645.5 L529.9 1646.3 L530.6 1649.6 L531.3 1644.4 L532.0 1649.3 L532.7 1647.4 L533.4 1645.3 L534.0 1648.6 L534.7 1650.1 L535.4 1646.9 L536.1 1647.9 L536.7 1646.9 L537.4 1647.4 L538.0 1645.9 L538.6 1646.7 L539.3 1645.7 L539.9 1645.2 L540.6 1649.7 L541.2 1646.6 L541.8 1646.7 L542.5 1645.5 L543.1 1643.7 L543.8 1647.4 L544.4 1649.6 L545.1 1651.1 L545.7 1643.4 L546.3 1648.3 L547.0 1648.4 L547.7 1645.0 L548.4 1647.6 L549.1 1651.6 L549.7 1650.4 L550.4 1648.7 L551.1 1653.9 L551.8 1649.4 L552.5 1653.3 L553.2 1650.1 L553.9 1651.4 L554.6 1651.2 L555.3 1648.6 L556.0 1653.3 L556.7 1647.9 L557.4 1651.5 L558.1 1650.6 L558.7 1652.3 L559.4 1649.1 L560.1 1650.9 L560.8 1653.6 L561.5 1646.5 L562.2 1649.6 L562.9 1647.2 L563.6 1651.9 L564.3 1646.7 L565.0 1657.5 L565.7 1650.6 L566.4 1649.8 L567.1 1653.2 L567.7 1651.7 L568.4 1652.4 L569.0 1651.5 L569.7 1652.0 L570.3 1649.5 L571.0 1655.3 L571.6 1647.9 L572.2 1648.5 L572.9 1649.1 L573.5 1651.5 L574.2 1646.2 L574.8 1648.6 L575.4 1649.6 L576.1 1647.1 L576.7 1646.8 L577.4 1646.8 L578.0 1648.5 L578.6 1646.3 L579.3 1646.3 L579.9 1645.7 L580.6 1643.5 L581.2 1650.4 L581.9 1647.6 L582.5 1651.0 L583.1 1641.9 L583.8 1649.3 L584.4 1651.3 L585.1 1648.8 L585.7 1648.6 L586.3 1648.1 L587.0 1653.5 L587.6 1648.7 L588.3 1649.5 L588.9 1653.6 L589.5 1656.6 L590.2 1653.0 L590.8 1656.3 L591.5 1656.1 L592.2 1651.0 L592.9 1653.5 L593.6 1650.4 L594.3 1649.2 L595.0 1651.8 L595.7 1653.2 L596.4 1653.1 L597.1 1649.9 L597.8 1655.2 L598.4 1652.6 L599.1 1652.7 L599.8 1648.6 L600.5 1650.5 L601.2 1645.3 L601.9 1647.9 L602.6 1650.9 L603.3 1648.1 L604.0 1648.6 L604.7 1654.8 L605.4 1654.1 L606.1 1651.3 L606.8 1644.9 L607.4 1648.8 L608.1 1650.7 L608.8 1648.4 L609.5 1649.6 L610.2 1650.6 L610.9 1652.3 L611.6 1651.4 L612.3 1647.8 L613.0 1651.0 L613.7 1653.1 L614.4 1648.6 L615.1 1644.9 L615.8 1648.6 L616.4 1651.3 L617.1 1650.4 L617.8 1650.6 L618.5 1651.0 L619.2 1653.9 L619.9 1648.3 L620.6 1648.2 L621.3 1650.5 L622.0 1651.0 L622.7 1652.0 L623.4 1651.3 L624.1 1648.3 L624.8 1648.0 L625.4 1650.1 L626.1 1647.6 L626.8 1652.6 L627.5 1651.4 L628.2 1648.0 L628.9 1647.4 L629.6 1654.8 L630.3 1648.4 L631.0 1651.7 L631.7 1649.8 L632.4 1649.7 L633.0 1653.3 L633.7 1651.8 L634.4 1648.2 L635.1 1653.4 L635.7 1656.3 L636.4 1655.8 L637.1 1655.5 L637.8 1648.3 L638.4 1650.8 L639.1 1654.2 L639.8 1653.2 L640.5 1655.3 L641.1 1649.0 L641.8 1652.7 L642.5 1646.7 L643.2 1652.6 L643.9 1651.3 L644.6 1653.1 L645.3 1650.8 L646.0 1647.4 L646.7 1652.5 L647.4 1655.4 L648.0 1649.4 L648.7 1652.6 L649.3 1651.0 L649.9 1654.1 L650.6 1647.6 L651.2 1651.3 L651.9 1652.8 L652.5 1649.8 L653.1 1649.1 L653.8 1648.9 L654.5 1648.9 L655.2 1650.5 L655.9 1654.8 L656.6 1651.1 L657.3 1647.1 L658.0 1654.2 L658.7 1652.2 L659.4 1649.8 L660.1 1651.4 L660.8 1649.6 L661.5 1649.6 L662.1 1647.5 L662.8 1652.1 L663.5 1651.8 L664.2 1654.4 L664.9 1651.0 L665.6 1655.3 L666.3 1651.7 L667.0 1649.9 L667.6 1647.0 L668.3 1652.5 L668.9 1649.5 L669.6 1648.9 L670.2 1651.9 L670.8 1649.2 L671.5 1655.4 L672.1 1648.9 L672.8 1647.0 L673.4 1647.1 L674.1 1648.1 L674.7 1644.2 L675.4 1652.1 L676.1 1651.1 L676.7 1645.3 L677.4 1655.6 L678.0 1648.5 L678.7 1651.0 L679.3 1652.9 L679.9 1657.5 L680.6 1649.5 L681.2 1649.9 L681.9 1647.9 L682.5 1650.2 L683.2 1647.0 L683.8 1654.7 L684.4 1654.0 L685.1 1653.2 L685.7 1650.6 L686.4 1650.7 L687.0 1651.0 L687.6 1645.6 L688.3 1654.5 L688.9 1652.2 L689.6 1651.6 L690.2 1647.7 L690.8 1650.2 L691.5 1652.8 L692.1 1654.8 L692.8 1647.6 L693.4 1645.8 L694.1 1646.4 L694.7 1646.1 L695.4 1647.6 L696.0 1645.6 L696.7 1646.9 L697.3 1646.0 L698.0 1644.0 L698.6 1649.6 L699.3 1651.0 L699.9 1650.7 L700.5 1649.4 L701.2 1651.8 L701.8 1655.3 L702.5 1649.7 L703.1 1644.5 L703.8 1653.5 L704.5 1648.0 L705.1 1647.4 L705.8 1651.1 L706.4 1652.8 L707.1 1651.8 L707.7 1649.6 L708.3 1650.3 L709.0 1650.3 L709.6 1648.9 L710.3 1651.3 L710.9 1649.8 L711.5 1654.4 L712.2 1650.2 L712.8 1650.9 L713.5 1654.0 L714.1 1648.9 L714.7 1650.9 L715.4 1651.2 L716.0 1653.1 L716.7 1652.9 L717.3 1650.1 L718.0 1650.4 L718.6 1652.3 L719.2 1648.5 L719.9 1649.0 L720.5 1651.0 L721.2 1652.3 L721.8 1652.9 L722.4 1654.8 L723.1 1649.0 L723.8 1647.1 L724.5 1649.1 L725.2 1648.5 L725.9 1649.0 L726.6 1647.7 L727.3 1648.9 L728.0 1645.6 L728.7 1648.2 L729.4 1647.6 L730.1 1644.2 L730.7 1642.6 L731.4 1636.7 L732.0 1640.1 L732.7 1641.1 L733.3 1636.3 L734.0 1638.7 L734.7 1637.7 L735.3 1634.4 L735.9 1631.6 L736.5 1625.1 L737.2 1628.8 L737.9 1625.2 L738.5 1625.7 L739.2 1623.9 L739.9 1625.0 L740.6 1627.2 L741.3 1625.3 L742.0 1630.6 L742.7 1628.4 L743.3 1631.9 L743.9 1634.4 L744.5 1634.6 L745.2 1636.0 L745.8 1638.5 L746.5 1641.4 L747.1 1640.2 L747.8 1644.7 L748.4 1637.8 L749.1 1639.3 L749.8 1642.4 L750.5 1639.7 L751.2 1642.0 L751.9 1645.4 L752.6 1641.8 L753.3 1639.5 L754.0 1642.4 L754.7 1640.4 L755.4 1648.0 L756.0 1643.1 L756.7 1646.3 L757.3 1642.7 L758.0 1642.9 L758.6 1644.2 L759.3 1642.4 L759.9 1642.3 L760.6 1641.9 L761.2 1636.2 L761.9 1645.5 L762.5 1645.0 L763.2 1643.2 L763.8 1643.1 L764.5 1643.0 L765.2 1636.8 L765.8 1636.9 L766.5 1641.2 L767.2 1642.9 L767.9 1641.5 L768.6 1639.6 L769.3 1639.3 L770.0 1638.3 L770.7 1633.5 L771.4 1629.9 L772.1 1625.7 L772.8 1621.4 L773.3 1618.2 L773.9 1611.4 L774.6 1615.1 L775.4 1617.1 L776.2 1613.6 L776.8 1626.6 L777.6 1633.8 L778.4 1639.5 L779.1 1641.8 L779.7 1637.6 L780.4 1641.5 L781.1 1643.5 L781.7 1639.5 L782.4 1643.3 L783.0 1640.7 L783.7 1640.2 L784.4 1643.0 L785.0 1641.8 L785.7 1636.7 L786.3 1639.7 L787.0 1641.2 L787.7 1642.1 L788.4 1640.1 L789.1 1640.2 L789.8 1641.2 L790.4 1639.5 L791.1 1639.3 L791.8 1641.9 L792.5 1645.7 L793.2 1638.5 L793.9 1645.8 L794.6 1641.1 L795.3 1648.8 L795.9 1638.7 L796.6 1640.6 L797.2 1641.8 L797.8 1642.8 L798.5 1641.8 L799.1 1642.0 L799.8 1638.3 L800.4 1642.3 L801.0 1640.8 L801.7 1635.8 L802.3 1637.9 L803.0 1642.0 L803.6 1636.3 L804.2 1637.4 L804.9 1638.3 L805.5 1635.5 L806.2 1638.6 L806.8 1639.7 L807.5 1635.1 L808.1 1636.1 L808.8 1639.0 L809.5 1644.4 L810.1 1642.5 L810.8 1638.6 L811.4 1643.9 L812.1 1639.7 L812.7 1640.1 L813.4 1642.9 L814.0 1640.2 L814.6 1636.1 L815.3 1639.4 L815.9 1643.8 L816.6 1641.0 L817.2 1641.1 L817.9 1642.1 L818.5 1642.7 L819.2 1641.6 L819.9 1636.4 L820.5 1642.6 L821.2 1637.5 L821.8 1633.8 L822.5 1635.7 L823.1 1638.5 L823.8 1633.7 L824.4 1636.0 L825.1 1640.0 L825.8 1634.9 L826.5 1637.0 L827.2 1641.9 L827.9 1640.2 L828.6 1635.5 L829.3 1637.4 L829.9 1638.5 L830.6 1638.3 L831.2 1641.8 L831.9 1639.0 L832.5 1636.3 L833.2 1637.4 L833.9 1637.2 L834.6 1636.9 L835.3 1639.8 L835.9 1635.5 L836.6 1631.4 L837.3 1632.7 L838.0 1632.1 L838.7 1633.3 L839.3 1634.5 L840.0 1642.3 L840.6 1636.5 L841.3 1635.6 L841.9 1641.4 L842.6 1638.7 L843.2 1640.9 L843.9 1638.4 L844.5 1633.6 L845.2 1635.3 L845.8 1637.6 L846.4 1634.4 L847.1 1633.0 L847.7 1636.3 L848.4 1639.7 L849.0 1633.1 L849.7 1636.8 L850.4 1638.8 L851.0 1637.2 L851.7 1638.0 L852.3 1638.4 L853.0 1638.9 L853.6 1643.5 L854.3 1633.5 L854.9 1635.7 L855.5 1637.1 L856.2 1634.9 L856.8 1637.7 L857.5 1631.3 L858.1 1633.2 L858.8 1640.4 L859.4 1630.0 L860.1 1636.2 L860.7 1634.2 L861.4 1639.0 L862.1 1637.7 L862.7 1632.8 L863.4 1641.4 L864.0 1634.8 L864.7 1635.8 L865.4 1632.5 L866.0 1630.1 L866.7 1632.1 L867.3 1633.4 L868.0 1631.2 L868.7 1631.8 L869.3 1634.3 L870.0 1630.9 L870.6 1632.1 L871.3 1631.6 L872.0 1630.3 L872.6 1633.6 L873.3 1629.7 L873.9 1628.9 L874.6 1629.7 L875.2 1627.6 L875.9 1630.4 L876.6 1630.1 L877.2 1629.6 L877.9 1627.4 L878.5 1632.4 L879.2 1631.9 L879.9 1633.9 L880.5 1635.0 L881.2 1632.3 L881.8 1634.3 L882.5 1633.8 L883.1 1633.2 L883.7 1635.1 L884.4 1634.6 L885.0 1635.5 L885.7 1634.3 L886.3 1635.8 L887.0 1633.8 L887.6 1636.0 L888.2 1632.0 L888.9 1638.8 L889.5 1639.9 L890.2 1633.6 L890.8 1632.5 L891.4 1634.0 L892.1 1637.6 L892.7 1630.8 L893.4 1630.2 L894.0 1633.7 L894.7 1631.3 L895.4 1631.1 L896.0 1635.5 L896.7 1633.9 L897.3 1629.4 L898.0 1630.9 L898.7 1629.0 L899.3 1629.2 L900.0 1628.7 L900.6 1626.9 L901.3 1626.9 L902.0 1626.2 L902.6 1627.8 L903.2 1628.9 L903.9 1624.4 L904.5 1630.6 L905.2 1624.8 L905.8 1622.8 L906.4 1627.8 L907.1 1625.8 L907.7 1623.7 L908.4 1621.9 L909.1 1626.7 L909.8 1627.0 L910.5 1624.7 L911.2 1624.9 L911.9 1623.8 L912.6 1627.7 L913.3 1623.0 L914.0 1621.6 L914.7 1627.4 L915.4 1623.3 L916.1 1620.8 L916.8 1617.0 L917.5 1621.9 L918.2 1619.1 L918.9 1615.4 L919.7 1611.3 L920.5 1607.9 L921.1 1603.3 L921.7 1597.2 L922.3 1592.5 L923.0 1595.1 L923.8 1597.7 L924.5 1601.1 L925.1 1605.5 L925.8 1610.3 L926.4 1615.0 L927.0 1616.3 L927.7 1617.9 L928.3 1619.5 L929.0 1621.6 L929.6 1618.4 L930.3 1623.2 L930.9 1622.9 L931.6 1620.8 L932.2 1627.1 L932.9 1623.4 L933.6 1628.7 L934.2 1626.7 L934.9 1622.1 L935.6 1629.2 L936.2 1624.2 L936.9 1626.8 L937.6 1624.9 L938.2 1629.4 L938.9 1626.0 L939.6 1632.7 L940.3 1623.3 L941.0 1622.2 L941.7 1622.8 L942.3 1625.0 L943.0 1619.6 L943.7 1623.4 L944.3 1621.6 L945.0 1623.7 L945.6 1620.2 L946.3 1621.4 L947.0 1619.6 L947.7 1617.8 L948.3 1618.3 L949.0 1619.2 L949.7 1620.3 L950.4 1611.9 L951.1 1619.6 L951.8 1619.1 L952.5 1621.3 L953.2 1621.0 L953.9 1623.3 L954.6 1623.3 L955.2 1624.4 L955.9 1618.4 L956.6 1619.6 L957.2 1619.6 L957.9 1619.4 L958.6 1615.7 L959.3 1612.6 L960.1 1608.8 L960.8 1606.5 L961.6 1603.6 L962.3 1595.6 L963.1 1587.6 L963.9 1580.1 L964.5 1566.1 L965.1 1553.0 L965.7 1539.1 L966.4 1515.7 L967.1 1492.4 L967.6 1446.0 L968.0 1424.9 L968.4 1445.8 L969.3 1492.0 L969.9 1515.6 L970.5 1538.2 L971.4 1579.5 L972.3 1607.6 L973.0 1609.3 L973.7 1610.6 L974.4 1612.6 L975.1 1614.1 L975.8 1617.6 L976.4 1617.3 L977.1 1617.2 L977.7 1614.3 L978.4 1618.2 L979.1 1618.4 L979.7 1619.6 L980.4 1620.0 L981.1 1618.2 L981.8 1621.9 L982.5 1619.1 L983.2 1617.0 L983.9 1617.6 L984.6 1617.4 L985.3 1617.4 L986.0 1618.8 L986.7 1618.3 L987.4 1615.2 L988.1 1617.7 L988.9 1618.7 L989.6 1621.8 L990.4 1623.1 L991.0 1620.9 L991.7 1618.3 L992.3 1617.6 L993.0 1616.5 L993.6 1614.6 L994.3 1612.3 L995.0 1613.6 L995.7 1615.2 L996.4 1616.6 L997.0 1619.2 L997.7 1621.1 L998.4 1619.4 L999.1 1618.8 L999.7 1619.8 L1000.4 1615.9 L1001.0 1616.4 L1001.7 1614.2 L1002.4 1611.0 L1003.1 1613.9 L1003.7 1618.1 L1004.4 1616.1 L1005.1 1614.0 L1005.8 1616.3 L1006.5 1615.0 L1007.2 1619.0 L1007.9 1615.7 L1008.6 1618.4 L1009.3 1616.4 L1009.9 1618.9 L1010.6 1615.1 L1011.2 1619.1 L1011.8 1618.7 L1012.5 1620.1 L1013.1 1617.3 L1013.8 1619.4 L1014.4 1622.3 L1015.1 1621.7 L1015.7 1619.4 L1016.3 1620.7 L1017.0 1621.1 L1017.6 1617.3 L1018.3 1616.5 L1018.9 1618.4 L1019.5 1625.5 L1020.2 1618.2 L1020.8 1618.9 L1021.5 1619.5 L1022.1 1620.5 L1022.7 1619.8 L1023.4 1621.4 L1024.0 1621.8 L1024.7 1620.5 L1025.3 1620.2 L1026.0 1619.3 L1026.6 1623.2 L1027.3 1620.0 L1027.9 1622.1 L1028.6 1621.9 L1029.2 1623.3 L1029.9 1618.6 L1030.5 1625.7 L1031.2 1626.3 L1031.9 1624.1 L1032.6 1623.3 L1033.3 1621.7 L1034.0 1618.8 L1034.7 1613.8 L1035.3 1617.2 L1036.0 1614.9 L1036.6 1616.5 L1037.2 1619.6 L1037.9 1617.2 L1038.5 1618.8 L1039.2 1617.1 L1039.8 1619.7 L1040.4 1620.8 L1041.1 1620.0 L1041.7 1619.1 L1042.4 1620.2 L1043.0 1617.9 L1043.6 1618.1 L1044.3 1618.1 L1044.9 1622.3 L1045.6 1621.7 L1046.2 1619.7 L1046.9 1623.0 L1047.5 1617.3 L1048.1 1619.3 L1048.8 1620.6 L1049.4 1622.0 L1050.1 1622.5 L1050.7 1619.8 L1051.3 1620.6 L1052.0 1622.1 L1052.6 1625.5 L1053.3 1624.6 L1053.9 1621.8 L1054.5 1622.7 L1055.2 1617.6 L1055.8 1619.1 L1056.5 1623.8 L1057.1 1624.3 L1057.8 1621.2 L1058.4 1619.9 L1059.1 1621.3 L1059.8 1625.7 L1060.5 1627.5 L1061.1 1625.0 L1061.8 1620.1 L1062.5 1626.1 L1063.2 1627.8 L1063.8 1626.9 L1064.5 1623.6 L1065.2 1626.4 L1065.9 1631.7 L1066.5 1630.6 L1067.2 1629.4 L1067.8 1622.7 L1068.4 1630.4 L1069.1 1626.3 L1069.7 1627.6 L1070.4 1621.4 L1071.0 1622.5 L1071.6 1623.0 L1072.3 1624.9 L1073.0 1626.7 L1073.7 1626.0 L1074.4 1626.4 L1075.1 1628.8 L1075.9 1624.2 L1076.6 1620.4 L1077.4 1616.4 L1078.1 1618.5 L1078.9 1622.0 L1079.6 1625.8 L1080.3 1628.5 L1081.0 1626.4 L1081.7 1626.0 L1082.4 1628.8 L1083.1 1625.9 L1083.8 1624.6 L1084.5 1622.9 L1085.2 1627.1 L1085.9 1621.7 L1086.6 1620.1 L1087.3 1623.0 L1088.0 1623.4 L1088.6 1622.3 L1089.3 1622.4 L1090.0 1617.2 L1090.7 1619.0 L1091.4 1621.9 L1092.1 1623.6 L1092.8 1619.9 L1093.5 1623.2 L1094.2 1624.0 L1094.8 1623.4 L1095.5 1620.0 L1096.1 1626.4 L1096.7 1631.4 L1097.4 1626.6 L1098.0 1624.7 L1098.7 1625.4 L1099.3 1630.6 L1100.0 1625.4 L1100.7 1627.5 L1101.4 1626.6 L1102.1 1629.9 L1102.8 1627.8 L1103.5 1627.0 L1104.1 1629.9 L1104.8 1628.0 L1105.5 1627.8 L1106.2 1625.9 L1106.9 1629.0 L1107.6 1627.0 L1108.3 1629.2 L1109.0 1625.7 L1109.7 1627.0 L1110.4 1625.5 L1111.1 1624.1 L1111.8 1624.1 L1112.5 1625.1 L1113.1 1627.3 L1113.8 1627.7 L1114.5 1627.4 L1115.2 1628.4 L1115.9 1627.9 L1116.6 1628.8 L1117.3 1631.9 L1118.0 1625.6 L1118.7 1629.5 L1119.4 1626.0 L1120.1 1626.6 L1120.7 1628.2 L1121.4 1628.7 L1122.0 1629.1 L1122.7 1628.0 L1123.3 1631.4 L1124.0 1631.1 L1124.6 1629.7 L1125.3 1635.5 L1125.9 1639.1 L1126.6 1638.3 L1127.2 1631.7 L1127.8 1637.1 L1128.5 1634.7 L1129.1 1642.1 L1129.8 1646.5 L1130.4 1633.8 L1131.1 1638.3 L1131.8 1641.8 L1132.5 1636.7 L1133.2 1637.0 L1133.9 1631.8 L1134.6 1633.7 L1135.3 1636.3 L1136.0 1634.9 L1136.7 1636.3 L1137.4 1633.1 L1138.0 1634.7 L1138.7 1633.4 L1139.3 1634.8 L1139.9 1634.3 L1140.6 1638.6 L1141.2 1636.2 L1141.9 1634.9 L1142.5 1639.0 L1143.2 1637.7 L1143.8 1636.8 L1144.4 1639.4 L1145.1 1637.3 L1145.7 1638.4 L1146.4 1641.7 L1147.0 1637.6 L1147.6 1639.4 L1148.3 1644.4 L1148.9 1638.6 L1149.6 1637.6 L1150.2 1644.2 L1150.8 1643.9 L1151.5 1637.0 L1152.1 1638.8 L1152.8 1640.0 L1153.4 1639.0 L1154.1 1641.3 L1154.7 1638.0 L1155.4 1638.1 L1156.0 1644.6 L1156.7 1637.2 L1157.3 1641.3 L1158.0 1642.8 L1158.6 1640.5 L1159.3 1640.2 L1160.0 1647.5 L1160.7 1643.5 L1161.4 1644.8 L1162.1 1644.7 L1162.8 1644.8 L1163.5 1646.1 L1164.2 1645.8 L1164.8 1642.7 L1165.5 1647.0 L1166.2 1645.8 L1166.9 1645.3 L1167.6 1648.3 L1168.3 1644.5 L1169.0 1646.7 L1169.7 1645.2 L1170.4 1647.0 L1171.1 1651.7 L1171.8 1644.3 L1172.5 1645.3 L1173.2 1648.5 L1173.8 1649.7 L1174.5 1647.5 L1175.1 1646.1 L1175.8 1652.5 L1176.4 1644.1 L1177.1 1645.6 L1177.7 1645.7 L1178.3 1643.4 L1179.0 1645.7 L1179.6 1641.8 L1180.3 1648.9 L1180.9 1642.4 L1181.5 1650.1 L1182.2 1649.5 L1182.8 1646.2 L1183.5 1649.5 L1184.1 1651.0 L1184.7 1650.9 L1185.4 1651.2 L1186.1 1649.7 L1186.8 1649.8 L1187.5 1651.6 L1188.2 1650.1 L1188.9 1649.0 L1189.5 1651.3 L1190.2 1645.9 L1190.9 1649.8 L1191.6 1652.0 L1192.3 1648.6 L1193.0 1646.3 L1193.6 1644.7 L1194.2 1649.5 L1194.9 1648.3 L1195.5 1649.4 L1196.2 1647.8 L1196.8 1647.3 L1197.4 1647.1 L1198.1 1645.0 L1198.8 1647.4 L1199.5 1646.8 L1200.2 1645.5 L1200.9 1644.7 L1201.5 1650.0 L1202.2 1649.8 L1202.9 1650.0 L1203.6 1649.6 L1204.3 1652.0 L1205.0 1650.3 L1205.7 1650.3 L1206.4 1649.3 L1207.1 1647.2 L1207.8 1651.7 L1208.5 1649.0 L1209.2 1656.0 L1209.9 1654.5 L1210.5 1653.6 L1211.2 1653.1 L1211.9 1649.9 L1212.6 1651.2 L1213.3 1653.2 L1214.0 1649.9 L1214.7 1652.6 L1215.4 1650.3 L1216.1 1654.4 L1216.8 1647.0 L1217.5 1649.4 L1218.2 1646.6 L1218.9 1647.0 L1219.5 1652.1 L1220.2 1651.1 L1220.9 1646.2 L1221.6 1648.1 L1222.3 1651.3 L1223.0 1650.4 L1223.7 1648.5 L1224.4 1646.7 L1225.1 1648.7 L1225.8 1650.6 L1226.5 1651.9 L1227.2 1647.3 L1227.9 1646.9 L1228.5 1649.0 L1229.2 1646.1 L1229.9 1647.4 L1230.6 1646.2 L1231.3 1647.3 L1232.0 1648.5 L1232.7 1647.9 L1233.4 1647.2 L1234.1 1649.7 L1234.8 1643.0 L1235.5 1647.5 L1236.2 1646.3 L1236.9 1647.4 L1237.6 1648.4 L1238.2 1642.6 L1238.9 1648.2 L1239.6 1648.5 L1240.3 1647.5 L1241.0 1647.8 L1241.7 1649.4 L1242.4 1653.0 L1243.1 1647.2 L1243.8 1645.5 L1244.5 1646.9 L1245.2 1647.3 L1245.9 1643.9 L1246.6 1654.8 L1247.2 1641.9 L1247.9 1649.6 L1248.5 1647.3 L1249.2 1648.7 L1249.9 1648.5 L1250.5 1641.9 L1251.2 1647.4 L1251.9 1649.1 L1252.7 1652.8 L1253.5 1653.7 L1254.2 1654.6 L1254.9 1652.5 L1255.6 1656.0 L1256.2 1651.8 L1256.9 1651.9 L1257.6 1654.3 L1258.3 1652.0 L1259.0 1653.5 L1259.7 1655.9 L1260.4 1655.3 L1261.1 1652.2 L1261.8 1651.5 L1262.5 1655.7 L1263.2 1660.9 L1263.9 1653.9 L1264.6 1654.2 L1265.2 1656.6 L1265.9 1654.8 L1266.6 1653.1 L1267.3 1655.0 L1268.0 1659.3 L1268.6 1651.1 L1269.2 1657.0 L1269.9 1653.3 L1270.5 1654.0 L1271.2 1654.3 L1271.8 1653.5 L1272.5 1654.4 L1273.1 1652.6 L1273.8 1656.8 L1274.4 1653.5 L1275.1 1657.2 L1275.7 1653.4 L1276.4 1658.6 L1277.1 1658.9 L1277.7 1657.4 L1278.4 1657.1 L1279.0 1658.1 L1279.6 1662.7 L1280.3 1661.3 L1280.9 1654.1 L1281.6 1667.3 L1282.2 1663.2 L1282.8 1664.3 L1283.5 1662.6 L1284.1 1664.8 L1284.8 1660.7 L1285.4 1657.6 L1286.0 1660.9 L1286.7 1659.5 L1287.3 1660.6 L1288.0 1659.4 L1288.6 1661.3 L1289.3 1656.1 L1289.9 1660.0 L1290.6 1660.2 L1291.2 1657.6 L1291.9 1654.3 L1292.5 1658.7 L1293.2 1659.0 L1293.9 1657.2 L1294.5 1658.5 L1295.2 1654.8 L1295.8 1656.6 L1296.5 1655.9 L1297.2 1653.6 L1297.8 1653.7 L1298.5 1653.0 L1299.1 1654.0 L1299.8 1655.2 L1300.5 1653.2 L1301.1 1656.0 L1301.8 1657.1 L1302.4 1658.2 L1303.1 1661.3 L1303.7 1658.5 L1304.4 1657.9 L1305.0 1662.6 L1305.7 1665.2 L1306.3 1657.4 L1306.9 1665.0 L1307.6 1662.4 L1308.2 1664.3 L1308.9 1662.3 L1309.6 1660.2 L1310.3 1664.0 L1310.9 1661.5 L1311.6 1661.9 L1312.3 1664.1 L1313.0 1665.9 L1313.7 1658.4 L1314.4 1663.0 L1315.1 1662.4 L1315.8 1664.7 L1316.5 1664.1 L1317.2 1661.9 L1317.9 1662.8 L1318.6 1664.7 L1319.3 1662.3 L1319.9 1661.2 L1320.6 1661.5 L1321.3 1664.3 L1322.0 1663.8 L1322.7 1664.1 L1323.4 1662.8 L1324.1 1662.9 L1324.8 1663.0 L1325.5 1663.1 L1326.2 1665.8 L1326.9 1665.5 L1327.6 1668.3 L1328.3 1665.0 L1329.0 1663.8 L1329.6 1664.3 L1330.3 1665.6 L1331.0 1669.9 L1331.7 1662.8 L1332.4 1660.8 L1333.1 1665.3 L1333.8 1665.6 L1334.5 1665.5 L1335.2 1664.6 L1335.9 1667.3 L1336.6 1664.1 L1337.3 1664.2 L1338.0 1662.3 L1338.6 1662.1 L1339.3 1663.7 L1340.0 1662.5 L1340.7 1662.8 L1341.4 1660.3 L1342.1 1665.6 L1342.8 1663.4 L1343.5 1661.4 L1344.2 1661.4 L1344.9 1665.3 L1345.6 1662.0 L1346.3 1664.9 L1347.0 1659.2 L1347.6 1665.7 L1348.3 1666.4 L1349.0 1667.2 L1349.7 1666.6 L1350.4 1666.5 L1351.1 1665.5 L1351.8 1664.6 L1352.5 1664.6 L1353.2 1667.7 L1353.9 1663.4 L1354.6 1667.0 L1355.3 1666.2 L1356.0 1666.3 L1356.6 1665.1 L1357.3 1664.1 L1358.0 1665.5 L1358.7 1666.1 L1359.4 1666.5 L1360.1 1664.8 L1360.8 1662.8 L1361.5 1665.9 L1362.2 1667.3 L1362.9 1664.9 L1363.6 1666.6 L1364.3 1665.0 L1365.0 1666.4 L1365.6 1668.1 L1366.3 1665.4 L1367.0 1666.1 L1367.7 1667.0 L1368.4 1667.5 L1369.1 1670.0 L1369.8 1665.5 L1370.5 1666.0 L1371.2 1668.3 L1371.9 1669.0 L1372.6 1669.7 L1373.3 1664.4 L1374.0 1667.1 L1374.7 1665.2 L1375.3 1665.2 L1376.0 1667.6 L1376.7 1667.3 L1377.4 1670.2 L1378.1 1665.7 L1378.8 1664.8 L1379.5 1668.0 L1380.2 1667.7 L1380.9 1666.7 L1381.6 1666.2 L1382.3 1666.0 L1383.0 1665.6 L1383.7 1665.8 L1384.3 1663.0 L1385.0 1668.4 L1385.7 1668.1 L1386.3 1666.5 L1387.0 1662.0 L1387.6 1666.3 L1388.2 1664.7 L1388.9 1667.0 L1389.5 1660.4 L1390.2 1664.4 L1390.8 1664.9 L1391.5 1663.8 L1392.1 1662.0 L1392.8 1658.7 L1393.4 1663.9 L1394.1 1657.1 L1394.8 1657.4 L1395.4 1657.4 L1396.1 1664.2 L1396.7 1658.1 L1397.4 1659.1 L1398.1 1666.2 L1398.7 1664.2 L1399.4 1661.9 L1400.0 1662.7 L1400.7 1659.0 L1401.4 1663.4 L1402.0 1663.3 L1402.7 1664.9 L1403.3 1665.9 L1404.0 1669.4 L1404.7 1667.2 L1405.3 1663.3 L1406.0 1664.8 L1406.7 1663.8 L1407.4 1668.1 L1408.1 1666.1 L1408.8 1668.0 L1409.5 1668.0 L1410.2 1665.4 L1410.9 1668.5 L1411.6 1669.3 L1412.3 1667.5 L1413.0 1666.2 L1413.7 1666.5 L1414.4 1667.7 L1415.0 1665.8 L1415.7 1662.8 L1416.4 1666.6 L1417.1 1665.5 L1417.8 1666.0 L1418.5 1663.4 L1419.2 1664.6 L1419.9 1665.9 L1420.6 1659.5 L1421.3 1667.6 L1422.0 1665.9 L1422.7 1663.5 L1423.4 1663.8 L1424.0 1664.1 L1424.7 1663.8 L1425.4 1664.6 L1426.1 1665.7 L1426.8 1667.0 L1427.4 1664.9 L1428.1 1664.0 L1428.8 1664.7 L1429.5 1666.4 L1430.1 1665.6 L1430.8 1663.7 L1431.5 1668.9 L1432.2 1665.5 L1432.8 1667.7 L1433.5 1663.2 L1434.1 1664.2 L1434.8 1668.6 L1435.4 1668.5 L1436.1 1666.1 L1436.7 1666.5 L1437.4 1666.3 L1438.0 1666.0 L1438.6 1662.6 L1439.3 1662.3 L1440.0 1666.8 L1440.7 1667.8 L1441.4 1665.4 L1442.0 1667.1 L1442.7 1666.7 L1443.4 1668.7 L1444.1 1666.7 L1444.8 1667.9 L1445.5 1669.9 L1446.2 1669.0 L1446.9 1668.9 L1447.6 1670.5 L1448.3 1669.9 L1449.0 1668.1 L1449.7 1667.5 L1450.4 1670.7 L1451.0 1667.0 L1451.7 1669.4 L1452.4 1670.1 L1453.1 1672.6 L1453.8 1673.1 L1454.5 1672.9 L1455.2 1671.6 L1455.9 1670.1 L1456.6 1671.4 L1457.3 1670.4 L1458.0 1674.2 L1458.7 1671.3 L1459.4 1671.0 L1460.1 1668.8 L1460.7 1673.5 L1461.4 1664.1 L1462.1 1668.9 L1462.8 1664.9 L1463.5 1666.7 L1464.2 1667.6 L1464.8 1666.2 L1465.5 1668.7 L1466.1 1670.3 L1466.7 1669.1 L1467.4 1668.7 L1468.0 1666.8 L1468.6 1669.7 L1469.3 1669.9 L1470.0 1669.4 L1470.7 1670.8 L1471.4 1670.0 L1472.1 1671.9 L1472.7 1666.9 L1473.4 1667.2 L1474.1 1672.0 L1474.8 1670.2 L1475.5 1667.2 L1476.2 1669.6 L1476.9 1671.1 L1477.6 1674.1 L1478.3 1669.4 L1479.0 1670.8 L1479.7 1668.6 L1480.4 1671.1 L1481.1 1671.2 L1481.7 1666.3 L1482.4 1667.6 L1483.1 1670.8 L1483.8 1670.0 L1484.5 1668.0 L1485.2 1668.1 L1485.9 1670.4 L1486.6 1668.7 L1487.3 1669.8 L1488.0 1668.6 L1488.7 1669.3 L1489.4 1671.1 L1490.1 1667.2 L1490.7 1670.4 L1491.4 1666.3 L1492.0 1666.8 L1492.7 1665.3 L1493.4 1663.8 L1494.0 1661.0 L1494.7 1659.6 L1495.3 1663.5 L1496.0 1663.9 L1496.6 1666.1 L1497.2 1661.7 L1497.9 1666.1 L1498.5 1665.5 L1499.2 1669.2 L1499.8 1669.7 L1500.4 1668.8 L1501.1 1668.6 L1501.7 1670.8 L1502.4 1668.1 L1503.0 1671.5 L1503.6 1670.4 L1504.3 1670.3 L1504.9 1670.6 L1505.6 1673.4 L1506.2 1672.4 L1506.9 1670.3 L1507.6 1670.6 L1508.3 1674.8 L1509.0 1673.3 L1509.7 1670.1 L1510.4 1671.2 L1511.1 1671.8 L1511.8 1671.4 L1512.4 1670.1 L1513.1 1673.0 L1513.8 1672.1 L1514.5 1665.9 L1515.2 1671.3 L1515.9 1672.2 L1516.6 1672.6 L1517.3 1668.4 L1518.0 1670.0 L1518.7 1670.4 L1519.4 1669.6 L1520.1 1667.9 L1520.8 1670.1 L1521.4 1671.5 L1522.1 1670.3 L1522.8 1666.8 L1523.5 1668.9 L1524.2 1671.7 L1524.9 1669.5 L1525.6 1670.1 L1526.3 1669.5 L1527.0 1669.4 L1527.7 1674.3 L1528.4 1671.4 L1529.1 1665.6 L1529.8 1669.3 L1530.4 1668.9 L1531.1 1666.9 L1531.8 1669.9 L1532.5 1671.1 L1533.2 1668.4 L1533.9 1671.2 L1534.6 1669.9 L1535.3 1673.4 L1536.0 1670.2 L1536.7 1667.7 L1537.4 1670.0 L1538.1 1674.3 L1538.8 1672.0 L1539.4 1671.3 L1540.1 1672.8 L1540.8 1674.0 L1541.5 1671.8 L1542.2 1668.6 L1542.9 1668.2 L1543.6 1671.6 L1544.3 1671.1 L1545.0 1671.1 L1545.7 1674.2 L1546.4 1671.9 L1547.1 1673.3 L1547.8 1671.6 L1548.4 1670.1 L1549.1 1670.7 L1549.8 1669.9 L1550.5 1673.2 L1551.2 1670.5 L1551.9 1671.0 L1552.6 1671.7 L1553.3 1669.9 L1554.0 1671.4 L1554.7 1673.8 L1555.4 1672.6 L1556.1 1673.8 L1556.8 1670.7 L1557.5 1671.2 L1558.1 1672.7 L1558.8 1672.0 L1559.5 1674.7 L1560.2 1669.8 L1560.9 1673.2 L1561.6 1674.1 L1562.2 1674.3 L1562.9 1674.1 L1563.5 1672.7 L1564.2 1673.1 L1564.8 1673.5 L1565.5 1670.1 L1566.1 1668.9 L1566.7 1670.1 L1567.4 1671.0 L1568.0 1671.3 L1568.7 1676.3 L1569.4 1668.9 L1570.1 1670.5 L1570.7 1673.6 L1571.4 1672.2 L1572.1 1672.5 L1572.8 1669.9 L1573.4 1671.1 L1574.1 1673.0 L1574.8 1672.7 L1575.5 1672.4 L1576.1 1671.7 L1576.8 1671.6 L1577.5 1672.0 L1578.2 1672.7 L1578.9 1669.1 L1579.6 1671.2 L1580.3 1670.9 L1581.0 1668.1 L1581.7 1670.9 L1582.4 1670.6 L1583.1 1671.3 L1583.8 1671.6 L1584.5 1671.8 L1585.1 1673.1 L1585.8 1670.7 L1586.5 1672.0 L1587.2 1672.2 L1587.9 1672.0 L1588.6 1672.2 L1589.3 1673.9 L1590.0 1674.3 L1590.7 1671.4 L1591.4 1669.7 L1592.1 1671.0 L1592.8 1671.8 L1593.5 1670.1 L1594.1 1669.0 L1594.8 1669.0 L1595.5 1668.3 L1596.2 1670.2 L1596.9 1672.1 L1597.5 1670.4 L1598.2 1671.1 L1598.9 1671.6 L1599.5 1671.6 L1600.2 1671.0 L1600.8 1672.8 L1601.5 1672.1 L1602.2 1671.1 L1602.8 1669.6 L1603.5 1670.3 L1604.1 1668.6 L1604.8 1667.9 L1605.5 1665.3 L1606.1 1665.6 L1606.8 1669.2 L1607.4 1666.0 L1608.1 1668.9 L1608.8 1668.6 L1609.4 1668.0 L1610.1 1669.1 L1610.7 1669.6 L1611.4 1670.3 L1612.0 1668.2 L1612.6 1670.2 L1613.3 1670.1 L1613.9 1674.0 L1614.6 1672.2 L1615.2 1672.8 L1615.8 1675.1 L1616.5 1675.1 L1617.2 1670.9 L1617.9 1674.8 L1618.6 1673.0 L1619.3 1673.2 L1620.0 1676.6 L1620.6 1674.5 L1621.3 1678.0 L1621.9 1675.5 L1622.6 1674.2 L1623.2 1674.6 L1623.9 1672.8 L1624.5 1675.9 L1625.1 1673.8 L1625.8 1675.6 L1626.4 1676.2 L1627.1 1672.7 L1627.7 1673.6 L1628.4 1671.4 L1629.0 1672.9 L1629.6 1673.5 L1630.3 1673.1 L1630.9 1676.0 L1631.6 1675.7 L1632.2 1673.9 L1632.9 1674.2 L1633.5 1674.3 L1634.1 1674.9 L1634.8 1674.1 L1635.4 1673.8 L1636.1 1676.5 L1636.7 1675.4 L1637.4 1675.1 L1638.0 1676.1 L1638.7 1676.0 L1639.3 1676.1 L1639.9 1674.7 L1640.6 1677.2 L1641.2 1679.3 L1641.9 1675.7 L1642.5 1677.0 L1643.2 1677.2 L1643.8 1674.6 L1644.4 1677.8 L1645.1 1677.3 L1645.7 1676.1 L1646.4 1678.2 L1647.0 1676.0 L1647.7 1676.2 L1648.3 1674.4 L1648.9 1675.3 L1649.6 1677.0 L1650.2 1674.3 L1650.9 1670.5 L1651.5 1673.7 L1652.2 1676.2 L1652.8 1673.7 L1653.4 1673.3 L1654.1 1674.9 L1654.7 1673.6 L1655.4 1673.5 L1656.0 1674.1 L1656.7 1674.4 L1657.3 1673.1 L1657.9 1671.2 L1658.6 1674.0 L1659.2 1674.2 L1659.9 1674.8 L1660.5 1672.8 L1661.2 1677.6 L1661.8 1671.9 L1662.4 1676.1 L1663.1 1672.8 L1663.7 1673.8 L1664.4 1674.0 L1665.0 1674.2 L1665.7 1675.9 L1666.3 1672.0 L1667.0 1673.8 L1667.6 1671.6 L1668.2 1673.4 L1668.9 1673.2 L1669.5 1673.3 L1670.2 1672.7 L1670.8 1672.1 L1671.5 1671.8 L1672.1 1671.5 L1672.8 1671.8 L1673.5 1670.3 L1674.1 1675.8 L1674.8 1673.0 L1675.4 1670.5 L1676.1 1671.4 L1676.8 1672.7 L1677.4 1667.9 L1678.1 1669.3 L1678.8 1668.4 L1679.5 1667.6 L1680.1 1668.0 L1680.8 1668.5 L1681.5 1671.7 L1682.2 1668.1 L1682.8 1669.0 L1683.5 1671.5 L1684.2 1670.2 L1684.9 1674.7 L1685.5 1673.0 L1686.2 1670.6 L1686.8 1671.3 L1687.5 1671.9 L1688.1 1674.6 L1688.8 1672.3 L1689.4 1672.9 L1690.1 1674.5 L1690.7 1673.6 L1691.4 1675.2 L1692.0 1676.1 L1692.7 1674.4 L1693.3 1675.5 L1694.0 1676.9 L1694.6 1674.5 L1695.2 1674.3 L1695.9 1677.2 L1696.5 1676.0 L1697.2 1676.6 L1697.8 1676.9 L1698.5 1676.6 L1699.1 1678.3 L1699.8 1674.4 L1700.4 1672.4 L1701.0 1677.2 L1701.7 1676.3 L1702.3 1678.7 L1703.0 1675.3 L1703.6 1679.5 L1704.3 1674.3 L1704.9 1676.8 L1705.5 1677.0 L1706.2 1674.1 L1706.8 1671.6 L1707.5 1672.3 L1708.1 1676.0 L1708.8 1676.0 L1709.4 1678.5 L1710.0 1675.7 L1710.7 1677.0 L1711.3 1677.9 L1712.0 1675.0 L1712.6 1674.9 L1713.3 1675.3 L1713.9 1674.5 L1714.5 1675.1 L1715.2 1675.5 L1715.8 1675.3 L1716.5 1676.5 L1717.1 1673.7 L1717.8 1675.2 L1718.4 1673.6 L1719.0 1673.7 L1719.7 1676.1 L1720.3 1672.4 L1721.0 1674.8 L1721.6 1672.5 L1722.3 1672.6 L1722.9 1675.1 L1723.5 1674.5 L1724.2 1675.7 L1724.8 1675.8 L1725.5 1674.2 L1726.1 1673.2 L1726.8 1672.6 L1727.4 1672.0 L1728.1 1674.9 L1728.7 1673.5 L1729.3 1674.1 L1730.0 1675.0 L1730.6 1672.9 L1731.3 1671.6 L1731.9 1675.2 L1732.6 1672.6 L1733.2 1673.3 L1733.9 1671.7 L1734.6 1672.4 L1735.3 1674.1 L1736.0 1673.1 L1736.6 1673.1 L1737.3 1674.3 L1738.0 1677.2 L1738.7 1673.5 L1739.4 1672.7 L1740.1 1675.2 L1740.8 1673.8 L1741.5 1672.7 L1742.1 1674.6 L1742.8 1675.2 L1743.5 1675.7 L1744.2 1676.4 L1744.8 1674.0 L1745.5 1676.8 L1746.2 1676.6 L1746.9 1674.9 L1747.6 1672.9 L1748.3 1670.8 L1749.0 1669.0 L1749.7 1666.8 L1750.3 1664.4 L1750.9 1663.2 L1751.5 1660.8 L1752.1 1658.7 L1752.6 1661.2 L1753.2 1663.9 L1753.8 1666.6 L1754.4 1669.1 L1755.1 1670.7 L1755.8 1672.2 L1756.5 1673.6 L1757.2 1675.4 L1757.9 1677.7 L1758.6 1675.8 L1759.3 1676.8 L1760.0 1677.3 L1760.7 1678.1 L1761.4 1676.6 L1762.1 1676.7 L1762.8 1679.2 L1763.5 1679.0 L1764.1 1678.7 L1764.8 1678.8 L1765.5 1676.1 L1766.2 1678.2 L1766.9 1677.0 L1767.5 1676.0 L1768.1 1676.9 L1768.8 1677.8 L1769.4 1677.6 L1770.1 1676.5 L1770.7 1678.3 L1771.4 1677.8 L1772.0 1676.4 L1772.6 1675.1 L1773.3 1678.3 L1773.9 1675.7 L1774.6 1675.5 L1775.2 1674.1 L1775.9 1675.5 L1776.5 1675.4 L1777.1 1675.2 L1777.8 1677.2 L1778.4 1676.2 L1779.1 1675.4 L1779.7 1677.7 L1780.4 1676.9 L1781.0 1680.6 L1781.6 1677.1 L1782.3 1678.2 L1782.9 1676.3 L1783.6 1678.1 L1784.2 1674.8 L1784.9 1678.5 L1785.5 1678.4 L1786.1 1677.9 L1786.8 1679.7 L1787.4 1675.0 L1788.1 1677.6 L1788.7 1677.3 L1789.4 1676.1 L1790.0 1676.9 L1790.7 1676.6 L1791.3 1674.6 L1791.9 1677.7 L1792.6 1676.9 L1793.2 1677.1 L1793.9 1676.1 L1794.5 1674.9 L1795.2 1675.0 L1795.8 1677.0 L1796.4 1678.8 L1797.1 1676.1 L1797.7 1675.9 L1798.4 1676.4 L1799.0 1675.3 L1799.7 1675.3 L1800.3 1676.1 L1800.9 1674.3 L1801.6 1675.6 L1802.2 1675.8 L1802.9 1677.5 L1803.5 1677.1 L1804.2 1676.5 L1804.8 1675.4 L1805.4 1679.2 L1806.1 1677.6 L1806.7 1677.0 L1807.4 1676.9 L1808.0 1676.4 L1808.7 1677.9 L1809.3 1677.4 L1809.9 1677.4 L1810.6 1677.2 L1811.2 1674.2 L1811.9 1676.1 L1812.5 1677.0 L1813.2 1676.3 L1813.8 1676.5 L1814.4 1676.1 L1815.1 1677.5 L1815.7 1675.7 L1816.4 1677.2 L1817.0 1676.9 L1817.7 1675.0 L1818.4 1674.6 L1819.0 1674.0 L1819.7 1673.5 L1820.3 1671.1 L1821.0 1673.4 L1821.6 1672.1 L1822.3 1670.4 L1822.9 1673.5 L1823.6 1675.5 L1824.3 1673.4 L1824.9 1676.2 L1825.6 1676.1 L1826.2 1676.3 L1826.9 1674.8 L1827.5 1674.5 L1828.2 1675.4 L1828.8 1677.0 L1829.5 1672.3 L1830.1 1676.6 L1830.7 1677.1 L1831.4 1674.9 L1832.0 1676.4 L1832.7 1677.2 L1833.3 1677.9 L1834.0 1674.8 L1834.6 1674.1 L1835.2 1678.0 L1835.9 1675.4 L1836.5 1675.7 L1837.2 1675.7 L1837.8 1677.1 L1838.5 1677.3 L1839.1 1676.9 L1839.7 1678.5 L1840.4 1677.9 L1841.0 1677.3 L1841.7 1679.0 L1842.3 1680.4 L1843.0 1678.2 L1843.6 1677.5 L1844.3 1677.4 L1845.0 1678.4 L1845.6 1678.7 L1846.3 1678.0 L1846.9 1682.4 L1847.6 1681.1 L1848.2 1681.5 L1848.9 1679.8 L1849.5 1679.6 L1850.2 1679.2 L1850.8 1675.5 L1851.5 1675.3 L1852.2 1674.1 L1852.8 1675.3 L1853.5 1677.1 L1854.1 1673.8 L1854.8 1676.0 L1855.4 1672.8 L1856.0 1673.8 L1856.7 1672.3 L1857.3 1671.8 L1858.0 1671.6 L1858.6 1670.9 L1859.3 1675.0 L1859.9 1673.3 L1860.5 1671.0 L1861.2 1672.2 L1861.9 1674.9 L1862.5 1673.5 L1863.2 1671.0 L1863.8 1671.9 L1864.5 1675.6 L1865.1 1674.7 L1865.8 1673.8 L1866.4 1673.2 L1867.1 1671.6 L1867.7 1674.4 L1868.4 1672.2 L1869.1 1677.8 L1869.7 1673.1 L1870.4 1673.7 L1871.0 1671.6 L1871.7 1673.9 L1872.3 1673.8 L1873.0 1677.2 L1873.6 1672.6 L1874.3 1672.7 L1874.9 1673.2 L1875.5 1672.0 L1876.2 1673.7 L1876.8 1675.3 L1877.5 1674.5 L1878.1 1675.1 L1878.8 1674.3 L1879.4 1673.2 L1880.1 1673.8 L1880.7 1673.3 L1881.3 1673.6 L1882.0 1674.3 L1882.6 1673.9 L1883.3 1673.5 L1883.9 1674.6 L1884.6 1674.4 L1885.2 1673.1 L1885.8 1674.2 L1886.5 1673.7 L1887.1 1672.7 L1887.8 1674.2 L1888.4 1672.3 L1889.1 1674.0 L1889.7 1675.8 L1890.3 1674.7 L1891.0 1672.3 L1891.6 1673.0 L1892.3 1675.6 L1892.9 1674.2 L1893.6 1673.6 L1894.2 1673.5 L1894.8 1674.6 L1895.5 1674.6 L1896.1 1672.6 L1896.8 1673.8 L1897.4 1673.3 L1898.1 1674.7 L1898.7 1672.4 L1899.3 1672.9 L1900.0 1670.2 L1900.6 1672.5 L1901.3 1670.5 L1902.0 1670.7 L1902.7 1670.4 L1903.3 1671.1 L1904.0 1667.8 L1904.7 1667.7 L1905.3 1666.5 L1906.1 1667.4 L1906.8 1665.0 L1907.5 1667.4 L1908.2 1663.1 L1908.9 1665.3 L1909.6 1664.5 L1910.2 1668.2 L1910.9 1665.9 L1911.5 1664.2 L1912.2 1666.0 L1912.8 1667.3 L1913.5 1667.2 L1914.1 1669.2 L1914.8 1668.6 L1915.4 1669.3 L1916.1 1669.5 L1916.7 1672.9 L1917.4 1672.2 L1918.1 1673.5 L1918.7 1672.4 L1919.4 1673.9 L1920.0 1674.5 L1920.7 1676.0 L1921.3 1673.4 L1922.0 1673.8 L1922.6 1672.6 L1923.3 1673.4 L1924.0 1675.2 L1924.6 1674.2 L1925.3 1674.9 L1925.9 1673.4 L1926.6 1673.1 L1927.2 1673.2 L1927.9 1672.6 L1928.5 1674.6 L1929.1 1674.9 L1929.8 1674.9 L1930.4 1673.6 L1931.1 1674.4 L1931.7 1674.6 L1932.4 1677.3 L1933.0 1676.9 L1933.6 1678.5 L1934.3 1674.1 L1934.9 1675.3 L1935.6 1678.4 L1936.2 1676.1 L1936.9 1676.3 L1937.5 1677.9 L1938.1 1676.2 L1938.8 1675.4 L1939.4 1676.1 L1940.1 1676.5 L1940.7 1678.4 L1941.4 1677.1 L1942.0 1675.7 L1942.7 1675.2 L1943.3 1675.2 L1943.9 1675.4 L1944.6 1675.5 L1945.2 1676.7 L1945.9 1676.2 L1946.5 1675.9 L1947.2 1677.1 L1947.8 1675.8 L1948.4 1676.3 L1949.1 1673.4 L1949.7 1675.8 L1950.4 1674.8 L1951.0 1674.8 L1951.7 1674.5 L1952.3 1674.2 L1952.9 1675.6 L1953.6 1673.6 L1954.2 1677.1 L1954.9 1674.4 L1955.5 1673.5 L1956.2 1673.9 L1956.8 1675.0 L1957.4 1675.7 L1958.1 1676.7 L1958.7 1676.6 L1959.4 1675.1 L1960.0 1674.9 L1960.7 1676.4 L1961.3 1675.4 L1961.9 1676.3 L1962.6 1675.3 L1963.2 1677.3 L1963.9 1678.7 L1964.5 1677.3 L1965.2 1676.0 L1965.8 1677.3 L1966.4 1676.0 L1967.1 1676.5 L1967.7 1678.1 L1968.4 1675.9 L1969.0 1675.5 L1969.7 1676.3 L1970.3 1676.1 L1971.0 1675.4 L1971.6 1676.6 L1972.2 1678.8 L1972.9 1676.8 L1973.5 1678.3 L1974.2 1676.5 L1974.8 1678.9 L1975.5 1678.5 L1976.1 1678.5 L1976.7 1678.1 L1977.4 1677.5 L1978.0 1678.4 L1978.7 1678.5 L1979.3 1676.0 L1980.0 1677.3 L1980.6 1678.7 L1981.2 1678.2 L1981.9 1677.3 L1982.5 1677.0 L1983.2 1676.1 L1983.8 1675.8 L1984.5 1678.0 L1985.1 1676.5 L1985.7 1677.2 L1986.4 1678.6 L1987.0 1679.8 L1987.7 1677.7 L1988.3 1679.0 L1989.0 1678.1 L1989.6 1678.2 L1990.2 1676.7 L1990.9 1679.3 L1991.5 1677.7 L1992.2 1676.9 L1992.8 1677.9 L1993.5 1678.5 L1994.1 1675.8 L1994.7 1678.2 L1995.4 1675.1 L1996.0 1677.3 L1996.7 1677.9 L1997.3 1672.7 L1998.0 1676.8 L1998.6 1675.8 L1999.3 1677.5 L1999.9 1676.7 L2000.5 1675.5 L2001.2 1675.6 L2001.8 1674.8 L2002.5 1676.3 L2003.1 1676.0 L2003.8 1677.4 L2004.4 1675.9 L2005.0 1673.8 L2005.7 1676.3 L2006.3 1673.9 L2007.0 1676.7 L2007.6 1679.1 L2008.3 1674.7 L2008.9 1676.3 L2009.5 1675.3 L2010.2 1679.5 L2010.8 1675.5 L2011.5 1677.2 L2012.1 1676.3 L2012.8 1675.7 L2013.4 1678.7 L2014.0 1678.8 L2014.7 1677.2 L2015.3 1678.7 L2016.0 1676.9 L2016.6 1676.6 L2017.3 1678.4 L2017.9 1678.1 L2018.5 1679.1 L2019.2 1679.5 L2019.8 1677.4 L2020.5 1675.7 L2021.1 1677.1 L2021.8 1676.7 L2022.4 1674.0 L2023.0 1676.8 L2023.7 1675.8 L2024.3 1676.1 L2025.0 1678.1 L2025.6 1675.5 L2026.3 1678.3 L2026.9 1676.5 L2027.5 1675.9 L2028.2 1677.8 L2028.8 1676.6 L2029.5 1675.9 L2030.1 1676.6 L2030.8 1676.4 L2031.4 1678.1 L2032.1 1678.6 L2032.7 1678.2 L2033.3 1676.3 L2034.0 1678.9 L2034.6 1678.7 L2035.3 1677.9 L2035.9 1679.2 L2036.6 1677.8 L2037.2 1678.7 L2037.8 1677.8 L2038.5 1678.2 L2039.1 1678.2 L2039.8 1679.0 L2040.4 1678.1 L2041.1 1678.0 L2041.7 1678.7 L2042.3 1679.5 L2043.0 1679.2 L2043.6 1680.0 L2044.3 1679.7 L2044.9 1678.5 L2045.6 1677.4 L2046.2 1678.6 L2046.8 1678.0 L2047.5 1679.4 L2048.1 1678.3 L2048.8 1679.3 L2049.4 1678.6 L2050.1 1677.7 L2050.7 1677.4 L2051.3 1679.0 L2052.0 1677.3 L2052.6 1678.6 L2053.3 1681.1 L2053.9 1678.8 L2054.6 1678.4 L2055.2 1678.8 L2055.8 1677.8 L2056.5 1677.8 L2057.1 1678.4 L2057.8 1676.3 L2058.4 1676.6 L2059.1 1678.1 L2059.7 1678.3 L2060.4 1676.2 L2061.0 1678.8 L2061.6 1676.8 L2062.3 1678.1 L2062.9 1677.6 L2063.6 1677.8 L2064.2 1675.1 L2064.9 1676.2 L2065.5 1675.9 L2066.1 1680.2 L2066.8 1677.4 L2067.4 1675.6 L2068.1 1673.9 L2068.7 1676.5 L2069.4 1676.3 L2070.0 1675.5 L2070.7 1674.0 L2071.3 1675.4 L2072.0 1673.8 L2072.7 1674.0 L2073.3 1673.4 L2074.0 1672.8 L2074.6 1672.2 L2075.3 1673.0 L2076.0 1671.2 L2076.7 1670.8 L2077.3 1672.1 L2078.0 1668.2 L2078.7 1667.6 L2079.3 1666.0 L2079.9 1666.8 L2080.5 1666.1 L2081.1 1663.5 L2081.5 1668.7 L2081.1 1664.6 L2081.3 1666.1" stroke="#000000" stroke-width="7"/>
</g>
<g id="ticklabels">
<text class="tick" x="247.5" y="1843">5</text>
<text class="tick" x="414.3" y="1843">10</text>
<text class="tick" x="581.1" y="1843">15</text>
<text class="tick" x="748" y="1843">20</text>
<text class="tick" x="914.8" y="1843">25</text>
<text class="tick" x="1081.6" y="1843">30</text>
<text class="tick" x="1248.4" y="1843">35</text>
<text class="tick" x="1415.2" y="1843">40</text>
<text class="tick" x="1582" y="1843">45</text>
<text class="tick" x="1748.9" y="1843">50</text>
<text class="tick" x="1915.7" y="1843">55</text>
<text class="tick" x="2082.5" y="1843">60</text>
</g>
<g id="axislabels">
<text id="ylab" transform="translate(137.4 1184.9) rotate(-90) scale(1.0025 1)" font-size="97" x="0" y="0">Intensity (a.u.)</text>
<text id="x2" transform="translate(1086.29 1986.9) scale(1.04 1.032)" font-size="89" x="0" y="0">2</text>
<text id="xth" transform="translate(1135.06 1987.45) scale(1.1377 1.0037)" font-size="89" font-family="'Liberation Serif',serif" style="font-family:'Liberation Serif',serif" x="0" y="0">θ</text>
<text id="xdeg" transform="translate(1205.35 1986.47) scale(1.048 1.004)" font-size="89" font-family="'Liberation Serif',serif" style="font-family:'Liberation Serif',serif" x="0" y="0">°</text>
</g>
<g id="peaklabels">
<text class="zz" transform="translate(343 289.6) scale(1.09 1)" x="0" y="0">z</text>
<text class="zz" transform="translate(377 343.9) scale(1.09 1)" x="0" y="0">z</text>
<text class="zz" transform="translate(845 99.8) scale(1.09 1)" x="0" y="0">z</text>
<text class="zz" transform="translate(877.8 212.6) scale(1.09 1)" x="0" y="0">z</text>
<text class="zz" transform="translate(905 331) scale(1.09 1)" x="0" y="0">z</text>
<text class="z" id="a1" transform="translate(1247.66 1233.1) scale(0.951 0.989)" x="0" y="0">*</text>
<text class="z" id="a2" transform="translate(1363.66 1246.2) scale(0.951 0.989)" x="0" y="0">*</text>
</g>
<g id="serieslabels">
<text class="lab" id="l1" transform="translate(1602.45 407.9) scale(0.9986 1.03)" x="0" y="0" style="fill:#0000ff">Cu/GP-Z(60)</text>
<text class="lab" id="l2" transform="translate(1600.25 803) scale(0.9992 1.03)" x="0" y="0" style="fill:#800080">Cu/GP-Z(37)</text>
<text class="lab" id="l3" transform="translate(1809.9 1218.9) scale(0.99 1.03)" x="0" y="0" style="fill:#008000">Cu/GP</text>
<text class="lab" id="l4" transform="translate(1924.16 1655.8) scale(0.9963 1.035)" x="0" y="0" style="font-size:89px">GP</text>
</g>
</svg>
</body>
</html>
